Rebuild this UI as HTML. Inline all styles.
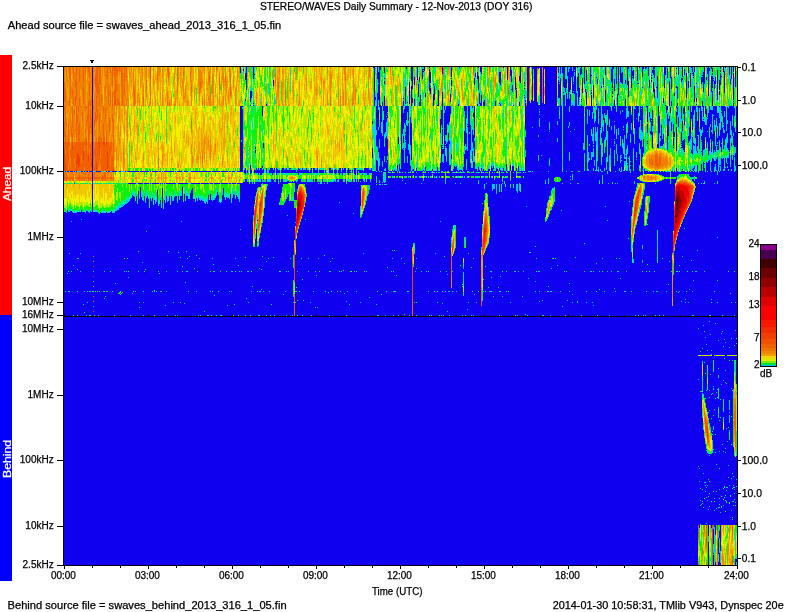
<!DOCTYPE html>
<html><head><meta charset="utf-8"><style>
html,body{margin:0;padding:0;background:#fff;width:792px;height:612px;overflow:hidden}
svg{display:block}
text{font-family:"Liberation Sans",sans-serif;fill:#000;stroke:#000;stroke-width:0.25px}
</style></head><body>
<svg width="792" height="612" viewBox="0 0 792 612" shape-rendering="crispEdges">
<rect x="0" y="55" width="12" height="260" fill="#ff0000"/>
<rect x="0" y="315" width="12" height="266" fill="#0000ff"/>
<rect x="64" y="67" width="673" height="249" fill="#1000f0"/>
<rect x="64" y="317" width="673" height="248" fill="#1000f0"/>
<path fill="none" stroke="#00c8f0" d="M66.5 171v1m1 36v2m1 1v1m0 79v1m1-121v1m0 38v2m0 41v1m1-45v2m1-28v1m0 37v1m2-51v1m0 93v1m1-55v2m1-42v1m0 11v1m0 28v1m1-1v1m1-42v1m0 39v1m0 46v1m0 10v1m1-99v1m0 86v1m2-88v1m0 81v1m0 17v1m1-63v1m0 9v1m3 71v1m1-109v1m0 28v1m1-3v1m0 104v1m1-133v1m0 26v1m0 80v1m0 10v1m1-92v1m1-29v1m0 28v1m0 78v1m1-82v1m1 0v1m2-41v1m0 39v1m2-41v1m0 11v1m0 27v1m1-1v1m1-29v1m1 131v1m1-25v1m1-109v1m2-13v1m0 40v1m1-42v1m0 39v2m1 58v1m0 19v1m0 6v1m1-87v1m2-1v1m0 78v1m1-109v1m0 28v1m1-30v1m0 28v1m1-42v1m1-1v1m0 38v1m1 1v1m1-30v1m0 28v1m1-1v1m0 102v1m1-108v3m1-3v3m1-40v1m0 37v1m1-39v1m0 11v1m0 23v3m1-5v3m1-1v1m1-37v1m0 32v3m1-36v1m0 32v3m1-3v2m2-23v1m0 19v1m1-33v1m0 28v4m0 67v1m1-72v3m1 74v1m1-79v2m1-4v2m0 116v1m2-123v2m0 98v1m1-101v3m0 95v1m1-98v3m2-14v1m0 9v3m2 75v1m1-75v2m2-6v4m1-2v5m0 62v1m1-80v1m0 107v1m0 10v1m0 12v1m1-123v3m1 5v2m1-7v2m0 33v1m1-39v3m1 2v1m1-28v1m0 11v1m0 22v2m1-14v4m1-15v1m0 15v2m1-6v3m2 1v1m1 0v4m1-5v3m0 89v1m2-121v1m0 33v1m0 65v1m1-89v1m0 19v1m1-7v3m0 91v1m1-109v1m0 20v4m3-11v3m1-17v1m0 17v2m0 102v1m1-114v4m0 75v1m0 19v1m1-94v4m0 113v1m1-117v2m4-2v2m1-1v1m2-8v3m0 119v1m2-133v1m0 17v2m0 68v1m0 43v1m1-123v3m1 3v1m1-8v4m1-3v3m0 25v1m1-51v1m0 99v1m1-101v1m1 18v4m0 109v1m2-111v3m0 75v1m1-79v3m1-25v1m0 11v1m0 12v3m1-1v1m1-16v1m0 7v2m4 5v1m1 2v1m1-6v2m0 93v1m1-93v2m1-5v2m1 0v2m1-17v1m0 14v3m0 114v1m1-117v1m1-1v2m1-2v2m1 0v2m1-3v4m1-4v2m1-4v6m1-11v2m0 120v1m1-133v1m3 14v3m0 57v1m1-76v1m0 14v2m0 64v1m0 6v1m1-74v2m0 71v1m1-76v2m1-4v2m0 119v1m1-128v4m1 0v3m0 96v1m2-121v1m1 28v2m0 113v1m1-124v3m3 4v1m1-4v1m1-1v2m1-15v1m0 13v1m1-3v4m0 92v1m1-101v3m1-11v1m0 18v1m0 68v1m0 19v1m1-96v2m0 73v1m1-81v3m1-3v4m1-24v1m0 26v1m0 59v1m1-67v3m1 1v1m1-4v6m0 66v1m1-67v3m0 69v1m1-199v1m0 155v1m1-90v2m1-35v2m1-42v2m0 2v2m0 62v7m1 26v2m1-101v4m0 7v2m0 14v3m0 2v5m0 68v1m0 140v1m1-226v2m0 1v1m0 59v2m0 16v2m1-106v3m0 91v1m0 1v3m0 7v2m0 4v3m0 89v1m1-166v7m0 52v3m0 2v3m0 98v1m0 30v1m2-213v1m0 11v3m0 52v1m0 4v3m0 9v1m0 5v2m1-96v1m0 1v3m0 7v2m0 68v2m0 10v1m0 110v1m1-225v1m0 39v5m0 10v6m0 54v2m1-105v2m0 11v1m0 2v8m0 1v1m0 110v2m1-150v7m0 1v4m0 26v2m0 59v2m0 14v1m0 21v1m1-62v4m0 2v1m0 3v4m0 11v2m0 26v1m0 40v2m1-66v1m0 5v3m0 10v1m0 34v2m1-61v2m0 9v3m0 6v1m0 30v1m0 1v3m1-44v2m0 63v1m0 69v1m1-80v2m0 30v1m0 22v1m1-113v2m0 110v1m1-191v1m0 82v2m0 40v1m0 62v1m1-174v2m0 11v4m0 31v2m0 17v1m1-42v1m0 5v4m0 16v1m0 11v2m0 32v2m0 75v1m1-215v3m0 1v1m0 1v1m0 86v2m0 9v1m0 23v3m1-118v2m0 1v1m0 101v2m1-95v2m0 69v2m0 13v2m0 71v1m1-158v2m0 64v3m0 8v1m0 2v2m1-16v3m0 85v1m1-175v9m0 86v3m0 109v1m1-224v1m0 110v3m1-9v2m2-96v1m0 6v1m0 92v1m1-82v6m0 69v2m0 5v2m1-12v3m2-5v1m0 4v2m1 7v2m1-16v2m0 32v1m2-29v1m1-2v2m1 4v3m1-14v2m0 32v1m1-35v1m0 10v1m0 111v1m1-119v2m0 5v2m0 89v1m1-103v1m0 3v2m0 5v1m0 15v1m0 18v1m1 55v1m2-202v5m0 8v1m0 85v1m2 145v1m1-20v1m1-129v2m1 4v1m0 47v1m1-53v2m1 8v1m0 8v1m0 81v1m0 28v1m1-116v1m1-18v1m0 4v2m1-7v2m1 9v3m2-14v2m0 130v1m2-133v2m0 9v2m0 21v1m0 16v1m1-47v2m0 18v1m2 64v1m0 12v1m1-101v1m0 7v2m1 121v1m1-130v2m0 4v3m0 133v1m1-144v1m1 0v1m1-1v1m1-6v2m0 101v1m1-104v2m1 137v1m1-138v3m0 10v1m0 74v1m1-91v2m0 3v1m0 5v3m1-14v1m0 13v2m1-2v2m2-5v1m0 1v1m1 1v1m2-14v3m1 9v2m2-11v1m0 97v1m1-99v1m2-6v2m0 88v1m1-79v2m1-14v2m0 9v2m1-13v1m0 5v1m0 4v2m2-11v3m0 7v2m0 109v1m1-113v3m1 89v1m1-99v2m1-5v2m0 99v1m2-104v2m1 9v3m0 111v1m1-121v2m1 7v2m0 117v1m1-134v2m0 10v1m0 110v1m1-113v3m2-11v1m0 7v3m2-13v1m1 0v1m0 42v1m1-40v1m0 4v3m2-12v1m0 100v1m0 19v1m1-124v2m1 1v2m2 0v2m0 6v1m0 24v4m0 92v1m1-135v2m0 3v2m0 41v1m1-44v1m0 39v1m1-44v1m0 8v2m0 72v1m1-81v1m0 5v3m0 25v1m1-35v2m0 29v1m1-32v2m0 25v1m0 70v1m1-77v1m2-28v2m0 3v2m0 10v5m1-22v2m0 11v1m2-76v3m0 4v8m0 3v7m0 1v8m0 5v3m0 10v13m1-103v1m0 26v1m0 9v1m0 21v4m1-1v12m0 1v2m1-78v3m0 24v3m0 3v3m0 18v10m0 1v1m0 3v1m0 1v1m0 15v17m1-70v5m0 24v5m0 11v14m0 16v1m0 127v1m1-226v10m0 1v3m0 54v1m0 12v1m1-91v2m0 11v1m0 16v1m0 5v4m0 17v3m0 22v3m0 1v1m0 2v1m0 2v1m0 7v1m0 144v1m1-209v1m0 17v2m0 12v4m0 1v1m0 1v2m0 10v4m0 1v3m0 5v1m0 8v3m1-113v1m0 31v3m0 79v1m1-63v5m0 2v1m0 1v2m1-58v10m0 14v3m0 4v2m0 12v10m0 1v1m0 1v3m0 25v6m0 15v1m0 1v1m1-74v3m0 4v2m0 52v2m0 6v2m1-109v5m0 1v2m0 3v12m0 38v2m0 10v1m0 9v6m0 7v2m0 2v1m0 1v5m0 1v1m0 2v1m1-53v6m0 30v2m0 9v3m0 2v1m0 130v1m1-200v1m0 5v4m0 5v1m0 1v3m0 25v1m0 22v1m0 106v1m1-180v1m0 1v1m0 3v5m0 1v1m0 1v13m0 17v4m1 8v2m0 1v1m3 99v1m1-103v1m0 1v1m0 86v1m1-83v2m0 113v1m0 23v1m1-148v2m1-2v3m1 5v2m1-14v1m0 6v1m1-38v3m0 7v3m0 22v2m0 144v1m1-153v1m0 7v1m1-4v1m0 3v1m2-39v2m0 12v1m0 29v1m0 1v1m1-87v4m0 1v2m0 9v3m0 16v7m0 7v5m0 1v1m1-70v2m0 1v1m0 20v5m0 14v2m0 13v19m0 1v5m0 13v1m0 86v1m1-193v1m0 1v7m0 1v6m0 17v2m0 19v7m0 2v1m0 5v1m0 1v6m0 35v1m1-115v2m0 15v7m0 1v1m0 25v5m0 51v1m1-97v1m0 19v2m0 1v3m0 6v2m0 9v3m0 30v7m1-42v2m0 21v6m0 22v1m1-94v3m0 22v1m0 22v8m0 13v6m0 22v1m1-71v3m0 5v3m0 28v3m0 16v2m0 5v1m1-91v5m0 34v3m0 37v2m1-73v1m0 4v4m0 5v3m0 62v2m0 1v1m1-5v2m0 2v1m0 3v1m1-101v2m0 8v2m0 11v1m0 144v3m0 6v2m1-78v2m0 93v1m1-201v2m0 93v2m0 4v1m0 3v2m0 80v1m0 9v1m1-189v1m0 15v6m0 1v3m0 51v4m0 1v3m1-82v1m1-16v1m0 4v4m0 5v5m0 13v2m0 74v2m1-85v2m0 81v2m1-111v2m0 114v1m1-117v2m0 10v1m0 89v2m1-104v2m0 1v1m0 1v2m0 95v1m0 1v1m0 2v2m0 2v3m1-110v5m0 94v1m0 6v1m1-88v3m0 4v1m0 67v2m0 4v1m0 4v1m1-1v1m0 94v1m1-187v1m0 1v1m1 82v1m0 1v1m1-105v1m0 22v1m0 78v1m0 144v1m1-245v1m0 11v3m0 1v1m0 6v2m0 69v3m0 8v2m1-44v6m0 32v1m0 142v1m1-148v1m0 2v1m0 2v2m1-97v5m0 1v9m0 63v2m0 13v1m1-106v1m0 17v1m0 14v1m0 69v1m0 1v1m0 3v1m1-106v1m0 105v1m0 75v1m1-84v1m1-67v1m0 15v2m0 44v1m0 124v1m1-203v1m0 82v1m1-1v1m0 3v2m1-63v4m0 14v9m0 20v1m0 58v1m1-113v1m0 15v3m0 4v3m0 1v1m0 6v2m0 26v1m0 143v1m1-242v3m0 12v3m0 36v1m0 15v1m0 1v1m0 1v1m0 5v8m0 9v1m0 119v1m0 11v1m1-157v2m0 5v9m0 152v1m1-246v1m0 1v5m0 33v3m1-29v7m0 15v4m0 25v6m0 3v1m0 1v2m0 5v3m0 24v4m1-49v1m0 5v3m0 4v3m0 8v3m0 109v1m1-148v1m0 14v3m0 29v1m0 102v1m0 36v1m1-187v1m0 5v2m0 158v1m1-209v4m0 18v1m0 16v2m0 1v1m0 14v1m0 3v4m0 15v2m0 126v1m1-224v2m0 23v1m0 20v1m0 15v1m0 10v7m0 15v2m1-88v1m0 1v1m0 6v2m0 1v4m0 48v6m0 1v6m0 5v2m0 76v4m1-69v1m0 3v1m0 52v2m1-123v3m0 57v1m0 56v1m1-136v6m0 69v1m0 6v1m1-8v2m0 5v1m0 10v1m0 61v3m1-104v7m0 14v1m0 5v1m0 119v1m1-124v2m0 6v2m1-76v2m0 68v1m0 3v1m1-109v2m0 29v5m0 1v1m0 61v3m1-1v1m0 1v1m0 11v1m1-100v2m0 83v1m1 2v1m0 3v2m1-12v1m0 4v1m0 95v2m0 3v3m0 2v2m0 1v1m0 14v1m1-185v3m0 16v1m0 15v3m0 1v4m0 18v1m0 3v2m1-34v6m0 87v3m1-158v1m0 1v3m0 31v2m0 8v5m0 14v2m0 10v2m0 5v1m0 1v2m1-66v2m0 1v7m0 4v1m0 1v4m0 1v1m0 1v4m0 4v4m0 1v1m0 1v1m0 2v1m0 2v3m0 20v1m0 4v2m0 131v1m1-139v1m1-40v2m0 42v1m1-71v1m0 15v3m0 25v4m0 1v2m0 1v1m0 1v3m1-57v1m0 25v20m0 14v2m1-60v2m0 19v1m0 12v2m0 3v4m0 10v3m0 2v2m0 4v1m1-63v3m0 4v18m0 13v4m0 7v3m0 9v1m0 143v1m1-241v3m0 7v3m0 50v3m0 15v6m0 132v1m1-224v2m0 4v2m0 88v2m0 7v1m1-10v2m0 133v1m1-233v2m0 7v4m0 19v2m0 68v1m0 3v1m1-109v3m0 3v2m0 14v1m0 14v1m0 59v2m0 13v2m1-92v3m0 11v2m0 62v2m0 6v2m1-106v2m0 13v6m0 8v2m1-29v1m0 19v1m0 64v2m0 1v6m0 79v1m1-83v6m0 1v1m0 3v2m0 46v2m0 74v1m1-201v2m0 66v1m0 8v1m0 113v1m1-225v3m0 28v2m0 100v1m1-116v1m0 86v1m0 3v1m0 73v1m1-68v1m1-108v1m0 1v5m0 16v3m0 68v1m0 74v1m1-80v3m0 38v2m1-41v1m0 4v3m0 115v1m1-225v2m0 13v6m0 183v1m0 19v1m1-129v3m0 10v2m1-15v5m0 16v7m1-27v2m0 3v2m0 13v5m0 107v1m1-119v2m0 4v5m1-91v3m0 75v2m1-90v6m0 71v3m0 8v1m0 7v10m1-26v1m1-98v5m0 96v1m1-105v4m0 11v4m0 15v1m0 1v2m0 68v2m0 8v8m0 99v1m1-222v2m0 13v1m0 16v2m0 63v3m0 106v1m1-193v2m0 17v3m0 66v1m1-3v1m0 7v4m0 1v1m0 112v1m1-229v1m0 41v7m0 49v2m1 9v1m0 3v1m1-13v2m1-65v4m0 31v9m0 9v5m0 7v1m1-92v1m0 21v2m0 1v1m2 61v4m1-95v4m0 84v1m0 14v2m0 121v1m1-221v7m0 1v5m0 1v10m1-22v1m0 7v1m0 21v5m0 45v2m1-99v6m0 30v2m0 59v2m0 6v1m0 4v1m1 93v1m1-199v4m0 13v2m0 11v3m0 165v1m1-183v1m0 8v1m0 68v1m0 5v3m0 8v7m1-7v9m1-28v1m0 6v1m0 3v2m0 93v1m1-199v3m0 5v2m0 18v1m0 66v3m0 12v8m1-108v2m0 12v6m0 67v1m0 1v1m1-83v1m0 23v5m1 177v1m1-128v2m0 100v1m1-195v5m0 2v1m0 1v2m0 1v6m0 1v1m0 1v5m0 2v1m1-10v4m0 2v1m0 27v2m0 3v2m0 13v7m0 157v1m1-109v1m2 71v1m1-108v1m1-1v1m0 80v1m1-186v2m1 58v1m0 43v1m3 109v1m3-179v1m0 31v2m0 18v6m0 110v1m1-163v1m0 1v2m0 1v1m0 3v5m0 1v3m0 144v1m0 19v1m0 9v1m2-147v1m2 159v1m2-136v3m1 25v1m1-6v2m1-34v1m0 6v5m0 17v1m0 15v1m0 74v1m1-170v2m0 1v5m0 1v1m0 26v3m0 4v1m0 30v1m1-2v2m0 13v1m0 104v1m1-126v2m0 17v1m0 58v1m0 22v1m1-104v1m1-1v1m0 15v1m4-84v4m0 13v4m1-69v4m0 1v2m0 18v1m1-26v9m0 1v1m0 14v8m0 1v4m0 4v4m1-45v4m0 213v1m1-225v6m0 1v1m0 30v1m1-33v2m0 27v4m0 53v7m0 5v1m0 11v1m1-97v5m0 1v2m1-7v7m1-18v2m0 13v14m1-38v1m0 4v1m0 2v3m0 9v5m0 78v1m1-96v1m0 19v3m0 201v1m1-234v5m0 54v2m1-61v2m0 23v7m0 7v1m0 1v4m0 10v4m0 26v3m0 4v2m0 130v1m1-202v4m0 37v1m0 44v1m0 2v1m0 3v1m1-107v1m0 24v4m0 65v1m1-104v3m0 22v1m0 9v2m0 69v6m0 114v1m0 7v1m1-227v6m0 1v1m0 7v1m0 1v1m0 9v3m1-36v1m0 1v4m0 18v2m0 5v1m0 1v3m0 23v1m2-39v2m1-25v9m0 14v6m0 5v4m0 77v1m0 117v2m1-234v4m0 32v1m0 77v1m1-98v2m0 9v5m1-35v1m0 7v2m1-3v2m0 19v4m0 1v1m0 1v3m1-12v1m1 49v4m0 1v2m1-66v1m0 68v2m1-69v3m0 3v3m0 11v1m1-38v1m0 11v3m0 2v2m0 1v3m0 13v1m0 196v1m1-194v10m0 1v4m0 11v4m0 12v5m0 1v1m0 12v1m1-19v10m0 7v2m1-61v6m0 28v2m0 12v2m1-76v1m0 186v1m1-204v7m0 1v8m0 2v4m0 1v1m0 2v1m0 34v2m0 3v2m0 16v8m0 111v1m1-160v4m0 1v2m0 15v7m0 11v5m0 145v1m1-234v5m0 7v4m0 13v2m0 6v2m0 1v4m0 14v2m0 6v9m0 1v2m0 1v9m0 11v3m0 134v1m1-199v2m0 10v4m0 37v6m1-48v3m0 6v8m0 1v5m0 29v1m1-98v4m0 1v4m0 18v4m0 1v5m0 22v2m0 4v1m0 2v4m0 118v1m1-187v2m0 5v4m0 11v7m0 21v4m0 1v15m0 10v4m0 9v1m0 144v1m1-208v4m0 10v2m0 43v5m1 8v2m0 89v1m1-205v2m0 13v3m0 19v2m0 22v1m0 1v3m0 11v1m0 24v2m1-104v6m0 1v3m0 1v2m0 1v5m0 2v16m0 2v1m0 1v1m0 1v11m0 10v2m0 5v2m0 22v3m0 6v1m1-105v3m0 1v1m0 42v2m0 8v3m0 16v1m0 11v2m0 14v1m0 3v2m0 1v1m0 1v2m0 76v1m1-184v3m0 7v1m0 1v1m0 32v4m0 1v6m1-18v5m0 22v1m0 10v2m0 15v2m1-95v2m0 6v1m0 2v4m0 12v3m0 10v2m0 4v2m0 14v2m0 5v3m0 59v1m1-137v14m0 31v2m0 20v3m0 17v2m0 10v1m1-72v1m0 2v2m0 7v3m0 9v3m0 6v4m0 2v5m0 16v2m0 1v1m0 10v2m0 46v1m0 50v1m1-186v2m0 1v4m0 1v1m0 88v1m1-117v1m0 19v1m0 31v2m0 4v2m0 28v16m0 144v1m1-249v4m0 2v11m0 22v1m0 41v2m0 1v9m1-93v2m0 13v2m0 19v3m0 4v1m0 15v4m0 141v1m1-184v1m0 1v1m0 3v2m0 1v7m0 78v1m1-114v3m1 6v1m0 12v1m0 6v2m0 7v1m0 13v1m0 3v9m0 5v1m0 1v3m0 1v1m0 4v3m0 10v3m0 122v1m1-216v10m0 100v1m1-100v3m0 23v2m0 17v3m0 4v3m0 5v4m0 3v3m1-75v1m0 13v1m0 60v7m0 22v1m0 87v1m1-177v1m0 32v7m1 33v2m0 88v1m1-177v2m0 27v3m0 22v2m0 7v1m0 9v8m0 8v1m1-105v6m0 10v1m0 12v2m0 1v1m0 55v1m0 1v1m0 2v1m0 6v5m1-105v5m0 12v3m0 23v2m0 27v1m0 7v1m1-22v2m0 1v1m0 13v4m0 4v3m0 16v1m1-89v1m0 2v9m0 41v15m0 1v1m0 2v5m0 2v3m0 127v1m1-214v2m0 4v2m0 12v1m0 55v1m0 2v2m0 2v4m0 3v2m1-64v1m0 1v11m0 5v3m0 10v2m0 10v5m0 1v1m0 115v1m1-187v3m0 26v3m0 5v2m0 7v2m0 12v3m0 4v2m0 9v1m0 1v6m1-102v3m0 6v3m0 16v3m0 11v6m0 41v1m1-92v4m0 85v2m0 10v3m1-37v2m0 6v1m0 18v1m0 3v1m0 3v2m0 1v1m1-85v2m0 24v1m0 8v2m0 1v4m0 86v1m0 32v3m1-185v4m0 5v1m0 1v3m0 13v2m0 111v2m1-141v2m0 9v1m0 53v1m0 14v3m0 108v3m1-154v1m0 19v3m0 9v4m0 37v2m1-106v1m0 3v3m0 24v1m0 82v1m0 35v1m1-123v1m0 12v1m0 33v6m0 1v1m0 27v1m1-107v2m0 3v2m0 95v2m0 35v1m1-147v9m0 2v1m0 27v1m0 6v2m0 93v1m1-148v3m0 56v2m0 8v2m0 4v3m0 5v3m0 11v2m0 44v2m1-146v1m0 1v1m0 16v7m0 27v6m0 1v5m0 1v8m0 8v4m0 55v1m1-117v3m0 11v1m0 1v1m0 21v3m0 1v2m0 1v3m1-63v10m0 45v4m0 21v1m0 12v1m0 10v1m0 16v1m0 46v4m0 11v3m1-194v2m0 48v1m0 10v1m0 1v7m0 14v1m0 15v2m0 1v1m0 20v2m0 120v1m1-201v4m0 28v6m0 36v1m0 21v1m1-143v2m0 8v5m0 16v1m0 96v3m1-132v2m0 37v1m0 23v2m1-66v3m0 52v2m0 9v8m0 1v1m0 1v4m0 69v2m0 5v1m1-149v1m0 29v1m0 105v1m1-141v1m0 4v3m0 8v3m0 26v2m0 81v3m1-113v4m0 21v3m0 4v3m0 1v5m0 3v3m0 34v1m1-101v4m0 1v1m0 2v1m0 2v2m0 31v4m0 1v1m0 14v2m1-70v3m0 3v3m0 31v3m0 16v6m1-57v7m0 10v1m0 198v1m1-223v1m0 8v11m0 9v1m1 84v1m1-101v1m0 1v2m0 1v5m0 9v4m0 185v1m1-223v1m0 1v5m0 22v3m0 16v7m0 9v1m0 3v1m0 1v5m0 96v7m1-180v1m0 26v1m0 1v2m0 83v1m1-84v8m0 9v1m0 17v2m0 7v6m1-68v1m0 49v6m0 2v3m0 5v2m1-25v2m0 21v2m1-81v10m0 59v3m0 7v2m1-52v2m0 5v2m0 14v6m0 8v1m0 10v1m1-57v2m0 31v3m0 23v2m1-74v1m0 25v4m0 18v1m0 4v1m0 1v2m1-65v1m0 45v8m0 170v1m1-225v1m0 10v1m0 31v4m0 57v1m1-54v1m0 17v4m1-61v2m0 27v1m0 4v3m0 5v4m0 17v6m0 23v1m0 89v1m1-184v2m0 26v1m0 6v4m0 12v1m0 42v1m1-98v2m0 12v4m0 5v3m0 20v1m0 9v1m1-20v1m0 4v10m0 41v3m1-50v3m0 13v1m0 8v1m0 1v3m1-84v10m0 1v4m0 9v2m0 3v2m0 33v1m0 5v4m0 29v1m2-104v1m0 1v4m0 1v3m0 5v4m0 2v5m0 15v4m0 12v3m0 24v3m0 12v2m0 12v1m1-98v4m0 12v4m0 3v1m0 8v3m0 58v1m0 94v1m1-197v2m0 38v2m0 10v1m0 41v3m0 3v2m0 115v1m1-217v7m0 25v9m0 9v2m0 21v4m0 18v1m0 93v1m0 25v1m1-176v6m1-46v2m0 4v2m0 35v3m0 8v2m0 10v1m0 1v1m0 1v1m0 1v6m1-77v1m0 2v4m0 35v2m0 10v1m0 7v2m0 7v5m0 14v2m0 1v1m0 85v1m1-177v5m0 22v1m0 6v1m0 16v2m0 1v1m0 2v3m0 10v2m1-85v2m0 6v1m0 49v2m0 9v3m0 13v3m0 13v3m0 57v1m1 70v1m0 2v1m1-231v1m0 25v4m1-20v6m0 32v8m1-55v8m0 7v3m0 11v2m0 6v4m0 19v3m0 7v3m0 156v1m1-178v2m0 14v1m0 12v1m0 11v5m0 118v1m1-223v6m0 14v1m0 51v11m0 16v4m1-102v2m0 40v2m0 7v1m0 16v5m0 1v1m0 2v5m0 3v1m0 23v3m1-108v1m0 1v3m0 2v9m0 1v1m0 40v2m0 1v4m0 17v5m0 7v3m0 1v1m0 120v1m0 23v1m1-247v3m0 4v1m0 1v1m0 13v1m0 1v1m0 20v3m0 22v3m0 2v10m0 11v2m0 3v1m0 5v2m0 101v1m1-209v1m0 10v1m0 1v1m0 16v4m0 4v3m0 29v2m0 2v6m0 17v2m0 5v1m0 2v2m0 2v1m0 7v1m1-54v1m0 5v6m0 15v1m0 105v1m1-198v9m0 1v4m0 5v5m0 4v2m0 1v2m0 2v3m0 39v2m0 18v1m0 99v1m1-205v3m0 1v1m0 14v2m0 19v4m0 9v1m0 14v1m0 10v5m0 2v1m1-84v8m0 57v3m0 1v1m0 32v1m0 10v1m0 144v1m0 50v1m1-297v1m0 24v2m0 20v2m0 17v5m0 16v1m0 297v1m0 59v3m0 33v1m1-436v2m1-56v2m0 7v3m0 21v3m0 19v6m0 4v1m0 1v5m0 1v3m0 1v3m0 8v1m0 19v1m0 320v1m1-435v5m0 1v1m0 5v1m0 15v1m0 1v1m0 6v5m0 5v4m0 6v6m0 23v2m0 203v1m0 18v6m0 1v5m0 1v1m0 21v3m0 71v1m1-420v2m0 20v2m0 11v1m0 11v2m0 1v1m0 29v3m0 1v1m0 5v2m0 21v1m0 141v1m0 68v1m0 34v1m0 43v1m1-390v5m0 3v1m0 1v8m0 19v1m0 27v4m0 11v4m0 13v2m0 88v1m0 164v2m0 44v1m1-369v1m0 4v6m0 12v1m0 13v1m0 185v1m0 144v1m0 2v1m0 5v1m1-418v3m0 3v4m0 22v3m0 8v8m0 23v1m0 12v1m0 182v1m0 103v1m0 1v1m0 46v1m1-431v1m0 45v4m0 1v1m0 12v1m0 10v2m0 17v2m0 8v1m0 178v1m0 61v1m0 39v1m0 32v1m0 14v1m1-405v3m0 11v3m0 42v2m0 1v3m0 251v1m0 5v1m0 33v2m0 55v1m0 26v6m1-475v1m0 3v5m0 51v1m0 8v2m0 13v5m0 2v2m0 155v1m0 5v1m0 68v1m0 6v1m0 12v1m0 12v2m0 30v1m0 50v1m1-416v1m0 1v1m0 1v2m0 11v2m0 14v3m0 12v1m0 12v1m0 9v6m0 166v1m0 92v3m1-361v2m0 3v2m0 16v1m0 13v4m0 20v2m0 20v2m0 6v2m0 137v1m0 50v1m0 3v1m0 39v1m0 56v1m0 76v1m1-462v1m0 4v1m0 2v1m0 12v3m0 15v4m0 4v8m0 2v1m0 2v7m0 7v2m0 14v1m0 235v1m0 40v1m0 5v4m0 7v2m1-377v2m0 1v1m0 1v3m0 10v1m0 20v1m0 37v2m0 3v1m0 212v1m0 14v1m0 1v2m0 36v4m0 19v1m0 78v1m0 15v2m0 4v3m0 1v1m1-475v1m0 8v4m0 7v1m0 19v5m0 1v5m0 19v2m0 8v1m0 6v4m0 12v1m0 314v1m0 28v2m0 7v1m0 1v1m0 1v2m0 4v6m1-476v1m0 48v2m0 17v2m0 6v2m0 3v4m0 3v5m0 283v1m0 82v1m0 13v3m0 7v3m1-463v1m0 18v3m0 2v4m0 18v3m0 9v2m0 11v1m1-104v3m0 30v1m0 10v2m0 13v1m0 8v3m0 4v2m0 1v1m0 4v7m0 15v3m0 6v2m0 54v1m0 64v1m0 86v1m1-278v1m0 37v2m0 8v7m0 173v1m0 27v1m0 6v3m0 10v1m0 8v2m0 8v2m0 4v5m0 89v1m0 28v2m0 16v1m0 5v2m1-486v1m0 1v2m0 10v1m0 4v6m0 6v11m0 5v3m0 8v2m0 4v2m0 18v5m0 1v1m0 4v1m0 279v1m0 37v1m0 39v2m0 7v2m0 11v2m1-484v1m0 2v1m0 12v3m0 18v3m0 12v2m0 4v3m0 17v2m0 11v5m0 1v4m0 342v1m0 38v12m1-489v2m0 1v3m0 19v4m0 8v1m0 1v9m0 21v1m0 8v6m0 175v1m0 50v1m0 122v1m1-392v1m0 9v2m0 10v3m0 17v1m0 172v1m0 112v1m1-373v1m0 1v1m0 48v1m0 1v2m0 1v5m0 16v1m0 6v2m0 11v2m0 209v1m0 18v1m0 10v2m0 5v2m0 32v1m0 53v1m1-413v3m0 9v1m0 5v6m0 13v3m0 12v5m0 18v3m0 168v1m1-272v3m0 35v1m0 32v1m0 17v1m0 9v1m0 174v1m0 27v1m0 11v1m0 65v1m1-329v11m0 6v4m0 3v6m0 8v5m0 265v1m0 58v1m0 13v1m1-435v4m0 35v1m0 13v4m0 9v2m0 5v3m0 5v2m0 7v1m0 5v1m0 2v2m0 273v1m0 45v1m0 39v1m1-424v1m0 1v2m0 42v2m0 4v2m0 11v2m0 294v1m1-391v5m0 19v1m0 52v1m0 194v1m0 54v8m0 2v1m0 2v8m0 7v2m0 53v1m1-410v3m0 5v3m0 34v3m0 7v4m0 3v2m0 24v3m1-88v2m0 24v1m0 24v2m0 8v3m0 3v2m0 5v2m0 14v1m0 132v1m0 85v1m0 27v1m0 93v1m1-396v3m0 6v2m0 10v2m0 20v2m0 341v1m1-430v1m0 27v1m0 1v1m0 30v3m0 9v2m0 6v2m0 234v6m0 51v1m0 29v1m1-394v1m0 22v2m0 8v3m0 8v1m0 19v3m0 2v4m0 1v2m0 8v3m0 284v2m0 31v1m0 1v1m1-403v1m0 18v9m0 15v2m0 15v6m0 13v5m0 159v1m0 33v8m0 166v8m0 12v1m1-481v1m0 305v1m0 67v4m0 23v1m0 77v2m0 3v2"/>
<path fill="none" stroke="#00f0a0" d="M64.5 171v1m0 39v1m1-1v1m0 79v1m2-109v1m0 22v2m0 65v1m1-64v1m0 60v1m1-89v1m0 25v1m0 81v1m1-109v1m0 23v2m1 0v2m1 0v1m1-1v2m0 102v1m1-106v1m1 0v1m1-29v1m0 26v2m1-2v1m0 80v1m1-81v1m1-1v1m1-2v2m1-4v1m1 2v1m1-41v1m1 38v2m0 100v1m1-102v1m1-3v1m1-1v1m1-39v1m0 38v1m1 0v1m1-3v1m0 105v1m1-106v1m1 80v1m1-109v1m0 26v1m1-1v2m0 103v1m1-106v1m0 80v1m1-82v1m1-1v2m1-29v1m0 28v1m1 0v1m1-3v1m1-41v1m1 38v2m1-2v1m1-28v1m0 27v2m1-42v1m0 39v1m1-1v1m1-41v1m0 11v1m0 27v1m1-1v1m1-1v1m1-1v1m1-29v1m0 25v1m1 0v2m0 79v1m1-82v2m1-3v3m1-29v1m0 22v2m0 75v1m1-78v2m1-2v3m1-6v4m1-4v2m1-22v1m0 21v2m0 84v1m1-91v3m1-3v3m1-33v1m0 28v4m1-2v3m0 53v1m1-59v3m1-6v3m1-17v1m0 13v3m0 58v1m1-62v5m0 69v1m1-123v2m0 1v2m0 1v1m0 1v2m0 38v2m1-6v4m1-2v3m1-7v2m1-21v3m0 15v3m1-1v2m1 4v3m1-10v2m1-10v1m0 17v3m2-10v3m2-6v2m1-1v3m1 3v3m1-10v2m0 78v1m1-74v3m1-8v3m1-6v3m1 2v3m1 6v2m1-14v2m1 2v3m1-7v3m1 5v5m1-9v3m0 91v2m1-97v5m1-3v2m2 2v4m1-5v3m0 70v1m1-79v2m1 5v2m0 87v1m2-109v1m0 21v4m1-14v2m1 1v3m1-93v4m0 78v2m1 4v2m1-1v2m0 52v1m1-59v3m1 1v8m1-13v4m1-1v4m1-3v4m1-29v1m0 22v3m1-7v3m1-22v1m0 11v1m0 10v2m1 2v3m1-10v2m0 59v1m1-56v2m1-9v2m0 110v1m1-112v2m1 73v1m1-67v2m1-15v3m1 9v2m0 81v1m1-93v3m1-2v2m0 78v1m1-78v2m1-25v1m0 11v1m0 11v3m0 58v1m1-86v1m0 17v2m3 6v2m1-4v3m1 0v3m1-8v3m0 59v1m1-86v1m0 25v3m1-5v2m1 0v2m0 60v1m1-63v2m1-2v3m1-4v4m1-3v3m1 0v2m1-3v2m1-27v4m0 20v3m1-5v3m0 117v1m1-126v3m1 4v3m2-1v1m0 115v1m1-120v2m0 93v1m1-97v3m1-4v4m0 97v1m1-103v3m1-6v4m1-8v2m1 2v2m1 7v3m1-19v1m0 15v4m1-5v2m1-11v3m2 0v5m1-1v3m1-6v3m0 75v1m1-80v4m1-2v3m1-4v2m1-8v4m1 8v3m1-9v3m0 119v1m1-129v4m1-2v2m0 113v1m1-109v2m1-27v1m0 11v1m0 6v2m1 1v3m1-5v2m0 122v1m1-120v3m1-125v2m3-3v2m0 57v3m0 7v2m0 27v1m1 8v2m1-115v2m0 25v2m1-4v1m0 1v1m0 53v5m0 2v4m0 11v1m0 127v1m1-229v3m0 86v2m0 1v1m0 3v2m1-75v7m0 13v3m0 47v2m1-46v6m0 28v4m1-85v1m0 15v2m0 29v16m0 1v1m0 1v2m0 10v7m0 1v4m1-82v1m0 1v4m0 1v1m0 12v1m0 72v2m0 4v1m0 1v1m0 89v1m1-204v4m0 34v1m0 5v3m0 2v5m0 6v2m1-49v5m0 1v2m0 1v2m0 1v2m0 44v1m0 77v1m1-139v2m0 22v2m0 2v1m0 56v2m0 17v1m1-44v3m0 14v3m0 13v2m0 4v1m0 17v1m0 38v1m1-63v1m0 51v1m1-121v6m0 61v1m0 15v1m0 28v1m0 5v2m0 65v1m1-117v1m0 68v1m1-139v1m0 62v1m0 3v2m0 4v2m0 54v1m0 79v1m1-235v3m0 48v1m0 48v1m0 6v4m1-95v4m0 1v2m0 18v4m0 60v1m0 38v1m0 43v1m1-152v1m0 8v2m0 4v2m0 27v2m0 58v1m1-83v2m0 10v8m0 13v2m0 38v1m1-139v2m0 3v1m0 1v1m0 1v2m0 86v1m0 7v1m0 21v3m1-137v1m0 20v1m0 2v1m0 1v1m0 75v3m0 21v1m1-94v1m0 82v4m1-121v4m0 108v2m1-91v1m0 88v3m1-101v3m0 9v1m1-27v1m0 1v3m0 6v1m0 94v2m2 0v4m1-105v1m0 1v3m0 8v1m0 80v2m0 87v1m1-190v6m0 22v2m0 6v2m0 209v1m4-147v1m1 3v2m0 28v2m0 66v1m2-99v1m0 19v2m2-89v3m0 64v2m0 29v1m0 89v1m1-122v1m0 27v1m1-29v2m0 5v2m1-3v1m0 18v1m1-31v1m1-1v1m0 14v1m0 9v1m1-21v2m0 17v9m1-134v3m0 5v8m0 1v6m0 83v1m0 84v1m1-78v1m1-13v1m0 3v2m0 22v4m1-33v1m0 12v1m0 15v4m1-14v5m1-19v1m0 117v1m0 10v1m1-123v2m0 105v1m1-120v2m0 3v1m0 5v1m0 52v1m1-58v3m1 113v1m1-119v2m1-6v1m0 3v2m0 83v1m1-86v1m0 105v1m0 35v1m2-132v1m1-4v1m2-14v2m0 9v3m1-14v2m0 9v3m1-12v1m0 10v1m1-1v1m2-12v2m1 2v1m0 116v1m1-118v1m1-2v2m1-2v2m1-2v1m2 0v1m1-6v1m1-2v2m1-2v2m1 4v1m0 5v1m1-11v3m0 82v1m1-88v2m0 3v2m1 4v3m2-12v3m0 119v1m1-119v1m0 4v3m0 133v1m1-142v1m0 86v1m1-83v3m0 109v1m1-119v2m0 4v3m1-3v1m2 1v1m3-14v2m1 32v1m1 88v1m3-119v2m1-2v2m3 4v1m2-1v1m1 91v1m2-104v1m0 4v2m1-4v2m1-57v8m0 147v1m1-97v4m1-8v2m0 8v1m1-7v4m2-11v2m1-2v2m0 40v5m1-30v2m1-19v2m1 40v1m1-37v1m1 28v1m1-25v3m0 17v1m1-25v4m0 14v2m1-10v1m0 7v1m1 103v1m1-119v2m1-8v2m1-66v4m0 18v1m0 8v5m1-76v2m0 20v4m0 1v6m0 2v1m0 19v3m0 4v3m1-8v4m0 12v1m0 2v5m1-80v2m0 21v1m0 9v3m0 2v13m0 10v1m0 1v3m0 1v1m0 1v6m0 7v2m1-59v6m0 70v1m0 5v2m1-90v1m0 58v1m0 9v2m0 155v1m1-249v3m0 31v2m0 52v1m0 1v2m0 1v2m0 1v7m1-62v1m0 15v1m0 18v1m0 1v1m0 16v1m0 21v1m1-114v2m0 26v3m1 25v2m0 1v1m0 40v1m1-98v1m0 10v1m0 11v2m0 9v2m0 9v1m0 10v1m0 1v1m1-44v8m0 17v4m0 56v2m0 1v3m1-44v1m0 8v1m0 26v1m0 1v1m0 5v1m0 1v1m1-108v3m0 92v1m0 5v3m1-112v2m0 33v3m0 21v5m0 1v1m1-10v1m0 1v1m1 41v1m1 2v1m0 1v1m1-62v1m0 1v7m0 50v1m0 1v1m1-78v4m1 69v1m0 81v1m1-79v1m1-6v1m0 82v1m0 40v1m1-125v1m1-77v2m0 1v1m0 1v2m0 177v1m1-114v2m1-58v3m0 2v1m0 1v1m0 2v1m0 14v3m0 13v1m0 9v3m0 7v2m1-7v1m1-76v1m0 78v2m1 90v1m1-123v2m0 8v2m0 24v1m1-96v1m0 1v2m0 7v6m0 14v2m1-32v2m0 2v1m0 1v3m0 15v2m0 32v2m0 19v1m0 19v1m1-110v3m0 1v1m0 7v1m1-10v1m0 12v2m0 7v1m0 1v4m0 78v1m1-104v1m0 1v4m0 1v2m0 15v2m0 14v1m0 6v2m0 168v1m2-214v1m0 26v2m0 1v11m0 1v1m0 3v3m0 8v13m1-76v1m0 1v1m0 34v5m0 34v8m0 7v1m1-45v1m0 42v1m1-73v4m0 70v4m0 79v1m1-142v1m0 59v1m0 99v1m1-194v2m0 12v2m0 8v1m0 71v2m0 75v6m1-151v1m1-33v2m0 2v1m0 90v2m0 136v1m1-222v1m0 13v1m0 6v1m0 15v1m0 2v1m0 32v3m0 4v1m0 3v6m1-74v2m1-32v1m0 1v4m0 14v4m1-4v1m0 1v1m0 1v2m1-24v2m0 54v5m0 17v6m0 23v1m0 94v1m1-192v1m0 13v8m0 64v3m1-95v1m0 93v1m1-93v2m0 91v1m0 2v1m0 3v1m1-88v1m0 8v2m0 8v4m0 2v1m1 62v1m1-96v1m0 1v1m0 1v1m0 1v2m0 31v4m1-44v6m0 81v2m0 6v1m1-85v1m0 65v7m0 2v3m1-101v2m0 93v1m0 3v2m1-37v1m0 6v3m1-20v1m0 1v3m0 39v1m1-92v3m0 76v2m0 2v2m0 2v1m0 5v2m1-103v3m0 13v1m0 16v1m0 66v2m0 7v1m1-111v4m0 1v1m0 14v2m1 19v4m0 56v2m0 2v1m0 3v2m1-96v2m0 18v2m0 12v4m0 2v3m0 40v1m0 136v1m1-215v1m1 81v1m1-57v1m0 27v2m0 17v1m0 109v1m1-166v3m0 19v4m0 3v1m0 1v6m1-56v2m1 17v7m0 33v1m1-76v1m0 5v1m0 1v1m0 1v1m0 90v1m0 83v1m1-177v4m0 7v3m0 54v5m0 25v2m0 111v1m1-156v2m0 1v2m0 10v3m0 1v4m1-92v4m0 17v2m0 35v1m0 12v1m0 38v1m1-52v5m1-49v1m0 4v2m0 15v1m0 19v1m0 1v5m0 7v2m0 8v15m0 152v1m1-249v1m0 34v1m0 24v3m0 1v10m0 7v3m0 11v1m1-70v2m0 43v3m0 6v1m0 13v1m0 79v2m1-74v2m0 60v1m0 59v1m1-186v2m0 3v3m0 29v9m0 14v2m0 58v2m0 25v1m1-165v1m0 6v1m0 65v3m0 60v1m1-112v1m0 11v8m0 30v1m0 60v7m0 9v4m1-103v2m0 7v2m0 11v1m1-64v1m0 1v2m0 38v8m0 16v1m0 4v1m1-106v6m0 28v1m0 36v9m0 23v1m0 6v1m1-108v1m0 26v2m0 5v1m0 60v2m0 9v2m1-111v1m0 60v6m0 34v1m0 96v1m1-184v2m0 2v2m0 79v2m0 3v1m0 3v2m1-50v3m0 38v2m0 113v1m0 1v1m1-122v1m0 100v1m0 8v2m0 2v1m0 1v2m0 11v1m1-181v2m0 13v1m0 19v1m1 90v4m0 71v1m1-237v3m0 1v1m0 3v1m0 32v8m0 33v5m0 1v1m1-66v2m0 2v1m0 7v4m0 1v1m0 11v4m0 4v1m0 1v1m0 1v2m0 1v2m1-78v1m0 1v2m2-2v3m0 8v1m0 23v3m0 44v1m0 2v1m0 1v1m1-53v4m0 8v2m0 9v2m0 20v3m0 17v1m0 142v1m1-206v1m0 16v2m0 15v3m0 17v2m1-59v3m0 42v7m0 18v1m1-105v2m0 13v4m1-24v3m0 8v1m0 86v1m0 10v1m1-94v4m0 78v1m1-99v2m0 13v1m0 17v1m0 4v4m0 1v1m0 65v1m1-107v3m0 17v2m0 8v4m0 59v1m0 7v1m0 9v2m1-95v1m0 77v1m0 4v1m1-99v2m0 9v2m0 6v2m1-20v2m0 16v1m0 63v2m0 2v1m0 9v1m1-9v2m0 61v1m0 71v2m1-202v2m0 30v5m0 31v2m0 4v1m0 3v1m0 102v1m1-210v2m0 112v5m0 12v2m1-136v1m0 14v3m0 1v1m0 57v2m0 1v11m0 19v1m0 88v1m0 24v1m1-116v2m1-103v1m0 1v1m0 5v1m0 12v3m0 3v4m0 63v1m0 24v3m1-93v2m0 14v5m0 40v1m0 43v2m0 32v1m1-78v2m0 3v1m0 44v1m1-148v1m0 11v1m0 6v2m1 1v1m0 70v1m0 108v1m0 19v1m1-225v1m0 94v1m1-96v2m0 5v1m0 1v1m0 14v4m0 5v6m0 57v1m1 6v1m1-75v2m0 65v7m1-83v1m0 17v1m0 66v1m1-7v2m1-100v3m0 5v2m1-11v1m0 19v5m0 4v1m0 1v4m0 65v1m0 5v1m0 141v1m1-248v2m0 16v1m0 36v2m0 41v1m1-85v2m0 2v2m0 13v2m0 65v3m0 13v8m1-115v4m0 88v1m0 101v1m1-165v3m0 7v1m0 11v6m0 14v1m0 15v1m0 10v2m1-10v1m0 13v1m1-116v6m0 17v2m0 2v1m0 20v6m0 22v3m0 21v2m0 7v2m0 6v3m1-77v3m0 11v6m0 7v4m0 9v9m0 18v1m0 113v1m1-211v3m0 8v1m0 6v3m0 2v1m0 65v1m2-82v1m0 74v3m1-87v2m0 1v1m0 1v6m0 14v1m0 72v1m0 5v4m1-119v1m0 25v1m1-14v2m0 9v2m0 16v3m0 5v3m0 41v1m1-91v4m0 25v1m0 60v1m0 20v4m2-117v2m0 28v2m0 212v1m1-229v1m0 11v2m0 1v4m0 39v4m0 17v1m0 4v1m1-66v3m0 1v1m1 29v2m0 22v1m1-82v1m0 14v3m0 65v2m1-83v1m0 9v2m0 6v1m0 64v2m0 14v8m1-106v4m0 1v3m0 10v2m0 6v2m0 5v2m0 9v8m1-66v7m0 29v7m0 50v6m1-3v1m0 3v1m0 3v2m1-102v1m0 26v2m0 27v1m0 3v8m0 7v1m1-85v10m0 17v2m0 36v3m0 37v1m2 142v1m4-247v2m2 0v1m0 1v4m2 169v1m0 44v1m1-21v1m2-172v3m0 1v1m1-8v2m0 24v1m3 176v1m0 14v1m3-133v1m0 33v1m1-9v1m0 10v1m1-16v1m0 12v1m1-18v1m0 13v1m0 70v1m1-163v1m0 36v4m0 32v1m0 15v1m1-17v1m0 11v1m0 81v1m1-100v1m1-4v1m0 16v1m1-18v1m0 10v4m0 54v1m1-72v1m0 11v3m1 56v1m1-78v1m1 83v1m1-167v2m1-34v6m0 38v4m2-42v1m0 1v1m0 26v3m0 105v1m1-110v1m0 4v9m0 1v1m0 29v2m0 6v5m0 7v5m0 135v1m2-36v1m1-196v1m1-10v1m0 1v4m0 1v2m1 1v1m0 17v1m2 11v1m0 47v4m0 124v1m2-206v1m0 21v2m1-35v1m0 26v3m0 3v3m0 68v1m1-70v1m1-7v5m0 1v1m2-18v1m0 1v4m1 6v5m1-35v2m0 102v1m1-104v1m0 16v1m0 16v4m0 65v1m1-95v1m1 13v4m1-19v2m0 16v1m1-21v1m0 1v1m0 70v1m1-63v1m0 43v1m0 1v8m0 16v1m0 13v2m0 72v1m1-174v1m0 1v4m0 7v1m0 1v1m0 9v1m1-29v2m0 15v2m0 2v1m0 202v1m1-212v1m0 1v2m0 35v1m0 19v2m0 2v1m0 4v3m0 5v1m0 1v5m0 5v2m1-102v1m0 22v4m2-10v3m1-21v1m0 16v2m0 45v3m1-18v1m1-50v2m0 5v3m0 1v1m0 1v1m0 19v2m0 6v1m0 20v6m1-26v2m0 5v3m1-52v1m0 2v8m0 34v6m0 17v1m1-65v2m0 9v2m0 50v4m0 1v2m0 4v5m0 10v1m0 1v9m0 120v1m1-218v3m0 11v3m0 6v2m0 32v1m0 15v3m0 1v2m0 2v2m1-45v4m0 3v3m1-39v1m0 98v1m1-114v3m0 6v4m0 3v3m0 15v1m0 29v1m0 8v2m1-71v1m0 3v1m0 2v1m0 23v2m0 1v1m0 1v1m0 11v2m0 1v2m0 2v3m0 9v1m0 8v5m0 7v1m1-92v1m0 1v3m0 41v2m0 5v1m0 20v2m0 7v2m0 22v1m0 1v1m0 2v1m1-109v1m0 13v2m0 1v7m0 26v1m1-57v1m0 72v3m0 2v5m0 19v1m1-94v6m0 1v2m0 19v1m0 11v4m0 18v2m0 2v1m1-77v3m0 14v1m0 1v2m0 2v3m0 10v3m0 11v2m0 16v2m0 22v2m0 6v2m1-72v1m0 1v2m0 2v3m0 7v2m0 2v5m0 13v2m0 5v3m0 15v1m1-78v1m0 1v1m0 2v1m0 4v1m0 1v1m1-28v2m0 13v1m0 2v1m0 1v6m0 1v2m0 24v4m1-54v2m0 12v1m0 64v1m0 9v2m0 9v1m1-88v1m0 17v1m0 5v2m1-6v2m1-34v3m0 30v1m1-39v5m0 4v2m0 14v2m0 1v3m0 55v2m0 7v1m1-94v1m0 1v2m0 10v2m0 86v1m0 119v1m1-205v1m0 14v1m0 1v2m0 2v2m0 22v4m0 12v3m0 107v1m1-184v4m0 1v2m0 10v1m1 3v2m0 173v1m1-185v1m0 1v4m0 77v1m1-27v1m0 133v1m1-195v1m0 9v2m0 2v1m0 1v2m1-15v1m0 52v3m0 1v3m1-80v6m0 74v4m1-78v1m0 1v1m0 1v5m0 1v1m0 10v3m0 53v1m0 1v2m0 10v1m1-89v2m0 8v2m0 9v1m0 67v3m0 123v1m1-165v2m0 6v2m0 17v1m0 1v15m1-81v5m0 16v3m0 10v3m0 3v1m0 17v4m1-80v6m0 22v3m1-32v3m0 84v10m1-99v1m0 1v1m0 1v1m0 62v2m0 1v3m1-52v2m0 33v1m0 91v3m0 23v6m1-168v2m0 9v2m0 2v3m0 110v1m0 50v3m1-196v1m0 12v3m0 49v1m0 18v9m0 39v1m0 41v1m0 20v1m1-157v2m0 23v9m0 92v2m1-162v5m0 1v3m0 3v4m0 138v1m0 88v1m1-233v1m0 18v3m0 83v1m1-105v2m0 2v1m0 2v1m0 93v1m0 33v1m1-148v2m0 10v1m0 1v1m0 27v2m0 1v3m0 94v1m1-144v2m0 22v5m0 6v3m0 4v3m0 13v1m0 4v3m0 9v5m0 16v1m0 8v1m0 2v1m0 29v2m1-143v1m0 1v4m0 8v4m0 7v2m0 10v1m0 20v1m0 5v1m0 20v2m0 52v1m1-141v1m0 23v1m0 3v1m0 37v1m0 2v1m0 67v1m1-117v3m0 45v1m0 8v2m0 11v1m0 37v2m1-127v1m0 34v2m0 6v5m0 1v5m0 1v4m0 1v1m0 22v1m0 13v1m0 4v1m0 18v1m1-81v3m0 4v2m0 21v5m0 6v1m0 31v4m0 23v5m1-146v3m0 2v3m0 5v3m0 8v5m0 1v4m0 64v2m0 29v5m0 110v1m1-246v3m0 10v1m0 2v2m0 2v1m0 17v1m0 20v2m0 2v7m0 83v2m0 46v1m0 19v1m1-211v2m0 21v2m0 42v2m0 66v1m1-140v1m0 17v11m0 1v14m0 50v1m0 36v1m0 1v2m1-145v5m0 1v4m0 33v2m0 85v3m1-113v3m0 4v2m0 16v3m0 10v1m0 11v1m1-71v1m0 2v1m0 13v3m0 19v1m0 7v1m0 22v1m1-62v1m0 29v1m1-14v2m0 31v5m1-32v2m1-31v1m0 5v6m0 233v1m1-235v2m0 1v1m0 8v9m1-35v2m0 1v1m0 30v1m0 12v3m0 7v9m0 1v3m0 1v1m0 91v6m0 1v3m0 7v1m0 1v1m0 7v6m0 28v1m1-224v3m0 12v1m0 2v1m0 3v4m0 1v1m0 2v5m0 71v1m1-80v3m0 16v1m0 20v7m0 173v1m1-239v3m0 1v3m0 22v1m0 1v1m0 19v2m0 41v1m1-50v1m0 57v1m1-104v6m0 29v3m0 13v5m0 1v2m0 12v1m0 109v1m1-180v1m0 1v2m0 12v1m0 9v1m0 11v2m0 6v1m0 6v1m0 12v1m0 30v1m0 138v1m1-226v2m0 14v1m0 12v2m0 3v1m0 20v2m1-71v1m0 21v3m0 8v5m0 5v4m0 1v4m0 1v1m0 2v4m1-68v3m0 2v1m0 1v8m0 38v3m0 19v7m0 21v1m1-93v2m0 69v1m1-35v2m0 22v3m0 28v1m0 5v1m0 106v1m1-218v1m0 10v1m0 27v2m0 1v4m0 12v1m0 13v3m0 6v2m1-70v4m0 3v1m0 1v1m0 10v6m0 11v2m0 7v3m0 1v1m0 42v4m1-105v3m0 18v5m0 22v1m0 11v1m0 9v3m1-37v4m0 1v4m0 10v1m0 125v1m1-158v7m0 3v1m0 12v2m0 30v3m0 13v4m0 102v2m1-193v2m0 6v1m0 7v2m0 28v3m0 10v3m0 23v3m0 7v2m1-8v1m1-95v5m0 11v5m0 56v3m0 6v3m0 105v1m0 19v1m1-211v2m0 35v1m1-42v2m0 12v2m0 19v3m0 13v1m0 39v1m0 8v1m1-111v3m0 1v1m0 1v3m0 7v1m0 22v2m0 9v4m0 2v3m0 2v2m0 17v2m0 4v1m0 117v1m1-205v4m0 42v3m0 6v2m0 102v1m1-152v1m0 46v1m0 5v2m0 24v2m0 10v3m1-85v4m0 30v1m0 13v1m0 5v1m0 14v2m0 11v1m1-88v1m0 5v3m0 18v1m0 8v1m0 12v3m0 2v1m0 1v2m0 15v1m1-77v1m0 50v3m0 4v2m0 19v2m0 9v2m1-101v10m0 37v4m1-48v2m0 30v2m0 1v1m0 65v1m0 119v1m1-211v1m0 28v10m0 8v2m0 1v2m0 2v2m1-46v2m0 6v3m0 2v2m0 21v1m0 1v4m0 13v2m0 26v1m1-63v5m0 6v2m0 17v2m0 11v6m0 3v2m0 10v1m1-89v1m0 61v2m0 13v1m0 12v1m1-109v1m0 35v4m0 10v1m0 13v2m0 5v1m0 1v2m0 9v2m0 24v1m0 79v1m1-184v2m0 9v1m0 1v3m0 39v1m0 26v1m0 5v1m0 11v2m0 19v1m0 72v1m1-205v2m0 10v4m0 6v3m0 1v1m0 1v5m0 2v1m0 2v1m0 12v5m0 15v2m0 15v5m0 3v3m1-93v2m0 7v1m0 1v1m0 28v4m0 2v2m0 1v6m0 12v2m0 10v3m0 9v2m1-27v5m0 6v3m0 13v5m0 6v1m1-108v4m0 14v5m0 14v2m0 44v1m0 11v6m0 7v1m1-109v1m0 1v1m0 10v3m0 25v1m0 5v3m0 34v1m1-88v3m0 8v2m0 58v1m0 1v1m0 11v1m0 8v1m0 304v1m1-387v3m0 2v3m0 3v1m0 1v1m0 1v2m0 13v2m0 42v1m0 13v2m0 361v1m0 30v2m1-433v4m0 216v1m0 39v1m0 96v1m0 16v1m1-419v1m0 19v1m0 39v1m0 7v2m0 4v2m0 362v8m0 4v2m0 1v1m1-473v2m0 13v1m0 13v1m0 1v1m0 12v5m0 261v2m0 6v1m0 7v3m0 16v2m0 86v1m1-435v3m0 24v2m0 8v1m0 48v1m0 1v2m0 1v2m0 235v1m0 31v2m0 78v1m0 29v5m1-453v3m0 1v1m0 8v1m0 17v1m0 32v2m0 7v1m0 20v1m0 147v1m0 66v1m0 36v1m0 62v1m1-417v2m0 1v3m0 17v1m0 9v4m0 19v1m0 13v3m0 1v1m0 6v2m0 6v1m0 201v1m0 24v1m0 4v1m0 39v1m1-372v2m0 10v1m0 64v1m0 10v1m0 229v1m0 56v1m1-374v2m0 25v1m0 10v1m0 31v2m0 1v1m0 1v4m0 7v1m0 204v6m0 17v2m0 23v1m0 37v1m0 87v1m1-441v5m0 4v2m0 47v1m0 261v1m1-344v4m0 1v1m0 46v1m0 5v2m0 20v2m0 267v2m0 26v1m1-362v1m0 1v1m0 2v1m0 8v2m0 32v1m0 9v2m0 1v2m0 6v1m0 6v3m0 203v1m0 55v2m1-361v3m0 19v1m0 9v3m0 48v1m0 3v2m0 11v1m0 329v1m0 27v1m0 17v2m0 1v1m1-429v2m0 1v2m0 16v2m0 4v8m0 274v1m0 12v3m0 1v3m1-377v2m0 9v1m0 5v3m0 1v2m0 58v3m0 202v3m0 6v2m0 156v1m0 18v4m1-472v2m0 13v7m0 1v2m0 22v1m0 26v1m0 6v1m0 11v1m0 119v1m0 218v1m0 18v2m0 1v4m0 1v1m0 1v1m0 2v4m0 6v3m0 6v4m1-490v1m0 8v1m0 42v1m0 13v3m0 10v3m0 12v2m0 152v1m0 110v1m0 101v3m0 7v3m0 3v7m1-492v1m0 22v1m0 1v1m0 2v4m0 1v6m0 15v2m0 25v3m0 5v1m1-56v1m0 4v5m0 16v2m0 3v3m0 48v1m0 213v1m1-292v6m0 40v1m0 5v2m0 7v4m0 218v2m0 5v1m0 12v4m0 120v3m0 19v5m1-493v3m0 5v1m0 1v1m0 23v2m0 23v3m0 3v2m0 8v1m0 16v1m0 344v1m0 2v1m0 19v2m0 11v2m0 6v3m1-463v1m0 20v2m0 8v2m0 2v4m0 22v1m0 20v1m0 228v1m1-328v2m0 6v2m0 14v3m0 4v3m0 390v1m0 9v1m1-390v2m0 6v1m0 15v7m0 9v1m1-85v1m0 1v1m0 6v1m0 67v1m0 4v1m0 190v1m0 53v1m0 8v1m0 9v1m0 79v1m1-433v4m0 25v2m0 5v2m0 45v2m0 13v3m0 318v2m0 9v1m1-427v2m0 67v2m0 13v2m0 343v1m1-391v10m0 21v3m0 6v2m0 3v3m1-87v2m0 62v2m0 1v2m0 10v1m0 4v2m0 368v2m0 1v4m0 1v1m1-464v1m0 2v6m0 24v1m0 1v1m0 48v2m0 271v1m1-348v2m0 1v1m0 12v3m0 1v3m0 297v2m0 30v2m0 69v1m1-437v2m0 2v1m0 2v2m0 11v1m0 36v7m0 9v2m0 19v3m0 129v1m0 202v1m1-416v2m0 17v5m0 27v1m0 1v1m0 3v2m0 8v2m0 2v1m0 17v1m0 167v1m0 139v1m1-361v2m0 2v2m0 14v2m0 16v2m0 232v1m0 82v1m1-327v1m0 4v1m0 242v3m0 45v3m0 41v1m1-407v2m0 1v4m0 31v8m0 23v2m0 7v2m0 2v4m0 3v2m0 188v1m0 91v2m0 39v1m0 5v1m1-412v13m0 14v3m0 11v1m0 172v1m0 57v4m0 8v4m0 129v1m0 25v7m0 8v2m0 8v2m1-482v2m0 1v2m0 257v1m0 4v1m0 41v1m0 64v2m0 34v1m0 69v1m0 7v1"/>
<path fill="none" stroke="#10f010" d="M64.5 183v1m0 24v3m1-28v1m0 24v3m1-1v3m1-11v4m1-23v1m0 23v3m1-5v4m1-6v4m1-1v3m0 62v1m1-89v1m0 23v4m1-2v2m1-30v2m0 22v5m1-2v3m1-5v4m1-27v1m0 22v4m0 105v1m1-133v1m0 23v4m1-40v1m0 37v2m1-28v1m0 22v4m1-27v1m0 21v3m1-25v1m0 23v4m1-28v1m0 25v3m0 92v1m1-122v1m0 22v4m1-39v1m0 35v4m1-28v1m0 21v4m1-3v3m1-2v3m1-3v4m0 104v1m1-133v1m0 19v6m0 82v1m1-85v3m2-3v3m0 61v1m0 9v1m0 9v1m0 14v1m1-136v1m0 11v1m0 23v3m1-4v4m1-27v1m0 21v5m1-5v5m0 81v1m1-84v4m1-29v1m0 26v3m1-5v3m1-28v1m0 24v5m1-7v4m1-27v1m0 23v3m0 81v1m1-84v3m1-28v1m0 24v3m0 85v1m1-114v1m0 23v4m0 80v1m1-85v4m1-3v3m1-4v4m1-28v1m0 23v4m0 60v1m1-67v4m1-26v1m0 20v6m1-3v3m1-27v1m0 1v2m0 1v7m0 9v5m1-37v3m0 9v22m1-23v1m0 1v7m0 8v6m1-23v5m0 13v5m1-26v3m0 1v19m0 90v1m1-111v9m0 6v5m0 89v2m1-122v5m0 2v1m0 4v8m0 9v4m0 87v1m0 1v1m1-112v18m0 92v1m1-111v1m0 3v4m0 1v9m0 91v1m1-110v17m1-29v1m0 11v19m0 69v1m1-88v16m1-17v1m0 4v9m1-13v13m1-91v2m0 60v3m0 13v13m1-81v11m0 15v7m0 2v1m0 2v1m0 1v1m0 2v8m0 1v3m0 21v5m1-29v1m0 15v9m1-3v5m1-49v2m0 1v1m0 23v4m0 2v4m0 1v7m1-23v3m0 4v2m0 2v3m0 2v6m1-18v1m0 11v8m1-24v3m0 17v10m0 93v1m1-124v3m0 14v6m1-83v8m0 52v3m0 23v7m1-76v11m0 32v1m0 18v4m0 60v1m1-81v1m0 12v10m0 108v1m0 4v1m1-198v10m0 48v2m0 14v3m1-81v1m0 1v1m0 59v3m0 13v7m1-12v4m0 1v8m1-2v8m1-71v1m0 44v5m0 2v1m0 4v7m1-80v3m0 1v1m0 16v11m0 25v3m0 13v14m0 71v1m1-102v3m0 1v3m0 1v1m0 2v2m0 3v9m1-64v1m0 38v3m0 14v5m1-84v2m0 76v11m1-71v2m0 2v1m0 39v3m0 20v13m1-35v2m0 3v3m0 2v4m0 1v8m1-1v5m1-28v3m0 13v8m0 99v1m1-108v16m1-10v6m0 119v1m1-146v1m0 1v5m0 2v4m0 1v11m1-61v7m0 45v2m0 4v5m1-82v1m0 72v2m1-5v5m0 5v6m1-95v7m0 76v11m1-64v4m0 28v3m0 13v2m0 2v7m1-84v9m0 77v5m1-18v4m1-20v2m0 1v1m0 26v7m1-21v11m1-25v1m0 20v7m1-92v2m0 4v12m0 1v1m0 1v16m0 25v3m0 14v5m1-6v12m1-12v13m1-13v9m1-84v1m0 15v6m0 37v3m0 1v5m0 2v2m0 3v13m1-13v8m1-24v2m0 11v1m0 2v11m1-101v3m0 71v3m0 18v7m0 106v1m1-197v3m0 73v1m0 1v10m1-26v2m0 14v6m1-116v1m0 113v6m1-2v6m1-14v7m1-22v2m0 16v1m0 3v6m1-13v6m0 67v1m1-88v1m0 3v1m0 9v7m1-7v3m1-3v4m0 6v6m1-30v1m0 13v3m1-19v3m0 13v15m1-31v3m0 5v1m0 2v4m0 1v6m0 61v1m1-68v7m0 67v1m1-91v3m0 18v5m0 97v1m1-104v7m1-27v3m0 13v5m1-5v6m1-6v4m1-20v3m0 13v13m1-13v1m0 1v9m0 73v1m1-101v3m0 21v6m1-110v15m0 65v3m0 13v9m1-25v2m0 14v3m0 2v7m0 75v1m1-88v10m0 121v1m1-148v3m0 13v12m1-7v7m1-24v5m0 13v6m1-9v8m1-27v3m0 21v4m1-90v2m0 62v1m0 13v6m0 3v6m0 112v1m1-142v1m0 3v3m0 2v2m0 3v14m1-26v1m0 4v1m0 1v2m0 3v13m1-13v11m1-23v5m0 2v1m0 4v6m1 0v7m1-7v4m0 77v1m0 19v1m1-207v9m0 74v1m0 2v1m0 18v9m1-15v5m0 1v6m1-90v5m0 57v3m0 20v4m1-88v1m0 61v2m0 13v10m1-88v3m0 64v3m0 8v1m0 3v5m1-25v3m0 13v6m1-22v3m0 13v2m1-29v2m0 25v6m1 2v7m1-115v1m0 1v4m0 103v6m0 72v1m0 43v1m1-136v3m0 1v14m1-26v5m0 2v1m0 4v5m1-19v1m0 2v4m0 7v4m1-119v1m0 106v1m0 7v8m1-8v12m1-90v2m0 1v1m0 41v1m0 16v3m0 13v9m1-9v8m0 113v1m1-159v1m0 20v4m0 16v6m1-9v8m1-9v3m1-16v1m0 21v6m1-132v3m0 102v4m0 12v5m1-25v3m0 13v3m0 128v1m1-174v5m0 38v4m1-81v4m0 56v3m0 20v5m0 75v1m1-86v4m1-62v8m0 32v3m0 13v9m1-8v6m1-23v3m0 5v1m0 2v3m0 2v12m1-120v3m1-10v16m0 1v1m0 5v1m0 1v1m0 1v6m0 169v1m1-171v3m1-29v6m0 2v9m0 14v26m0 12v5m0 2v2m0 12v3m0 2v1m0 1v1m0 6v3m1-102v7m0 14v5m0 15v9m0 17v3m0 23v2m0 4v1m1-98v2m0 8v2m0 32v10m0 25v4m0 1v1m0 8v4m0 78v1m1-163v2m0 29v11m0 5v6m0 11v8m0 6v2m0 2v2m1-106v4m0 1v10m0 12v7m0 5v16m0 11v20m0 9v2m0 5v4m1-112v5m0 17v4m0 7v6m0 10v31m0 3v1m0 2v2m0 3v5m0 5v2m0 3v2m0 4v3m1-77v3m0 7v4m0 6v15m0 6v7m0 4v7m0 18v2m1-117v5m0 1v6m0 7v2m0 23v8m0 16v1m0 1v1m0 2v10m0 25v4m0 136v1m1-249v3m0 1v9m0 1v1m0 19v3m0 2v15m0 9v3m0 1v1m0 40v1m1-104v6m0 10v2m0 1v5m0 19v2m0 13v38m0 118v1m1-201v1m0 2v1m0 16v11m0 12v10m0 1v10m0 1v17m0 3v2m0 6v3m0 36v3m0 24v2m1-166v4m0 16v2m0 5v7m0 1v28m0 2v1m0 1v16m0 4v2m0 3v2m0 30v2m0 37v3m1-180v1m0 10v1m0 5v1m0 1v2m0 17v35m0 20v4m0 1v3m0 12v2m0 16v2m0 34v2m1-169v3m0 42v32m0 14v10m0 25v1m0 30v2m1-145v7m0 24v16m0 22v1m0 23v1m0 15v1m0 23v4m0 8v5m0 10v6m1-138v7m0 26v2m0 16v8m0 8v3m0 8v2m0 15v1m0 36v3m1-176v9m0 30v33m0 12v8m0 8v1m0 6v1m0 5v1m0 14v2m0 36v1m1-159v5m0 3v3m0 19v15m0 1v1m0 1v8m0 1v15m0 27v4m0 8v1m0 4v2m0 37v2m1-158v9m0 9v4m0 7v18m0 4v5m0 10v27m0 7v4m0 8v3m0 33v2m1-143v5m0 32v8m0 8v6m0 2v10m0 5v4m0 6v2m0 3v2m0 4v3m0 2v1m0 33v4m0 34v1m1-172v1m0 2v1m0 17v2m0 13v9m0 4v1m0 1v4m0 20v7m0 8v4m0 5v1m0 25v3m1-145v1m0 1v5m0 11v4m0 30v15m0 8v19m0 2v1m0 2v3m0 9v1m0 17v5m1-135v1m0 1v13m0 2v1m0 1v3m0 6v1m0 72v1m0 10v3m0 9v3m1-110v9m0 1v1m0 1v1m0 1v3m0 29v4m0 41v4m0 136v1m1-245v7m0 24v2m0 2v7m0 3v10m0 42v2m0 3v2m1-92v7m0 1v3m0 12v33m0 5v6m0 18v2m0 3v2m1-108v14m0 13v3m0 9v11m0 33v9m0 8v3m0 3v2m1-103v6m0 1v6m0 3v2m0 1v13m0 1v1m0 69v1m0 139v1m1-231v1m0 40v8m0 31v3m0 7v4m0 125v1m1-211v6m0 6v6m1-43v5m0 1v1m0 12v2m0 13v1m0 1v1m0 1v16m0 50v2m1-108v1m0 6v3m0 16v3m0 79v4m1-79v4m0 9v8m0 48v1m0 9v3m1-76v25m0 1v9m0 20v7m0 7v4m1-18v7m0 7v4m1-73v4m0 58v1m0 4v2m0 4v3m1-7v4m1-9v3m0 6v3m0 16v7m0 66v1m1-190v19m0 67v2m0 5v4m0 16v10m1-90v8m0 52v4m0 8v4m0 10v4m1-96v28m0 12v9m0 7v3m0 16v9m0 8v3m1-86v3m0 8v1m0 44v1m0 4v3m0 2v17m1-17v4m0 11v2m1-93v2m0 65v4m0 5v14m0 117v1m1-237v1m0 1v18m0 7v10m0 8v1m0 1v3m0 28v11m0 7v2m0 2v1m0 4v12m1-68v1m0 37v2m0 1v1m0 3v2m0 5v1m0 3v9m1-81v11m0 57v2m0 4v6m1-102v3m0 81v1m0 6v1m0 11v1m0 6v1m1-62v6m0 23v2m0 3v2m0 13v13m1-33v1m0 14v14m1-91v8m0 52v1m0 2v1m0 3v2m0 8v14m0 58v13m0 12v16m0 6v1m1-236v5m0 23v1m0 10v1m0 66v2m0 5v1m0 2v4m0 13v8m0 32v1m1-73v2m0 5v1m0 4v1m0 19v8m0 45v2m1-188v13m0 69v1m0 19v1m0 3v2m0 4v1m0 20v6m0 32v1m0 52v1m1-198v2m0 78v1m0 15v2m0 123v1m1-188v4m0 46v1m0 7v1m0 41v1m1-120v1m0 65v4m0 5v1m1-10v4m0 42v1m1-113v9m0 16v1m0 33v1m0 6v4m0 39v1m1-113v6m0 36v1m0 25v1m0 4v3m1-115v7m0 27v5m0 67v2m0 4v3m0 2v1m1-35v9m0 9v2m0 3v2m0 4v3m0 3v2m1-25v4m0 7v2m0 12v3m0 11v1m1-27v4m0 15v3m1-91v1m0 20v10m0 16v8m0 12v2m1-57v11m0 13v5m0 26v2m1-64v5m0 57v2m0 1v3m1-64v5m0 38v2m0 1v6m0 1v2m0 3v2m0 4v2m1-54v15m0 33v4m1-66v1m0 54v1m0 4v2m0 4v3m1-76v1m0 2v2m0 1v11m0 52v4m1 0v3m1-7v4m0 128v1m1-133v4m0 96v1m1-102v1m0 4v3m1-49v4m0 36v2m0 4v3m1-7v2m0 94v1m1-181v3m0 12v4m0 13v3m0 47v2m0 4v3m1-9v2m0 4v1m1-7v2m0 2v2m1-11v2m0 3v1m0 3v1m1-5v2m0 4v3m1-3v3m0 109v1m1-119v2m2-72v2m0 63v1m0 5v1m0 4v3m1-15v1m1 11v3m0 89v1m1-104v2m0 3v2m2-5v3m1-66v5m0 53v3m0 5v2m1 0v3m1-84v3m0 71v2m0 3v2m0 1v3m1-6v2m0 3v1m1-65v3m0 56v2m1 0v4m1-73v7m0 3v1m0 58v4m1-6v6m1-4v4m1 0v3m0 88v1m1-149v8m0 4v8m0 33v1m1-1v4m1-45v21m0 15v3m0 142v1m1-143v2m1 0v4m1-11v2m0 3v2m0 5v2m0 122v1m1-136v1m0 3v2m1-76v1m0 19v2m0 49v3m0 7v2m0 89v1m1-136v1m0 38v4m1-19v1m0 1v3m0 3v2m0 9v3m1-76v10m0 8v4m0 47v4m1-50v4m1-44v3m0 23v1m0 52v2m0 9v2m1-51v2m1-37v9m0 30v12m0 7v1m0 2v14m0 3v2m0 4v3m1-9v2m1 0v4m0 36v3m1-95v7m0 9v1m0 18v8m0 9v4m0 8v3m0 25v1m1-106v13m0 28v7m0 1v1m0 15v4m0 6v1m0 26v1m1-40v2m0 34v1m1-35v3m0 28v1m0 64v1m1-166v4m0 32v1m0 12v13m0 7v4m0 6v1m0 14v3m1-119v4m0 87v1m0 20v3m1-94v1m0 79v8m1-66v1m0 13v9m0 16v2m0 7v4m0 7v7m1-18v4m1-6v2m1 0v4m2-108v20m0 11v2m0 2v10m0 2v6m0 10v5m0 15v16m1-64v1m0 12v7m0 24v3m0 12v6m1-99v3m0 16v2m0 13v2m0 37v7m1-81v1m0 1v22m0 84v4m0 1v1m1-36v9m0 133v1m1-189v2m1 4v4m0 7v4m1-51v8m0 16v2m1-32v10m0 3v6m0 208v1m1-224v3m0 12v4m0 3v4m0 13v9m1-52v4m0 1v1m0 3v1m0 8v4m0 8v9m0 70v1m1-40v8m1-76v6m0 3v7m0 87v4m1-107v3m0 26v4m0 3v1m1-37v3m0 195v1m1-146v5m0 27v13m0 5v1m1-67v6m0 55v3m0 6v2m1-89v4m0 13v5m0 1v1m0 7v9m0 8v18m0 10v5m0 6v2m1-87v4m0 4v4m0 3v11m0 33v8m0 5v4m1-100v2m0 1v6m0 34v6m0 50v2m0 8v2m1-73v2m0 58v6m0 100v1m1-198v1m0 45v8m0 9v1m0 1v1m0 24v3m0 5v1m1-106v2m0 16v21m0 8v3m0 1v1m0 27v5m0 12v4m0 124v1m1-206v5m0 2v1m0 1v1m0 2v11m0 40v5m0 15v2m1-65v43m0 9v4m0 10v1m0 3v2m1-104v3m0 32v2m0 1v1m0 1v2m0 1v14m0 17v9m0 3v7m1-23v7m0 8v3m0 15v1m1-111v5m0 11v4m0 1v5m0 32v1m0 1v14m0 2v1m0 9v13m0 10v2m0 137v1m1-140v2m1-76v4m0 32v8m1-74v5m0 1v1m0 2v7m0 18v2m1-34v4m0 9v5m0 1v9m0 23v11m0 178v1m1-248v1m0 104v1m0 3v2m1-106v2m0 8v2m0 15v5m0 1v1m1-39v7m0 1v1m0 7v2m0 11v2m0 17v6m1 55v2m0 113v1m1-219v5m0 29v1m0 11v1m0 1v3m0 48v1m0 142v1m1-248v4m0 1v1m0 1v4m0 13v1m0 1v5m0 57v5m0 1v1m0 9v1m1-67v13m0 44v8m1-10v3m0 12v2m0 70v1m1-182v6m0 1v1m0 1v4m0 27v4m0 19v6m0 1v2m0 18v9m0 6v1m0 70v2m0 19v2m1-199v1m0 1v4m0 16v8m0 21v14m0 8v11m0 13v5m0 133v1m1-209v7m0 1v4m0 13v9m0 13v15m1-89v2m0 5v3m0 22v1m0 45v2m0 15v2m0 151v1m1-234v3m0 7v3m0 11v12m0 1v2m0 1v3m0 19v10m1-83v1m0 8v3m0 16v7m0 3v11m0 9v2m0 36v4m1-80v9m0 11v11m0 11v5m0 1v1m0 8v10m0 10v3m1-89v5m0 1v1m0 1v1m0 17v6m0 30v8m0 15v4m1-100v10m0 18v2m0 1v4m0 5v6m0 2v6m0 5v17m0 6v5m0 11v2m0 6v1m1-97v3m0 6v4m0 8v8m0 53v3m0 6v1m1-98v2m0 15v7m0 7v29m0 7v4m0 19v3m1-90v15m0 2v1m0 12v7m0 12v11m0 30v1m1-90v1m0 2v1m0 1v5m0 11v8m0 4v2m0 1v12m0 1v2m0 12v7m0 13v3m0 7v1m1-11v9m1-104v2m0 9v4m0 1v1m0 6v16m0 3v12m0 4v11m0 26v9m1-95v5m0 6v2m0 74v5m0 9v1m0 93v1m0 19v1m1-199v2m0 14v9m0 18v4m0 12v6m0 7v2m1-100v2m0 27v3m0 28v11m0 23v3m0 6v1m1-42v4m0 10v7m0 20v1m0 5v2m1-111v1m0 2v12m0 21v3m0 10v7m0 1v1m0 3v13m0 10v6m0 7v3m1-100v9m0 30v11m0 12v3m0 19v4m0 6v2m0 1v5m1-98v3m0 9v1m0 18v3m0 11v13m0 36v3m0 123v1m1-219v5m0 5v4m0 2v5m0 35v6m0 30v1m0 1v2m0 1v1m1-91v10m0 11v7m0 4v9m0 2v1m0 14v8m0 8v3m0 2v9m1-101v1m0 11v3m0 2v18m0 7v7m0 9v4m0 34v2m1-85v1m0 1v2m0 1v3m0 59v10m0 11v3m1-103v2m0 21v5m0 71v3m0 145v1m1-210v8m0 30v3m0 11v3m1 11v1m0 3v2m1-101v10m0 85v1m1-78v1m0 1v2m0 2v1m0 1v3m0 7v23m0 8v2m0 26v1m0 3v2m1-111v3m0 8v1m0 1v1m0 1v7m0 14v3m1-39v2m0 6v5m0 14v4m0 7v1m0 65v1m0 1v3m1-109v3m0 1v1m0 66v1m0 15v1m0 17v1m1-102v4m0 5v1m0 1v6m0 2v5m0 31v4m0 2v6m0 38v1m1-6v1m0 4v2m1-98v2m0 7v2m0 10v3m0 27v7m0 34v1m0 3v2m1-108v7m0 1v1m0 11v3m0 10v2m0 10v2m0 8v2m0 24v11m1-67v2m0 8v8m0 9v7m0 1v8m0 24v5m0 76v4m1-180v3m0 11v3m0 1v1m0 16v1m0 1v2m0 61v2m0 63v3m0 36v1m1-191v1m0 32v11m0 13v5m0 9v8m0 1v5m0 6v1m0 3v2m0 50v3m1-158v6m0 6v4m0 8v3m0 27v35m0 64v3m0 20v2m1-184v4m0 18v10m0 7v8m0 1v11m0 8v5m0 23v2m0 12v2m0 54v9m1-135v6m0 1v15m0 8v6m0 11v3m0 6v2m1-97v8m0 22v4m0 1v1m0 2v14m0 18v6m0 8v4m0 9v3m1-94v5m0 22v1m0 5v4m0 22v6m0 9v11m0 10v2m1-99v4m0 17v5m0 12v25m0 25v6m0 7v1m1-105v4m0 34v3m0 14v5m0 6v4m0 11v3m0 1v1m0 12v2m0 4v1m1-106v2m0 10v3m0 6v2m0 24v48m0 1v4m1-59v20m0 3v12m0 1v1m0 19v5m0 146v1m1-210v11m0 35v5m0 1v1m0 1v1m0 1v3m0 7v1m0 90v3m0 17v3m0 6v2m1-227v1m0 13v2m0 1v1m0 3v1m0 3v8m0 16v13m0 108v11m1-181v4m0 18v7m0 148v4m1-174v5m0 9v3m1-24v7m0 8v8m0 9v3m0 70v1m1-106v3m0 1v1m0 2v3m0 13v16m0 66v1m0 4v1m0 75v1m0 48v1m1-229v8m0 90v1m1-106v5m0 3v8m0 1v5m0 21v7m0 1v4m1-11v8m0 2v9m0 25v4m0 4v3m0 10v2m0 89v1m1-157v2m0 2v1m0 3v8m0 49v2m0 113v1m1-211v2m0 23v1m0 65v1m0 3v1m0 81v1m1-192v6m0 19v8m1-33v1m0 12v4m0 7v1m0 47v11m0 13v3m1-86v4m0 4v3m0 17v19m0 9v13m0 15v2m0 6v1m0 3v2m1-111v1m0 16v4m0 10v3m0 9v1m0 1v6m0 35v3m0 1v1m0 5v8m1-78v8m0 5v14m0 3v11m0 28v2m0 12v2m0 113v1m1-209v6m0 17v11m0 2v1m0 1v12m0 2v9m0 19v4m1-91v9m0 10v6m0 17v9m0 2v12m0 24v2m0 1v1m1-92v3m0 11v2m0 13v2m0 46v3m0 91v2m1-114v7m0 9v11m0 40v1m0 23v3m0 60v8m1-227v1m0 1v2m0 1v10m0 9v3m0 8v3m0 9v2m0 1v1m0 1v7m0 5v22m0 6v3m0 45v4m1-143v4m0 1v2m0 1v5m0 1v1m0 3v1m0 1v6m0 8v3m0 34v11m0 15v2m0 32v5m1-140v5m0 1v8m0 5v6m0 1v1m0 1v10m0 4v15m0 14v5m0 2v1m0 11v9m0 3v1m0 22v6m0 50v1m1-78v1m0 74v1m1-181v8m0 9v2m0 8v2m0 10v1m0 34v3m0 21v4m0 3v1m0 3v2m0 19v6m0 41v1m1-167v10m0 1v2m0 9v4m0 2v4m0 5v5m0 5v14m0 23v3m0 46v5m0 26v1m0 44v1m1-196v11m0 3v8m0 5v10m0 25v3m0 1v2m0 2v4m0 51v7m0 11v3m1-168v2m0 8v1m0 9v2m0 45v12m1-72v1m0 1v12m0 1v25m0 7v5m0 8v12m0 8v5m0 115v1m1-210v4m0 30v4m0 42v14m0 10v1m1-104v5m0 1v1m0 1v5m0 2v1m0 1v5m0 4v5m0 6v2m0 24v14m0 15v2m1-65v1m0 1v6m0 62v2m0 2v1m1-106v4m0 22v3m0 34v14m0 13v6m0 7v1m1-104v8m0 8v4m0 7v4m0 2v5m0 9v4m0 16v2m0 1v1m0 25v2m1-81v13m0 67v2m0 5v1m0 4v2m1-111v1m0 10v4m0 7v7m0 9v1m0 10v5m0 46v1m0 1v2m0 5v2m0 109v1m1-196v4m0 1v1m0 16v16m0 35v2m1-100v1m0 19v3m0 9v3m0 17v4m0 2v4m0 34v3m0 125v1m1-213v3m0 6v3m0 9v1m0 57v1m0 5v4m1-94v3m0 4v2m0 17v5m0 8v16m0 21v5m0 11v3m0 3v1m1-104v2m0 28v8m0 11v11m0 6v4m0 3v7m0 1v7m0 6v2m0 7v1m1-76v1m0 1v3m0 1v1m0 33v19m0 8v4m0 1v2m0 12v1m1-111v5m0 3v1m0 1v7m0 2v2m0 1v6m0 5v9m0 6v2m0 14v6m0 3v21m1-71v1m0 1v8m0 7v11m0 6v7m0 35v1m0 3v1m0 94v1m1-188v8m0 1v6m0 68v3m0 2v1m0 3v2m1-32v3m0 142v1m1-207v4m0 1v10m0 1v5m0 4v11m0 11v10m0 17v5m1-82v1m0 1v1m0 6v4m0 8v2m0 23v10m0 24v2m0 9v3m1-109v2m0 40v2m0 16v5m0 38v1m1-93v4m0 13v4m0 7v5m0 11v20m0 8v13m1-86v17m0 1v1m0 1v5m0 9v12m0 37v3m1-96v2m1 0v2m0 21v9m0 5v4m0 9v6m0 12v9m0 15v10m1-104v1m0 15v4m0 14v1m0 4v1m0 4v4m0 25v5m0 4v7m0 7v3m1-57v1m0 1v7m0 18v15m0 4v4m0 10v2m0 1v1m0 4v1m0 137v1m1-181v5m0 2v6m0 14v2m1-97v6m0 11v4m0 8v2m0 54v4m0 7v3m0 6v1m1-87v9m0 9v10m0 16v7m0 10v21m0 8v2m1-111v5m0 11v3m0 8v10m0 5v3m0 9v9m0 8v3m0 24v6m1-102v3m0 7v20m0 7v2m0 7v50m1-75v6m0 68v1m0 1v2m1-96v4m0 50v6m0 1v3m0 8v7m0 1v5m1-80v10m0 1v6m1-3v7m2 73v1m1 80v1m1-174v3m1-11v3m0 12v12m0 1v1m2-31v2m0 1v1m0 4v2m3 179v1m2-163v4m1-5v2m0 2v5m6 114v4m1-12v4m0 4v2m1-18v1m0 3v2m0 9v1m0 73v1m1-109v1m0 18v1m0 11v1m1-17v2m0 11v2m1-15v2m0 7v2m1-16v3m0 11v2m1-19v4m0 10v2m0 52v1m1-69v10m1-22v3m0 7v11m1-22v5m1-5v4m1-85v1m0 1v4m0 79v1m1-81v5m0 71v5m1-5v5m1-4v3m1-105v5m0 17v4m1-27v26m0 14v1m0 1v29m0 2v6m3-87v9m0 239v1m1-45v1m1-194v5m0 6v6m4-16v2m0 13v6m1-3v3m1-6v8m2 155v1m1-191v1m0 11v6m0 1v1m3-20v1m0 1v16m1-7v8m0 18v2m1-30v2m0 11v2m0 224v1m1-249v1m0 1v7m0 19v4m0 1v1m0 2v2m1-37v6m0 1v1m0 1v6m0 15v8m1-20v2m0 12v14m0 2v13m0 1v1m0 8v11m0 6v13m0 102v1m1-205v3m0 1v1m0 4v7m0 1v1m0 11v2m2-23v5m0 1v1m0 2v8m0 49v2m0 1v4m0 15v5m1-101v1m0 1v7m0 1v3m0 2v2m0 2v5m0 4v3m1-30v1m0 1v1m0 2v11m1 4v7m2-15v4m1-7v1m0 1v1m0 22v4m0 165v1m1-205v5m0 39v5m1-48v2m0 8v6m0 22v6m1-45v4m0 13v1m0 12v3m0 50v10m0 1v1m1-95v7m0 17v6m0 53v1m0 2v2m1-86v11m0 23v3m0 10v3m1-39v3m0 1v10m0 89v1m0 105v1m1-218v6m0 10v4m0 8v3m0 31v8m1-19v1m0 2v2m0 13v8m0 5v7m1-86v9m0 12v1m0 1v8m0 12v5m0 23v7m0 30v1m0 87v1m1-202v4m0 16v1m0 7v6m1-37v1m0 1v4m0 71v2m0 145v1m1-151v2m1-58v1m0 2v2m0 3v10m0 16v16m0 26v6m1-89v8m0 8v3m0 18v2m0 28v13m0 13v1m1-92v3m0 1v1m0 11v3m1-29v4m0 6v3m0 1v2m0 8v1m0 2v9m1-22v1m0 1v5m0 12v3m0 56v5m1-82v17m0 4v2m1 75v1m1-109v9m0 2v8m0 9v2m1-33v4m0 18v1m0 60v7m1-95v2m0 1v1m0 14v3m0 1v2m1-3v2m0 7v5m0 1v1m0 2v2m1-41v8m0 7v10m1 6v8m1-39v8m0 4v1m0 1v6m0 1v1m0 4v6m0 1v2m0 1v3m1-22v4m0 4v3m0 1v3m0 1v1m0 3v2m0 32v6m1-59v3m0 3v3m0 8v4m1-18v7m0 4v2m0 1v4m0 37v1m1-71v15m0 4v9m1-32v4m0 1v1m0 1v1m0 7v1m0 12v9m0 59v1m1-99v3m0 4v2m0 12v2m0 5v2m1-30v8m0 1v1m0 1v10m0 1v1m0 39v6m1-47v2m0 5v16m0 16v3m1-27v3m0 132v1m1-165v3m0 14v5m0 105v1m1-135v2m0 1v1m0 1v1m0 1v5m0 8v1m0 2v6m0 42v1m0 32v1m1-80v4m0 16v2m0 106v8m0 7v8m0 48v1m1-209v9m0 7v4m0 107v3m0 32v3m0 9v3m1-177v2m0 11v5m0 5v15m0 9v2m0 28v11m0 29v4m0 34v3m1-160v10m0 92v1m0 11v2m0 33v2m1-165v5m0 16v3m0 101v2m0 31v1m1-159v5m0 2v1m0 1v7m0 1v3m0 12v3m0 87v2m0 32v2m1-136v2m0 1v7m0 87v2m0 29v2m1-149v2m0 15v3m0 26v1m0 66v1m0 28v2m0 101v1m1-243v7m0 11v4m0 5v6m0 3v4m0 17v4m0 34v3m0 6v2m0 4v2m0 22v2m1-135v8m0 13v10m0 50v6m0 7v4m0 3v1m0 4v1m0 24v2m1-139v4m0 17v2m0 5v3m0 6v1m0 95v3m1-113v2m0 12v1m0 31v8m0 14v7m0 9v1m0 17v3m0 75v1m1-200v17m0 15v1m0 3v6m0 11v1m0 29v1m0 11v1m0 13v1m0 1v1m0 4v4m1-125v2m0 1v2m0 1v8m0 25v6m0 9v2m0 14v5m0 12v1m0 13v1m0 14v2m0 32v9m1-152v2m0 11v8m0 10v10m0 11v28m0 14v1m0 5v1m0 30v7m0 13v1m1-153v10m0 1v2m0 2v2m0 1v11m0 1v3m0 3v2m0 14v4m0 11v6m0 3v3m0 17v2m0 48v4m1-153v11m0 2v5m0 12v4m0 46v1m0 19v1m0 42v3m0 48v1m1-187v4m0 4v9m0 26v29m0 20v1m0 26v11m0 1v1m1-119v15m0 3v1m0 9v2m0 7v5m0 63v1m0 74v1m1-189v1m0 1v2m0 9v10m0 2v4m0 26v3m1-73v2m0 17v1m0 19v7m0 24v10m1-71v2m0 15v5m0 49v1m1-54v2m0 14v7m0 1v7m0 5v2m0 14v2m1-48v5m0 2v1m0 1v1m0 160v1m1-205v3m0 1v5m0 6v4m0 10v10m0 12v15m0 38v1m1-105v14m0 25v10m0 15v2m0 41v1m0 6v1m1-80v12m0 60v1m0 6v1m0 54v1m0 11v1m0 1v7m1-186v5m0 1v6m0 1v2m0 1v3m0 13v3m0 42v1m0 22v1m1-105v2m0 23v3m0 17v2m0 34v1m1-77v5m0 7v4m0 19v1m0 1v4m0 10v5m0 20v1m0 26v1m0 4v1m1-114v5m0 20v19m0 8v3m0 26v1m0 26v1m1-93v4m0 17v8m0 3v13m0 5v1m0 15v1m0 26v1m0 2v1m1-106v5m0 1v1m0 2v3m0 6v3m0 11v11m0 9v6m0 14v3m0 22v1m0 7v1m1-88v4m0 5v5m0 1v12m0 6v3m0 14v3m0 4v1m0 27v2m1-102v3m0 15v3m0 8v3m0 5v5m0 17v7m0 6v1m0 21v1m0 5v2m1-108v2m0 1v1m0 8v10m0 1v1m0 10v1m0 18v2m0 11v6m1-62v3m0 67v1m0 18v1m0 6v2m1-107v12m0 28v4m0 27v10m0 25v1m1-111v10m0 48v13m0 11v3m0 24v2m1-95v3m0 1v1m0 1v10m0 19v7m0 5v21m0 17v2m0 8v5m1-117v5m0 34v2m0 9v3m0 13v4m0 2v3m0 3v7m0 1v1m0 23v2m0 92v1m1-194v9m0 7v14m0 20v2m0 1v2m0 12v11m0 11v1m0 9v2m0 75v1m1-162v3m0 7v3m0 1v12m0 35v3m0 9v1m0 4v1m0 5v2m0 84v10m1-189v6m0 10v6m0 11v11m0 16v5m0 3v10m0 2v3m0 34v1m0 48v1m1-173v7m0 1v2m0 4v1m0 18v21m0 45v2m0 4v1m0 59v1m1-146v8m0 51v6m0 18v1m0 57v1m1-163v4m0 38v9m0 6v3m0 1v1m0 17v4m0 17v2m1-100v12m0 2v5m0 8v6m0 17v3m0 18v7m0 8v3m0 10v1m1-109v1m0 1v1m0 11v22m0 15v2m0 7v4m0 10v3m0 7v3m0 17v4m1-107v7m0 1v1m0 22v11m0 11v5m0 2v14m0 2v2m0 1v1m0 1v5m0 4v2m0 3v6m0 2v3m1-110v3m0 1v4m0 9v4m0 8v10m0 17v5m0 28v4m0 2v4m0 3v2m0 3v3m0 124v1m1-214v7m0 5v18m0 15v5m0 17v5m0 2v4m0 8v2m0 45v1m1-146v3m0 9v2m0 26v4m0 4v4m0 25v10m0 1v5m0 5v3m1-100v3m0 9v10m0 31v4m0 23v9m0 8v2m0 40v1m1-140v5m0 18v6m0 6v2m0 4v3m0 10v14m0 21v5m1-104v3m0 34v1m0 1v5m0 1v1m0 4v11m0 8v7m0 16v2m0 2v8m0 3v2m1-99v4m0 7v6m0 12v4m0 20v1m0 2v2m0 2v8m0 24v2m0 3v4m0 93v1m1-179v6m0 15v4m0 5v4m0 1v1m0 19v20m0 7v4m1-111v10m0 23v11m0 5v6m0 21v2m0 3v5m0 7v3m0 13v2m1-90v4m0 1v12m0 46v5m0 6v2m0 6v1m0 5v1m0 1v1m0 23v1m1-133v4m0 4v19m0 2v2m0 3v1m0 15v1m0 10v2m0 22v2m0 8v5m0 10v1m0 19v1m1-109v5m0 1v1m0 60v5m0 16v1m1-99v6m0 11v2m0 1v2m0 18v4m0 6v1m0 1v3m0 22v3m0 19v1m0 11v1m0 120v1m1-241v7m0 35v2m0 2v1m0 6v12m0 15v4m0 2v3m0 13v2m0 11v1m1-98v5m0 55v7m0 1v4m0 6v1m0 6v1m0 8v1m1-121v3m0 84v4m0 4v3m0 12v1m1-105v10m0 5v7m0 1v1m0 15v5m0 38v2m0 5v3m0 85v1m1-171v2m0 23v1m0 35v11m0 1v8m0 1v9m1-95v4m0 4v1m0 3v3m0 1v1m0 1v1m0 2v9m0 6v7m0 8v3m0 25v4m0 4v5m0 313v1m0 50v14m0 10v6m1-495v13m0 17v9m0 29v22m0 4v10m0 329v1m0 23v1m0 16v10m1-483v1m0 1v5m0 13v1m0 9v6m0 2v1m0 50v4m0 230v1m0 141v4m0 2v1m0 1v17m0 1v3m0 1v2m1-498v1m0 16v2m0 1v1m0 6v3m0 61v13m0 177v1m0 13v2m0 12v2m0 19v3m0 9v4m0 90v1m1-408v8m0 53v1m0 238v2m0 25v4m0 98v5m0 2v5m0 5v3m0 6v3m1-451v5m0 9v3m0 35v7m0 200v1m0 36v3m0 30v3m0 122v6m1-485v4m0 2v1m0 3v6m0 1v1m0 2v7m0 34v1m0 9v2m0 4v1m0 1v6m0 2v6m0 233v3m0 34v2m1-376v5m0 13v2m0 63v10m0 248v2m0 34v3m0 40v1m0 35v1m1-448v6m0 1v1m0 12v5m0 1v4m0 2v4m0 34v1m0 1v1m0 4v7m0 211v7m0 6v4m0 26v2m0 33v2m0 74v14m0 1v25m1-461v4m0 312v4m0 26v2m0 27v1m0 16v1m1-417v1m0 1v3m0 12v8m0 24v5m0 293v3m0 21v2m0 28v1m0 11v1m0 62v9m1-498v8m0 8v1m0 1v6m0 7v4m0 39v2m0 4v3m0 5v6m0 154v1m0 116v3m0 17v2m0 104v3m1-467v9m0 52v3m0 144v1m0 115v1m0 14v3m0 16v2m0 76v2m0 6v9m0 2v1m0 1v14m1-420v4m0 298v1m1-381v7m0 10v1m0 1v5m0 6v5m0 261v6m0 46v1m0 75v1m0 33v2m1-459v10m0 25v2m0 48v2m0 2v2m0 250v1m0 91v1m0 29v1m0 23v6m1-490v4m0 10v3m0 16v2m0 22v4m0 4v5m0 214v1m0 42v1m0 140v7m1-478v7m0 6v1m0 3v5m0 1v1m0 1v2m0 56v5m0 236v1m0 71v1m0 26v1m0 16v1m0 16v5m1-428v3m0 24v3m0 39v1m0 108v1m1-214v17m0 19v1m0 1v1m0 47v5m0 233v5m0 129v8m1-463v5m0 28v2m0 24v3m0 11v11m0 2v3m0 261v1m0 47v1m0 29v1m0 26v2m0 15v6m1-459v6m0 16v8m0 31v2m0 5v3m0 257v1m1-351v5m0 10v2m0 10v2m0 450v5m1-432v6m0 23v4m0 3v2m0 158v1m1-240v6m0 1v23m0 45v4m0 246v8m0 11v2m0 66v1m1-391v5m0 49v13m0 190v1m0 2v1m0 190v1m1-477v2m0 67v13m0 297v1m0 42v1m0 15v1m0 25v4m1-435v4m0 42v3m0 228v1m0 106v1m0 11v1m0 31v5m1-466v4m0 2v21m0 1v1m0 1v1m0 1v1m0 31v1m0 13v4m0 377v1m0 1v4m0 5v20m0 1v1m1-498v3m0 1v2m0 6v5m0 15v4m0 49v2m0 117v1m0 205v1m0 50v4m1-450v1m0 1v12m0 7v3m0 254v1m0 73v6m0 62v1m1-434v2m0 1v2m0 14v3m0 10v5m0 36v8m0 5v6m0 334v1m1-413v2m0 9v6m0 33v1m0 1v3m0 12v2m0 292v1m1-378v7m0 46v2m0 18v8m0 6v2m0 204v1m0 127v1m0 28v1m0 1v1m1-372v4m0 246v21m0 2v22m0 42v1m0 15v1m0 3v1m0 50v7m1-485v3m0 7v16m0 57v2m0 108v1m0 43v1m0 29v1m0 15v11m0 78v2m0 77v10m0 20v6m1-464v5m0 12v4m0 4v3m0 247v6m0 120v1m0 22v6m0 17v8m1-485v5m0 5v6m0 299v4m0 2v3m0 36v19m0 75v8m0 21v2"/>
<path fill="none" stroke="#a0f000" d="M64.5 205v3m1-3v3m1-25v1m0 22v4m1-28v1m0 14v5m1 2v3m1-26v2m0 18v4m1-24v2m0 16v4m1-22v2m0 20v3m1-2v3m1-24v1m0 22v3m1-8v4m1-24v2m0 22v3m1-27v2m0 19v4m1-3v3m1-3v4m1-24v1m0 23v2m1-7v4m1-4v3m1-3v5m1 0v2m1-7v4m1-25v2m0 21v3m1-26v1m0 20v3m1-24v2m0 19v4m1-23v1m0 20v3m1-26v2m0 21v3m1-8v4m1-20v1m0 20v3m2-4v4m1-4v4m1-26v2m0 18v5m1-5v4m1-24v2m0 17v5m1 0v3m1-1v3m1-29v2m0 20v5m1-4v4m1-25v1m0 19v3m1-2v3m1-36v1m0 10v1m0 23v2m1-3v3m1-27v1m0 21v4m1-26v2m0 21v3m1-26v2m0 22v3m1-27v2m0 21v3m1-26v2m0 20v4m1-26v2m0 19v3m1-24v1m0 17v5m1-23v2m0 21v3m1-35v3m0 9v1m0 2v1m0 7v9m1-29v2m0 2v3m1 2v1m0 7v8m1-12v13m1-22v1m1-8v2m0 18v6m1-21v2m0 1v3m0 9v9m2-17v3m0 4v1m1-13v3m2-34v6m0 18v5m0 2v4m1-10v4m0 2v1m0 4v4m1-15v4m0 2v4m1-75v9m0 28v2m0 17v4m1-60v8m0 11v3m0 10v2m0 25v1m0 5v4m0 7v8m1-31v6m0 2v2m0 1v2m0 1v2m0 2v1m0 1v2m1-52v5m0 32v2m0 14v6m1-49v5m0 2v1m0 1v6m0 12v3m0 1v1m0 4v2m1-2v2m0 3v1m1-27v4m0 13v4m1 7v4m1-4v1m1-79v2m0 8v3m0 53v5m0 7v10m1-86v3m0 1v1m0 4v8m0 11v7m0 26v2m0 13v3m1-19v3m0 10v2m1-75v2m0 10v4m0 13v1m0 32v1m0 1v5m0 2v4m1-76v1m0 1v11m0 19v8m0 25v5m2 7v6m1-91v8m0 15v5m0 1v4m0 5v1m0 13v9m0 8v2m0 7v1m0 2v3m1-77v5m0 3v1m0 1v4m0 7v5m0 11v7m0 1v2m0 10v1m0 12v1m0 2v4m1-77v1m0 1v2m0 1v3m0 17v9m0 35v1m0 5v2m1-68v3m0 5v6m0 1v6m0 36v5m0 7v1m1-77v2m0 58v3m0 9v3m1-77v8m0 1v9m0 2v2m0 1v12m0 2v1m0 19v5m0 16v7m1-77v8m0 46v1m0 3v2m0 3v2m1-103v1m0 91v3m0 13v7m1-123v3m0 35v1m0 10v3m0 52v4m1-67v5m0 1v13m0 34v3m0 3v3m0 10v2m1-73v2m0 21v9m0 26v3m0 13v6m1-84v6m0 11v8m0 37v2m0 7v2m1-80v6m0 27v2m0 7v2m0 25v3m0 13v2m0 2v4m1-81v4m0 1v4m0 10v7m0 19v8m0 4v3m0 13v4m1-4v1m0 5v5m1-82v4m0 8v12m0 11v2m0 18v3m0 13v5m1-75v1m0 1v1m0 1v2m0 13v3m0 4v3m0 43v2m1-82v5m0 9v3m0 10v6m0 29v4m0 12v13m1-25v5m0 2v4m1-77v3m0 17v2m0 4v1m0 1v5m0 31v1m0 13v14m1-119v6m0 83v1m0 12v2m1-96v1m0 1v2m0 77v2m0 14v7m1-67v1m0 1v1m0 16v3m0 38v1m1-67v9m0 41v3m0 1v1m1-5v3m0 1v5m1-5v5m0 2v4m1-77v3m0 1v4m0 9v2m0 6v6m0 40v2m0 2v2m1-107v8m0 34v1m0 1v2m0 46v3m0 1v3m0 1v1m1-104v22m0 1v1m0 73v1m0 3v3m0 2v2m0 1v1m1-92v3m0 3v2m0 9v5m0 71v5m1-80v3m0 56v3m0 8v3m1-18v1m0 5v1m0 1v2m0 2v1m1-109v6m0 1v6m0 87v3m0 13v4m1-82v5m0 73v8m1-43v7m1-65v3m0 12v6m0 5v7m0 44v1m0 15v3m0 1v3m1-39v6m0 14v1m1-67v3m0 1v2m0 2v6m0 48v2m0 2v2m0 1v2m0 2v4m1-15v3m1-3v3m0 17v6m1-79v7m0 46v2m1-99v9m0 26v6m0 67v4m1-77v4m0 62v4m1-8v3m0 1v5m0 2v3m1-19v5m0 16v5m1-83v6m0 9v7m0 40v3m0 13v4m1-77v22m1 49v1m2-98v8m0 25v9m1 41v3m0 14v1m1-37v3m0 2v2m0 2v10m0 16v8m1-107v3m0 15v3m0 66v5m1-110v3m0 30v1m0 66v1m0 19v2m1-68v3m0 57v2m1-72v1m0 60v1m0 8v2m1-15v3m0 1v5m0 7v5m1-10v1m0 4v6m1-20v1m0 13v3m1-81v3m0 56v3m0 4v4m0 8v8m1-84v4m0 56v2m0 9v4m0 7v3m1-86v10m0 51v2m0 2v2m0 3v2m0 2v2m1-15v3m0 7v1m0 2v2m1-77v2m0 66v1m0 1v1m0 4v2m1-6v2m0 1v2m1-76v1m0 9v4m0 48v3m0 1v4m0 8v6m1-82v4m0 56v3m0 1v3m0 9v6m1-113v8m0 9v3m0 72v2m0 13v6m1-22v3m0 18v1m1-79v3m0 22v3m0 33v4m0 8v7m1-112v7m0 20v1m0 1v8m0 52v1m0 10v4m1-108v2m0 32v3m0 56v1m0 1v1m0 1v1m0 3v1m0 2v3m0 3v3m1-94v4m0 1v1m0 24v1m0 57v1m1-58v1m0 1v6m0 47v3m1-91v1m0 18v1m0 1v6m0 35v3m0 2v3m0 6v3m0 1v5m0 2v1m1-74v6m0 72v8m1-112v4m0 1v1m0 4v4m0 12v8m0 54v3m0 13v9m1-25v3m0 5v1m0 2v1m1-11v2m0 6v1m0 2v3m1-15v2m0 2v1m0 6v1m1-113v2m0 1v4m0 32v1m0 65v4m0 3v2m1-55v1m0 41v3m1-63v1m0 1v41m0 1v5m1 11v3m0 5v1m0 2v1m1-100v4m0 22v3m0 15v1m0 1v21m0 1v8m0 28v4m1-81v5m0 72v1m1-24v1m0 6v3m0 8v4m1-78v1m0 40v14m0 8v3m0 13v9m1-123v3m0 21v12m0 70v1m0 7v4m1-8v3m1-116v1m0 70v4m0 5v6m0 17v1m0 1v2m0 10v1m1-108v3m0 1v1m0 24v2m0 4v5m0 67v7m1-21v1m0 13v2m1-96v10m0 25v3m0 8v3m0 36v2m0 2v1m1-57v9m0 36v3m0 13v1m1-12v3m0 1v2m0 3v1m1-104v3m1-14v1m0 16v1m0 1v5m0 1v1m0 1v1m0 6v4m1-39v2m0 14v6m0 1v1m0 7v3m0 3v2m0 66v3m1-94v2m0 9v3m0 10v1m0 43v2m0 2v12m0 3v2m0 3v2m1-99v4m0 7v3m0 9v2m0 5v15m0 9v9m0 1v7m0 3v11m0 1v6m0 7v4m1-95v1m0 5v2m0 28v6m0 10v2m0 20v3m0 4v1m0 1v1m1-71v2m0 8v7m0 9v3m0 11v5m0 25v3m0 5v2m1-100v1m0 10v3m0 2v1m0 3v3m0 7v5m0 16v5m0 1v5m1-67v1m0 14v2m0 58v3m0 1v2m0 2v3m0 17v4m1-99v1m0 22v2m0 3v7m0 25v6m0 18v4m0 2v2m1-93v7m0 20v5m1-41v1m0 33v2m0 15v9m0 3v1m0 1v10m0 17v6m0 8v3m1-101v4m0 1v5m0 2v1m0 5v9m0 66v2m0 6v3m1-65v12m0 21v1m0 19v1m0 2v2m0 46v2m0 19v3m1-160v2m0 12v2m0 14v1m0 28v2m0 1v1m0 31v3m0 61v1m1-176v10m0 1v5m0 1v1m0 2v4m0 11v2m0 59v1m0 10v4m0 21v1m0 31v2m1-164v2m0 7v7m0 22v4m0 32v7m0 2v5m0 17v4m0 15v1m0 28v1m1-144v1m0 7v2m0 38v5m0 2v2m0 9v4m0 1v6m0 8v3m0 7v4m0 33v2m0 17v10m1-165v1m0 3v1m0 2v2m0 1v1m0 19v3m0 7v7m0 12v7m0 2v7m0 3v6m0 29v1m0 11v3m0 1v1m0 33v2m1-174v1m0 9v3m0 60v3m0 6v3m0 8v3m0 13v3m0 16v1m0 2v1m0 33v2m1-161v3m0 11v1m0 33v1m0 1v1m0 24v2m0 44v1m0 34v2m1-161v5m0 9v9m0 38v2m0 5v3m0 49v1m0 30v2m1-143v2m0 5v4m0 50v2m0 10v5m0 17v3m0 7v2m0 29v2m1-151v2m0 13v3m0 1v2m0 1v4m0 15v3m0 6v4m0 9v4m0 1v1m0 31v1m0 17v1m0 22v2m1-143v1m0 1v1m0 20v2m0 14v1m0 10v3m0 15v8m0 19v2m0 1v2m0 6v2m0 9v2m0 6v5m1-115v2m0 1v1m0 10v3m0 25v12m0 29v3m0 1v1m0 3v2m0 9v7m1-113v6m0 9v1m0 1v1m0 1v1m0 29v3m0 4v3m0 20v4m1-83v2m0 20v2m0 11v3m0 10v4m0 45v4m1-103v7m0 11v2m0 43v5m0 6v4m0 21v4m1-82v2m0 18v14m0 14v5m0 9v8m0 8v4m1-94v3m0 2v1m0 13v1m0 1v3m0 8v7m0 5v1m0 9v8m0 1v3m0 2v3m0 1v11m0 8v3m1-112v1m0 13v4m0 1v5m0 19v16m0 8v3m0 25v3m1-77v1m0 1v4m0 6v6m0 6v6m0 11v1m0 10v4m0 7v8m1-92v2m0 21v2m0 10v1m0 1v1m0 1v1m0 16v7m0 37v1m0 7v4m1-102v1m0 13v2m1 4v3m0 4v2m0 4v3m0 8v3m0 44v1m0 4v2m1-90v2m0 44v1m0 9v6m0 11v3m1-49v19m0 11v8m0 8v3m1-51v5m0 26v17m1-52v3m0 12v7m1-22v8m0 50v1m0 1v1m0 1v2m0 3v2m1-95v2m0 19v3m0 2v6m0 1v9m0 13v8m0 16v9m1-62v9m0 8v5m0 15v9m0 13v3m0 23v10m1-64v3m0 5v4m0 9v7m0 10v4m0 14v8m1-121v23m0 1v7m0 1v1m0 1v4m0 3v8m0 1v4m0 41v4m1-73v2m0 67v4m0 9v3m0 4v4m1-93v2m0 2v9m0 17v10m0 20v2m1-101v4m0 1v2m0 1v4m0 1v1m0 18v5m0 12v8m0 1v1m0 3v3m0 23v2m1-51v10m0 7v5m0 1v1m0 17v19m0 9v1m1-70v6m0 11v18m0 34v1m0 7v3m1-93v3m0 18v18m0 18v4m0 21v1m0 4v1m0 4v8m0 1v6m1-110v1m0 45v3m0 6v3m0 27v1m0 4v1m0 2v5m1-119v6m0 38v2m0 17v1m0 21v7m0 14v1m0 4v1m1-67v6m0 6v12m0 20v1m0 1v6m0 1v1m0 7v1m0 4v1m1-109v2m0 16v5m0 1v6m0 5v4m0 20v8m0 5v6m0 14v4m0 7v1m0 65v1m0 40v12m1-177v9m0 41v1m0 58v1m0 25v1m1-173v3m0 24v17m0 5v7m0 8v5m0 1v4m0 14v1m0 6v2m0 29v1m1-118v5m0 2v9m0 70v4m1-73v2m0 16v4m0 4v5m0 3v1m0 1v4m0 41v1m1-82v3m0 1v5m0 12v10m0 48v1m0 38v1m1-149v2m0 54v1m0 11v5m0 35v1m1-78v2m0 9v16m0 1v5m0 13v15m1-56v3m0 9v1m0 1v1m0 13v8m0 1v19m0 7v1m0 8v1m0 29v1m1-141v3m0 22v2m0 11v5m0 1v11m0 3v8m0 7v8m0 20v4m0 6v1m1-71v35m0 9v5m0 23v1m1-74v14m0 12v5m0 15v2m0 4v2m0 7v4m0 11v1m0 9v1m2-134v6m0 8v2m0 1v2m0 5v7m0 9v11m0 6v3m0 10v3m0 9v4m0 8v7m0 7v4m1-108v15m0 1v1m0 28v2m0 11v4m0 5v4m0 5v4m0 9v4m0 14v1m1-75v2m0 3v2m0 5v5m0 11v1m0 1v4m0 31v1m0 5v1m1-108v8m0 21v1m0 12v5m0 5v6m0 1v7m0 16v8m0 2v1m0 6v1m1-101v1m0 54v5m0 15v3m0 8v9m1-71v1m0 14v7m0 1v10m0 45v1m0 6v3m1-105v8m0 25v2m0 2v1m0 11v12m0 27v1m1-50v1m0 1v2m0 12v3m0 43v4m1-73v2m0 28v11m1-33v11m1-23v4m0 7v6m0 19v2m0 35v3m1-93v1m0 1v7m0 34v5m0 4v7m0 24v2m1-31v2m0 36v2m1-91v3m0 3v5m0 11v5m0 1v7m0 3v10m0 39v1m1-70v17m0 20v7m0 25v1m0 4v2m1-92v1m0 1v1m0 16v8m0 58v2m1-108v7m0 66v26m0 7v2m0 1v1m1-11v2m0 6v3m1-73v2m0 67v4m1-112v14m0 1v1m0 85v2m0 5v4m1-71v6m0 66v2m1-83v4m0 2v1m0 46v16m0 1v1m0 3v1m1-68v8m0 26v9m0 15v3m0 8v4m1-49v2m0 1v12m0 30v3m1-52v1m0 1v3m0 36v1m0 7v4m1-97v10m0 83v4m1-82v9m0 67v2m0 3v1m1-73v1m0 5v6m0 2v10m0 10v4m0 19v2m0 10v4m1-99v9m0 17v11m0 61v1m1-112v5m0 1v6m0 11v4m0 3v3m0 27v12m0 26v3m0 7v1m1-71v1m0 62v2m0 5v3m1-68v4m0 3v4m0 39v8m0 7v4m1-91v9m0 14v8m1-6v3m0 1v7m1-20v2m0 17v3m0 42v2m2 5v4m1-62v5m0 8v4m0 8v3m0 31v3m1-16v1m0 1v3m1-101v1m0 45v21m0 21v5m0 2v7m0 4v2m0 4v3m1-94v12m0 6v5m0 53v4m0 9v2m1-63v1m0 1v1m0 2v7m0 1v3m0 30v1m0 1v2m1-85v10m0 25v5m0 25v4m0 25v4m1-22v7m0 4v1m0 6v4m1-92v1m0 6v5m0 1v19m0 2v3m0 20v6m0 9v2m0 1v3m0 3v2m0 3v2m0 4v1m1-100v8m0 18v20m0 4v6m0 1v7m0 4v8m1-38v26m0 1v1m0 5v9m0 1v1m0 3v3m0 5v2m1-47v3m0 10v11m0 5v11m1-44v5m0 4v5m1-53v4m0 3v4m0 16v3m0 1v5m0 34v6m0 12v2m1-64v10m0 5v4m0 2v5m0 26v5m1-76v3m0 9v2m0 1v1m0 1v25m0 12v7m0 1v2m1-70v1m0 63v10m0 15v4m1-101v6m1 27v3m0 4v5m0 7v9m0 1v4m0 11v3m0 8v2m0 22v1m0 23v1m1-128v2m0 17v4m0 13v2m0 23v3m0 7v1m0 1v8m0 18v1m0 24v1m1-57v9m0 4v2m0 5v4m0 6v1m0 22v1m1-103v9m0 19v13m0 11v8m0 12v1m0 25v2m1-139v9m0 3v1m0 30v3m0 22v7m0 1v12m0 31v1m0 11v2m1-119v3m0 4v6m0 12v5m0 20v2m0 43v3m0 6v3m0 5v3m1-129v5m0 1v1m0 2v10m0 8v11m0 7v8m1-6v13m0 1v13m0 9v16m1-84v2m0 22v4m0 22v7m0 20v7m1-4v1m0 15v1m1-101v1m0 3v1m0 23v14m2-4v2m0 21v15m0 16v1m1-64v5m0 3v4m0 34v2m0 5v5m1-90v12m0 1v3m1-24v4m0 1v1m2 32v1m1 7v7m1-39v5m0 9v2m1-20v3m0 6v2m1-21v4m0 19v3m1-22v1m0 1v3m0 1v4m0 1v3m2-18v2m0 16v9m0 1v1m1-24v2m0 16v1m0 2v1m0 1v3m1-31v2m0 3v3m1 14v9m0 10v14m0 5v6m0 19v2m0 22v2m1-111v1m0 25v10m0 9v4m0 6v13m0 1v1m0 16v1m0 10v3m1-81v3m0 4v3m0 33v8m0 18v10m1-77v3m0 12v2m0 12v3m0 6v9m0 12v3m0 8v5m0 4v2m1-100v1m0 6v4m0 26v4m0 6v5m0 4v13m0 4v5m0 12v7m0 6v1m1-86v1m0 1v1m0 13v2m0 2v15m0 42v1m1-98v7m0 1v6m0 31v8m0 8v9m0 1v1m0 1v4m0 2v1m0 15v2m0 12v2m1-109v16m0 26v3m0 3v1m0 1v4m0 19v4m0 5v12m1-96v3m0 15v1m0 23v4m0 26v10m0 5v11m0 1v3m1-102v4m0 78v9m1-87v3m0 3v2m0 18v6m0 1v1m1-38v8m0 22v8m0 5v25m0 2v1m0 1v5m0 7v3m0 1v4m0 13v1m0 3v1m1-105v2m0 6v3m0 10v2m0 11v4m0 12v3m0 1v1m0 14v2m0 1v9m1-67v4m1-23v2m0 10v2m0 17v4m0 74v2m1-111v5m1-5v7m0 18v1m2-19v1m0 5v2m0 22v1m1-20v2m0 8v1m1-29v10m1-10v1m0 1v4m1-6v1m0 11v3m0 9v1m0 1v1m0 5v7m0 55v1m0 14v2m2-35v1m0 1v16m0 11v1m1-100v1m0 1v1m0 4v4m0 27v19m0 6v1m0 2v5m0 9v4m0 19v2m0 67v1m0 16v2m1-196v1m0 37v1m0 9v2m0 14v8m0 11v13m1-74v1m0 1v2m0 19v6m0 9v4m0 4v5m0 15v3m0 11v1m1-94v1m0 16v5m0 1v3m0 1v1m0 1v1m0 20v2m0 12v4m0 2v6m0 5v4m1-77v7m0 33v3m0 12v4m1-77v4m0 1v3m0 4v1m0 26v3m0 11v9m0 2v5m0 19v12m1-61v5m0 11v11m0 5v1m0 1v8m0 10v2m0 6v2m1-88v2m0 24v2m0 6v4m0 23v3m0 8v5m0 1v9m1-86v2m0 7v1m0 2v6m0 2v1m0 4v5m0 6v2m0 39v2m0 3v6m1-85v6m0 20v2m0 15v9m0 16v9m0 1v1m0 13v2m1-101v1m0 11v3m0 7v7m0 29v7m0 4v5m0 10v4m0 7v1m1-80v2m0 1v3m0 4v1m0 1v3m0 7v12m0 11v18m0 10v2m1-96v7m0 1v2m0 1v1m0 43v1m0 2v12m0 7v13m1-55v1m0 17v5m0 19v6m0 3v4m1-93v2m0 5v2m0 28v3m0 27v10m0 12v4m1-89v3m0 13v2m0 31v11m0 8v6m0 10v6m1-68v2m0 8v4m0 9v4m0 12v2m0 4v5m0 1v6m1-53v1m0 25v2m0 11v8m0 11v4m1-80v2m0 23v23m0 21v10m0 5v5m1-102v2m0 12v8m0 6v7m0 10v3m0 25v10m0 6v7m0 8v1m0 4v1m1-61v4m0 2v6m0 3v5m0 11v3m1-77v2m0 5v2m0 25v8m0 13v19m0 16v1m1-87v5m0 11v1m0 10v1m0 3v10m0 7v3m0 6v3m0 19v8m0 1v1m0 2v1m1-92v2m0 10v4m0 3v4m0 20v2m0 1v14m0 8v8m0 3v2m1-91v1m0 8v2m0 27v3m0 20v9m0 1v8m0 15v1m1-92v9m0 1v1m0 2v1m0 23v1m0 2v1m0 33v2m0 10v3m0 6v2m1-101v1m0 2v3m0 15v3m0 5v2m0 29v4m0 13v7m0 13v3m1-90v1m0 1v1m0 21v5m0 41v2m0 7v2m2 18v2m1-88v5m0 1v1m0 2v2m0 1v1m0 33v3m0 2v3m1-55v1m0 12v1m1-34v6m0 23v7m1-35v1m0 1v6m0 10v1m0 87v2m1-103v5m0 1v1m0 13v1m0 34v2m0 40v1m1-93v4m1-5v1m0 11v2m0 6v2m1-24v1m0 1v6m0 4v1m0 15v1m0 11v1m0 5v2m1-28v1m0 5v2m0 8v9m0 7v1m0 37v4m0 76v1m1-178v2m0 5v4m0 3v1m0 1v1m0 12v3m0 1v1m0 2v12m0 22v4m0 13v1m0 5v4m0 68v2m0 18v1m1-177v2m0 1v5m0 38v13m0 22v1m0 70v2m0 19v1m1-182v2m0 6v6m0 15v2m0 23v2m0 102v1m1-159v2m0 13v3m0 10v3m0 37v13m0 6v4m1-50v1m0 15v8m0 20v2m0 1v3m0 10v1m0 3v2m1-103v3m0 17v2m0 22v6m0 9v3m0 18v3m0 1v5m1-86v4m0 17v1m0 10v4m0 1v6m0 7v4m0 26v3m0 5v2m1-93v3m0 12v2m0 14v3m0 25v16m0 1v1m0 2v5m1-87v2m0 8v1m0 13v1m0 12v3m0 7v4m0 15v3m0 3v5m0 3v1m0 1v4m0 6v2m0 10v2m1-109v4m0 3v1m0 1v1m0 11v2m0 1v1m0 1v1m0 4v1m0 6v7m0 48v1m1-96v4m0 35v2m0 35v1m0 1v19m1-47v4m0 7v24m0 5v1m0 1v1m0 1v1m0 96v5m0 23v6m1-224v2m0 1v1m0 5v4m0 2v1m0 1v3m0 1v3m0 8v3m0 1v2m1-35v3m0 10v5m0 7v3m1-28v3m0 17v1m1-18v8m0 8v3m0 2v4m1-22v1m0 11v1m0 86v1m1-105v2m0 8v4m0 1v1m0 5v2m0 1v10m1-17v4m0 24v1m1 41v4m1-74v1m0 11v5m0 7v2m0 1v3m1-41v3m0 2v1m1 16v4m1-20v7m0 1v4m0 7v1m0 1v1m0 10v23m0 11v4m0 1v2m0 1v1m0 1v3m1-96v1m0 8v4m0 11v1m0 12v4m0 19v9m0 13v3m0 10v2m1-76v3m0 5v2m0 20v6m0 13v16m0 3v1m0 1v5m1-43v3m0 11v7m0 2v7m0 11v1m1-85v6m0 34v2m0 1v1m0 12v2m0 9v6m0 9v4m1-47v2m0 9v2m0 12v1m0 12v11m0 2v1m0 1v2m1-91v4m0 2v2m0 1v2m0 17v5m0 20v2m0 1v1m0 15v2m0 18v1m0 3v2m0 72v1m1-183v1m0 44v9m0 11v3m0 7v9m0 78v2m0 55v3m1-222v3m0 1v1m0 2v1m0 10v3m0 1v1m0 1v3m0 14v9m0 2v1m0 1v1m0 34v6m0 52v3m0 36v1m1-179v1m0 2v1m0 5v1m0 1v3m0 1v1m0 17v2m0 13v8m0 1v1m0 1v8m0 11v2m0 10v3m0 39v2m0 42v1m1-180v1m0 19v1m0 1v1m0 10v4m0 15v14m0 28v3m0 29v4m0 45v1m1-143v8m0 54v3m0 22v10m0 43v1m1-161v2m0 5v1m0 13v4m0 21v9m0 3v6m0 5v10m0 38v4m0 36v1m1-171v5m0 10v1m0 2v2m0 5v2m0 10v5m0 24v4m0 16v3m0 54v4m0 17v5m1-151v1m0 11v2m0 9v5m0 10v3m0 11v11m0 3v1m0 2v2m0 15v1m0 46v3m0 6v2m1-163v1m0 1v1m0 2v3m0 12v2m0 4v2m0 1v2m0 3v5m0 22v4m0 12v3m0 13v3m0 1v1m1-96v3m0 1v1m0 38v7m0 5v8m0 12v8m1-85v1m0 27v2m0 17v1m0 1v9m0 15v3m0 28v2m1-96v2m0 1v1m0 22v18m0 1v1m0 1v3m0 14v15m1-94v1m0 27v3m0 1v1m0 51v9m0 2v6m0 8v2m1-107v1m0 19v2m0 24v6m0 3v4m0 14v13m1-82v4m0 3v1m0 15v2m0 6v8m0 4v5m0 7v4m0 2v1m0 1v4m0 20v1m1-81v2m0 13v3m0 38v6m0 18v2m1-82v7m0 7v4m0 3v2m0 2v9m0 5v4m0 27v15m0 1v1m1-61v6m0 16v2m0 28v1m0 1v3m0 6v1m1-82v2m0 4v3m0 15v5m0 10v4m0 3v9m0 10v8m1-86v2m0 12v1m0 7v1m0 6v1m0 3v9m0 11v9m0 2v17m0 1v5m1-93v3m0 9v1m0 13v3m0 5v8m0 16v5m0 12v4m0 5v5m0 3v3m0 10v2m1-107v1m0 11v2m0 1v1m0 11v1m0 40v3m0 15v6m1-96v1m0 28v1m0 1v1m0 3v1m0 1v8m0 11v14m0 19v2m0 4v2m1-86v3m0 1v1m0 18v3m0 19v2m0 9v3m1-57v16m0 1v1m1 8v2m0 14v5m0 7v11m0 1v10m0 8v3m1-42v1m0 7v1m0 8v4m0 3v7m0 14v1m1-88v2m0 15v1m0 5v4m0 11v11m0 10v3m0 1v1m0 7v5m1-64v1m0 6v1m0 23v2m0 10v9m0 12v3m0 9v1m1-66v3m0 2v4m0 9v3m0 5v5m0 4v7m0 19v3m1-94v2m0 21v3m0 1v1m0 38v8m1-56v1m0 1v1m0 9v5m0 12v27m0 1v1m0 4v4m1-91v1m0 17v5m0 14v12m0 11v9m0 18v15m1-103v1m0 41v9m0 6v2m0 7v3m0 9v15m1-93v3m0 10v2m0 24v4m0 4v17m0 4v4m0 16v5m0 1v1m0 9v1m1-55v4m0 7v7m0 15v4m0 4v5m0 4v1m0 7v1m1-96v2m0 1v2m0 33v5m0 8v3m0 13v2m0 8v4m1-74v8m0 53v3m0 4v7m0 13v2m1-64v6m0 8v2m0 7v2m0 6v2m1-75v6m0 1v4m0 23v3m0 32v2m0 19v3m1-98v2m0 30v5m0 1v1m1-22v6m0 6v3m0 7v4m0 11v12m0 7v6m0 16v2m0 1v1m1-96v2m0 34v9m0 7v4m0 31v3m0 4v7m1-84v1m1 0v3m0 7v1m4-25v5m0 3v3m0 12v6m1-29v2m0 7v3m0 12v1m2-20v2m5-12v6m0 18v3m1-26v1m0 1v1m0 3v6m0 12v1m0 9v1m5-28v1m0 1v5m0 16v1m2 113v2m0 1v1m1-10v1m0 7v1m1-14v1m0 9v1m1-14v1m1-1v1m0 5v1m1-11v1m0 9v1m1-13v4m0 2v4m5-122v14m0 1v1m0 4v2m0 73v4m4-100v4m0 6v1m0 1v5m6-15v6m4-8v2m0 6v5m5-26v3m0 5v3m4 7v3m0 12v3m1-26v2m0 7v2m1-21v1m0 30v1m0 1v2m0 2v1m1-39v1m0 15v1m0 12v2m1-10v2m0 9v1m0 14v2m1-18v3m2-28v2m0 17v7m1-23v1m0 3v2m0 2v2m0 12v2m1-33v1m0 1v1m0 1v2m0 11v5m0 1v1m1 4v3m2-31v13m0 4v2m0 7v7m2-28v3m0 10v15m1-16v4m0 17v1m1-21v3m0 7v2m2-30v2m0 11v3m0 18v2m1-26v3m0 14v4m1-6v8m2-16v4m0 3v5m0 1v1m1-31v3m0 34v2m1-33v2m0 28v1m3-27v1m0 8v2m0 4v2m1-15v1m0 19v2m1-27v6m1 11v6m0 1v5m0 64v3m3-86v2m0 8v3m0 2v4m2-15v1m0 2v5m0 1v2m0 5v2m1-16v7m3-22v4m0 1v1m0 18v1m0 2v1m1-15v4m0 3v1m0 3v1m0 1v3m1-16v3m1 4v4m0 2v1m1-14v4m0 9v5m1-39v2m0 97v5m1-101v4m0 16v5m1-20v1m0 1v1m0 10v1m0 1v4m3-17v2m0 11v1m0 5v3m1-20v8m0 1v2m0 6v6m1-6v3m0 2v2m0 2v4m0 1v2m0 116v7m1-132v3m0 107v2m0 28v2m0 3v9m1-172v3m0 1v2m0 1v4m0 5v5m0 15v3m0 3v3m0 74v4m0 29v1m1-158v1m0 10v3m0 103v1m0 31v1m1-139v3m0 100v1m0 29v1m1-153v2m0 1v1m0 11v1m0 9v2m0 92v1m0 30v1m1-124v3m0 75v2m0 9v1m0 27v1m1-148v1m0 20v2m0 7v7m0 78v2m0 25v1m1-132v4m0 2v5m0 114v2m1-46v7m0 8v1m0 2v1m0 23v2m1-133v1m0 14v2m0 10v6m0 70v1m0 4v1m0 18v2m1-108v1m0 10v1m0 71v1m0 3v1m0 2v1m0 7v2m1-104v1m0 11v3m0 1v1m0 50v1m0 9v1m0 17v4m1-119v1m0 2v1m0 8v1m0 14v1m0 26v1m0 9v4m0 18v2m0 10v1m0 6v1m0 6v1m1-67v11m0 28v2m0 25v1m0 30v4m0 7v2m1-123v1m0 8v1m0 11v2m0 21v3m0 3v1m0 15v1m0 5v1m0 6v1m0 14v7m0 14v2m1-131v2m0 3v1m0 3v3m0 51v1m0 17v1m0 41v2m1-131v4m0 64v1m0 45v1m1-90v2m0 12v2m0 2v3m0 5v2m0 13v3m0 19v1m0 3v1m1-108v2m0 1v3m0 1v1m0 7v1m0 1v1m0 21v2m0 33v10m0 19v1m1-83v2m0 58v3m1-72v3m0 9v3m0 5v2m0 48v1m0 24v1m0 6v1m1-85v1m0 8v5m0 7v1m0 14v2m0 9v3m0 2v2m0 19v1m0 3v1m0 6v1m1-76v2m0 1v1m0 1v4m0 1v6m0 52v1m0 6v1m1-96v2m0 2v6m0 10v4m0 4v4m0 15v2m0 8v5m0 26v1m1-59v2m0 8v5m0 2v10m1 5v1m1-73v1m0 72v1m0 25v1m0 4v1m1-112v3m0 8v12m0 19v1m0 63v1m0 4v1m1-114v5m0 16v11m0 6v1m0 7v4m0 2v4m0 53v1m1-105v4m0 14v2m0 19v8m0 57v1m0 2v1m1-93v6m0 8v3m0 73v2m1-107v2m0 12v2m0 1v3m0 57v1m0 27v2m1-83v5m0 27v5m0 1v8m0 8v1m0 19v1m1-91v4m0 3v1m0 2v1m0 1v3m0 48v6m0 1v1m0 19v1m1-78v1m0 1v1m0 1v1m0 4v3m0 21v2m0 7v2m0 13v1m0 19v1m0 6v2m1-95v11m0 1v3m0 1v6m0 46v1m1-86v1m0 1v3m0 12v4m0 18v2m0 1v3m0 41v2m1-2v1m0 15v2m1-19v1m1-45v3m0 3v3m0 20v2m0 13v1m0 1v1m1-80v3m0 9v1m0 1v1m0 1v3m0 36v1m0 2v5m0 3v4m0 11v1m0 9v1m0 88v1m1-166v3m0 64v9m0 94v3m1-157v1m0 3v7m0 32v3m0 10v2m0 85v1m1-174v2m0 7v1m0 2v4m0 1v13m0 2v3m0 21v7m0 1v4m0 20v3m0 1v1m1 13v1m1-116v10m0 51v6m0 3v1m0 1v17m0 4v11m0 8v1m1-82v1m0 33v5m0 1v1m0 1v1m0 1v1m0 1v6m0 7v8m0 14v1m1-46v10m0 13v3m0 5v6m0 7v1m1-101v1m0 1v4m0 16v2m0 27v2m0 14v2m0 2v1m0 1v1m0 5v4m0 2v3m0 11v2m1-109v1m0 17v8m0 64v2m0 15v2m0 44v1m1-129v5m0 60v2m0 14v1m1-107v6m0 14v3m0 27v4m0 39v1m0 5v2m0 6v2m1-99v2m0 5v2m0 10v2m0 1v4m0 70v2m1-96v2m0 15v1m0 6v1m0 2v3m0 9v1m0 8v1m0 14v3m0 16v2m0 5v1m0 2v2m1-65v1m0 1v4m0 11v2m0 1v5m0 7v4m0 10v2m0 2v2m0 13v2m1-102v1m0 17v2m0 9v1m0 39v3m0 5v7m0 7v2m0 9v1m1-61v5m0 45v4m0 7v1m1-113v1m0 10v6m0 1v4m0 1v1m0 8v2m0 45v3m0 30v1m0 25v1m1-113v1m0 63v6m0 17v1m1-106v4m0 19v2m0 2v3m0 17v1m0 7v2m0 26v2m0 3v3m0 16v1m1-85v1m0 1v6m0 76v1m0 14v1m1-71v6m0 1v1m0 48v1m1-25v2m0 23v1m0 4v1m1-123v9m0 15v2m0 5v2m0 60v1m0 25v1m1-29v4m1-67v1m0 1v3m0 57v2m0 1v2m1-80v2m0 20v1m1-32v3m0 43v8m0 32v4m0 383v5m0 1v4m1-476v4m0 9v4m0 60v4m0 379v1m0 10v2m0 7v5m1-498v1m0 1v1m0 19v2m0 4v3m0 6v2m0 452v1m0 3v1m1-477v1m0 2v5m0 261v1m0 8v2m0 8v2m0 24v5m0 1v3m1-54v1m0 42v2m0 21v2m0 107v2m0 13v6m0 3v11m1-457v9m0 285v2m0 26v2m0 123v2m0 6v2m1-489v2m0 16v1m0 1v2m0 42v2m0 5v2m0 258v2m0 30v2m0 116v4m1-474v1m0 322v2m0 30v2m1-362v1m0 1v1m0 9v2m0 10v2m0 270v6m0 32v1m0 31v1m1-94v1m0 68v1m0 24v1m1-365v3m0 6v3m0 8v1m0 324v1m0 19v1m0 75v7m0 15v8m1-481v2m0 3v3m0 1v1m0 17v3m0 38v4m0 208v1m0 79v4m0 11v2m0 103v3m0 3v4m1-129v4m0 9v2m0 81v6m2-436v4m1-39v1m0 37v1m0 49v2m1-90v4m0 30v3m0 28v4m1-61v6m0 1v3m0 445v3m0 6v7m1-441v1m1-22v4m0 14v1m0 1v1m1 0v1m0 48v2m0 199v1m1-261v2m0 55v2m0 1v2m1-73v2m0 6v2m0 451v1m0 5v1m0 12v1m1-479v2m0 1v1m0 10v6m0 46v3m0 370v7m0 6v1m1-184v1m0 66v2m0 5v1m0 110v4m1-4v9m0 1v5m1-480v3m0 5v2m0 1v2m0 448v1m0 4v3m1-19v3m0 1v5m0 5v3m1-465v2m0 21v1m0 1v1m0 1v1m0 250v1m0 182v5m0 20v1m1-480v3m0 10v2m0 427v2m0 4v2m2-443v2m0 5v3m0 49v2m0 1v2m0 200v1m1-271v9m0 261v1m1-282v2m0 23v7m0 42v3m0 1v2m1 201v1m0 63v2m0 117v4m0 13v1m0 7v1m1-497v2m0 7v2m0 26v2m0 249v1m0 16v8m0 68v2m0 77v2m0 10v2m0 15v3m1-437v4m0 256v3m0 70v2m1-389v3m0 16v10m0 1v5m0 1v1m0 250v1m0 34v2m0 3v10m0 1v25m0 102v3m0 17v1"/>
<path fill="none" stroke="#f0f000" d="M64.5 181v2m0 15v7m1-24v2m0 15v7m1-7v8m1-25v1m0 7v8m1-16v2m0 17v4m1-11v8m1-7v5m1-15v1m0 1v1m0 4v3m0 4v5m1-22v2m0 8v13m1-6v8m1-11v6m1-2v6m1-9v6m1-21v2m0 11v9m1-22v2m0 11v9m1 1v3m1-26v2m0 12v7m1-21v2m0 14v5m1-21v2m0 11v8m1-21v2m0 13v11m1-26v2m0 11v1m0 1v6m1-2v4m1-22v1m0 15v4m1-12v12m1-5v7m1-19v7m0 6v6m1-23v2m0 11v5m1-18v2m0 16v5m2-23v2m0 7v13m1-22v2m0 16v4m1-18v16m1-20v2m0 11v7m1-16v6m0 1v8m1-19v2m0 7v15m1-24v2m0 21v3m1-8v4m1-22v2m0 14v7m1-6v5m1-22v2m0 5v16m1-23v1m0 19v5m1-25v2m0 10v12m1-23v1m0 10v10m1-3v4m1-3v4m1-21v5m0 2v1m0 6v6m1-6v5m1-5v4m1-20v1m0 10v6m1-9v14m1-29v2m1-17v6m0 11v2m0 3v1m1-11v5m0 2v1m1-66v8m0 50v5m0 2v4m1-10v6m1-12v4m0 3v3m0 2v1m0 2v1m2-46v1m0 28v5m0 1v5m0 2v4m1-57v12m0 30v3m0 1v5m1-43v4m0 37v2m0 1v1m0 3v1m2-51v16m0 6v5m0 18v2m1-73v3m0 63v1m0 4v1m0 2v3m1-11v1m0 4v2m1-106v8m0 36v5m0 3v1m0 3v1m0 2v2m0 4v7m0 2v17m0 8v5m0 2v4m1-87v12m0 22v4m0 1v5m0 32v1m0 4v1m0 1v4m1-77v7m0 43v5m0 6v1m0 6v1m0 5v1m1-59v9m0 5v3m0 31v1m0 2v1m1-65v11m0 1v1m0 2v1m0 2v1m0 3v10m0 15v4m1-45v10m0 21v7m0 10v5m1-29v2m0 1v1m0 10v3m0 4v2m0 6v3m0 8v4m1-77v4m0 22v2m0 1v1m0 2v1m0 1v8m0 15v5m1-65v3m0 29v9m0 22v2m0 4v1m1-85v1m0 30v1m0 40v8m0 11v2m1-75v2m0 3v1m0 1v4m0 26v9m0 8v8m0 11v2m1-103v11m0 38v6m0 10v4m0 12v8m0 12v2m1-75v2m0 16v2m0 7v4m0 1v6m0 10v14m0 9v2m1-84v7m0 18v3m0 11v5m0 8v13m0 3v5m0 9v1m0 1v4m1-77v4m0 36v8m0 1v1m0 12v3m0 4v2m0 1v1m2-94v1m0 1v12m0 8v15m0 10v5m0 1v13m0 9v5m0 5v1m0 7v1m1-59v7m0 23v1m0 2v10m0 1v4m0 4v4m0 1v2m1-77v4m0 1v1m0 2v1m0 3v6m0 8v3m0 9v2m0 22v4m0 9v2m1-112v1m0 11v1m0 2v2m0 1v1m0 20v9m0 3v5m0 13v4m0 27v1m0 11v2m0 1v1m1-101v9m0 19v1m0 8v1m0 15v8m0 29v5m0 2v1m1-85v3m0 16v1m0 26v2m0 1v5m0 8v6m0 12v2m1-71v8m0 8v5m0 29v4m1-89v5m0 1v10m0 9v6m0 1v3m0 53v9m0 3v1m1-105v1m0 3v5m0 31v10m0 3v2m0 14v1m0 2v11m0 15v3m0 8v1m0 5v1m1-88v7m0 4v3m0 5v1m0 13v3m0 6v5m0 13v7m0 3v3m0 4v5m0 2v2m1-75v4m0 2v21m0 9v5m0 25v5m1-93v7m0 21v11m0 8v6m1-70v4m0 25v3m0 6v12m0 13v2m0 11v4m0 6v1m0 3v11m0 8v1m0 2v1m0 1v2m1-77v5m0 9v2m0 4v4m0 7v5m0 12v2m0 8v3m0 6v1m0 2v1m1-85v7m0 1v1m0 11v6m1-15v2m0 12v8m0 12v11m0 2v8m0 2v7m0 5v1m1-67v8m0 1v1m0 1v1m0 2v13m0 10v2m0 5v10m0 1v1m0 2v4m0 4v5m0 2v4m1-116v5m0 18v8m0 1v1m0 23v5m0 1v4m0 6v2m0 11v9m1-55v14m0 50v1m0 6v1m1-69v17m0 2v4m0 1v1m0 5v4m0 23v2m1-92v3m0 6v4m0 18v1m0 3v1m0 1v7m0 49v2m0 5v1m0 2v2m1-98v4m0 1v1m0 2v2m0 13v17m0 1v2m0 1v2m0 8v16m1-7v6m0 14v2m1-62v6m0 5v1m0 9v2m0 44v4m0 2v4m1-77v4m0 30v4m0 9v15m0 11v4m1-41v10m0 16v3m0 6v2m1-112v3m0 1v1m0 42v3m0 3v3m0 14v9m0 9v4m0 1v8m1-95v3m0 8v7m0 15v12m0 1v1m0 2v5m0 48v1m0 3v4m1-116v6m0 22v1m0 1v15m0 20v16m0 15v5m0 4v2m0 3v2m1-111v5m0 16v2m0 8v2m0 5v2m0 5v45m0 9v1m0 7v2m0 2v1m0 1v1m1-70v2m0 15v6m0 22v6m0 12v2m0 1v1m1-101v4m0 25v5m0 46v6m0 1v3m0 6v2m0 3v4m1-116v1m0 13v4m0 18v34m0 19v12m1-57v3m0 10v20m0 24v3m0 1v2m1-68v6m0 15v22m0 7v3m0 20v4m1-98v6m0 3v4m0 14v5m0 7v16m0 26v2m0 4v1m1-80v4m0 26v8m0 8v13m0 6v4m0 11v3m0 6v1m1-83v2m0 7v1m0 2v2m0 6v30m0 27v2m1-73v8m0 1v1m0 23v1m0 24v4m1-55v17m0 31v5m0 14v3m1-100v6m0 17v9m0 7v3m0 18v2m0 8v1m0 1v2m0 15v5m0 2v4m1-116v4m0 9v2m0 30v3m0 8v1m0 2v13m0 10v5m0 10v4m0 4v5m0 1v1m1-69v3m0 1v1m0 4v12m0 18v1m0 14v4m0 9v2m1-65v11m0 22v21m0 9v2m0 3v1m1-77v1m0 10v14m0 18v14m1-72v10m0 11v9m0 7v6m0 11v23m1-62v5m0 22v4m0 17v14m1-62v6m0 57v2m0 1v5m0 2v3m1-81v5m0 5v1m0 56v3m0 8v4m1-100v2m0 8v13m0 9v3m0 9v3m0 9v8m0 20v1m0 4v5m0 2v4m1-116v15m1 13v5m0 29v7m0 9v4m0 3v2m0 2v2m0 16v3m0 2v4m1-102v4m0 82v1m0 11v4m1-113v9m0 15v6m0 1v2m0 3v1m0 13v9m0 36v2m0 12v4m1-77v6m0 5v4m0 3v3m0 41v3m0 1v2m0 1v2m0 2v2m1-75v5m0 1v10m0 38v8m0 5v4m0 2v2m1-84v2m0 1v1m0 1v26m0 51v1m1-80v1m0 1v1m0 1v6m0 58v3m0 6v2m0 1v3m1-77v1m0 11v4m0 46v2m1-61v2m0 49v5m0 11v1m0 2v2m1-69v2m0 59v4m1-106v1m0 1v21m0 1v4m0 7v1m0 10v13m0 1v1m0 22v6m1-92v1m0 37v3m0 2v1m0 3v10m1-17v4m0 47v1m0 8v3m0 1v2m0 1v1m0 3v2m1-75v6m0 1v4m0 51v3m0 11v1m1-76v5m0 1v3m0 4v3m0 38v7m0 8v1m1-71v2m0 4v2m0 61v2m0 2v3m1-115v10m0 20v1m0 8v10m0 5v10m0 27v10m1-57v1m0 2v6m0 52v5m0 5v1m1-69v4m0 12v6m0 3v7m0 18v4m0 8v1m1-101v3m0 7v6m0 1v1m0 22v7m0 50v4m0 1v1m1-112v8m0 2v5m0 21v3m0 6v1m0 56v1m0 7v2m0 3v1m1-95v6m0 4v1m0 1v4m0 7v1m0 1v11m0 1v5m0 35v3m0 4v1m0 1v3m0 2v3m1-106v2m0 1v1m0 35v10m0 1v1m0 6v5m0 24v6m0 4v5m0 2v1m1-95v7m0 1v6m0 9v3m0 1v1m0 6v3m0 7v2m0 1v2m0 18v2m0 8v4m0 11v1m0 2v3m1-71v4m0 37v8m0 8v2m0 1v1m1-98v5m0 14v3m0 17v3m0 25v1m0 2v3m0 1v3m0 1v1m0 5v2m0 1v1m0 2v3m1-46v1m0 1v1m0 30v7m0 10v4m0 1v2m1-93v6m0 76v1m0 9v1m1-59v2m0 55v2m0 1v3m1-109v3m0 23v6m0 1v3m0 45v6m0 7v1m0 8v2m0 2v2m1-77v6m0 12v2m0 1v6m0 14v14m1-94v4m0 86v11m0 4v5m0 2v4m1-78v4m0 29v2m0 32v4m0 4v3m1-111v8m0 4v3m0 22v3m0 10v2m0 1v1m0 30v3m0 7v2m1-62v1m0 5v16m0 41v2m0 1v3m1-48v6m0 22v6m0 1v6m0 4v5m1-100v7m0 18v3m0 20v1m0 1v10m0 1v8m0 14v3m1-90v6m0 11v4m0 35v1m0 11v5m0 22v3m0 6v4m1-88v9m0 5v1m0 58v2m0 4v5m0 2v1m1-112v3m0 32v6m0 23v6m0 15v6m0 9v2m0 4v3m1-104v4m0 3v1m0 1v3m0 32v3m0 24v1m0 1v1m0 20v1m0 11v2m1-113v8m0 1v1m0 28v6m0 3v10m0 23v7m0 13v2m1-84v4m0 10v5m0 1v4m0 12v3m0 14v3m0 9v17m0 4v3m0 3v1m0 1v3m1-76v2m0 1v2m0 4v7m0 9v3m0 5v6m0 26v5m0 2v1m1-74v6m0 23v2m0 21v10m0 4v1m1-91v4m0 3v2m0 91v1m1-116v1m0 104v5m0 2v4m1-102v2m0 6v1m0 1v7m0 77v2m0 2v1m1-85v5m0 1v4m0 70v4m1-105v2m0 14v4m0 1v4m0 40v1m0 21v1m1-77v5m0 16v1m0 8v5m0 18v3m0 15v2m1-59v2m0 5v1m0 7v9m1-32v2m0 1v3m0 36v1m1-61v2m0 9v3m1-10v3m0 1v4m0 5v1m0 1v5m0 4v2m0 69v1m0 6v3m2-37v2m0 10v5m1-80v1m0 22v1m0 64v1m0 2v2m1 0v4m0 44v2m0 15v2m1-155v3m0 8v1m0 76v4m0 28v1m0 33v2m1-151v3m0 6v2m0 98v1m0 29v1m1-160v7m0 7v2m0 18v2m0 43v2m0 68v2m1-145v2m0 10v2m0 12v2m0 27v2m0 2v9m0 11v2m0 1v5m0 26v1m0 18v2m1-140v4m0 1v3m0 1v2m0 2v1m0 1v9m0 1v1m0 1v1m0 23v12m0 16v3m0 45v2m0 5v3m0 28v2m1-159v2m0 61v6m0 14v3m0 26v3m0 4v1m0 31v1m1-165v6m0 15v2m0 60v18m0 27v1m0 31v2m1-162v3m0 63v5m0 53v1m0 28v1m1-143v2m0 11v11m0 76v1m0 8v1m0 26v2m1-147v6m0 1v2m0 1v3m0 11v1m0 17v6m0 69v1m0 12v9m1-116v13m0 2v4m0 3v3m0 58v4m0 7v6m1-93v3m0 12v1m0 4v5m0 12v5m0 1v23m0 10v4m1-112v2m0 7v2m0 28v1m0 17v3m0 10v6m0 10v4m0 4v7m1-88v3m0 16v1m0 30v6m0 1v2m0 1v28m1-101v5m0 1v3m0 20v1m0 57v7m1-62v2m0 3v1m0 26v14m1-36v8m0 7v5m0 1v9m0 8v1m0 3v2m0 3v1m1-89v1m0 8v4m0 10v4m0 3v1m0 1v1m0 3v6m0 27v2m0 14v9m1-95v1m0 15v5m0 1v1m0 28v11m0 1v10m0 4v7m0 8v9m1-76v5m0 1v4m0 28v1m0 26v10m1-89v2m0 9v2m0 23v2m0 25v3m0 9v12m1-71v3m0 10v3m0 14v6m0 45v4m1-99v5m0 2v2m0 58v11m1-52v6m0 19v11m0 8v8m1-43v15m0 6v5m0 17v4m0 13v4m1-70v4m0 3v5m0 7v2m1-16v13m0 9v10m0 10v8m0 1v1m0 1v1m0 7v1m0 2v1m1-112v13m0 24v2m0 6v1m0 9v5m0 2v1m0 1v4m0 8v4m0 8v4m1-31v2m0 9v4m0 9v5m0 4v4m1-25v5m1-71v6m0 23v1m0 7v1m0 1v1m0 20v4m0 8v1m0 6v15m1-60v5m0 5v11m0 7v14m0 8v6m0 27v4m1-113v5m0 32v17m0 10v5m0 12v3m1-95v1m0 2v1m0 29v2m0 26v4m0 7v5m0 3v4m0 22v2m1-112v1m0 48v7m0 7v3m0 11v3m0 29v1m0 2v1m1-104v2m0 63v5m0 15v7m1-72v1m0 8v9m0 18v5m0 11v2m0 4v4m0 5v5m0 15v2m1-111v16m0 1v6m0 4v1m0 2v19m0 9v4m0 12v4m0 13v3m1-101v2m0 6v3m0 28v7m0 2v6m0 6v5m0 1v9m0 6v6m0 7v7m1-48v6m0 12v8m0 7v5m0 1v1m1-86v4m0 9v3m0 12v4m0 5v12m0 5v3m0 8v5m0 6v14m1-80v17m0 2v1m0 1v1m0 3v2m0 1v5m0 9v8m0 12v3m0 14v4m0 9v1m0 2v1m0 70v2m1-169v5m0 18v1m0 17v5m0 7v8m0 10v2m0 11v1m0 9v2m0 58v1m1-157v1m0 1v6m0 16v2m0 3v15m0 16v7m0 4v6m0 34v1m0 38v1m1-161v10m0 27v3m0 8v5m0 13v3m0 1v1m0 4v5m1-78v1m0 41v12m0 10v15m0 10v6m1-96v4m0 2v6m0 1v12m0 10v13m0 1v2m0 2v2m0 1v4m0 1v11m0 5v3m1-80v7m0 27v1m0 33v5m0 4v4m0 31v1m1-98v19m0 9v9m0 1v1m0 1v13m0 36v3m0 6v1m1-109v6m0 1v5m0 1v2m0 1v1m0 1v4m0 7v6m0 5v1m0 11v3m0 8v7m0 8v12m0 19v1m1-89v3m0 3v11m0 49v4m0 7v4m0 9v2m0 16v1m1-107v6m0 1v7m0 14v12m0 5v4m0 9v2m0 31v2m1-93v3m0 15v1m0 7v1m0 17v7m1-78v8m0 2v1m0 2v5m0 7v8m0 12v6m0 16v9m1-82v4m0 15v1m0 1v6m0 12v3m0 3v4m0 17v5m0 13v9m0 4v4m0 7v3m1-111v8m0 14v1m0 1v4m0 7v2m0 2v3m0 12v11m0 1v1m0 4v3m0 12v4m0 8v4m1-102v1m0 8v2m0 14v5m0 1v5m0 3v4m0 16v1m0 7v6m0 6v4m0 25v4m1-111v5m0 20v13m0 9v7m0 23v8m0 9v6m1-95v18m0 1v5m0 27v4m0 11v29m0 7v1m1-105v3m0 8v12m0 41v3m0 7v17m0 1v5m1-62v7m0 1v1m0 2v12m0 3v17m0 7v1m0 1v1m0 7v2m1-96v4m0 32v8m0 1v19m0 11v4m0 3v14m1-62v8m0 11v5m0 5v12m0 19v2m1-101v2m0 31v2m0 7v4m0 6v4m0 1v1m0 7v6m0 2v4m0 34v1m1-99v5m0 1v1m0 7v16m0 8v1m0 1v8m0 16v3m0 10v11m0 7v4m1-80v9m0 2v29m0 2v10m1-66v3m0 11v3m0 13v1m0 20v32m0 8v3m1-56v5m0 1v1m0 8v5m0 7v4m0 22v3m1-94v1m0 1v3m0 1v1m0 1v7m0 6v3m0 8v3m0 17v16m0 9v3m0 1v1m1-99v1m0 7v1m0 29v6m0 2v1m0 1v12m0 7v7m1-71v2m0 1v1m0 19v12m0 2v32m0 9v3m0 11v5m0 7v1m1-109v8m0 1v1m0 7v1m0 1v1m0 21v6m0 8v7m0 13v18m1-79v1m0 1v4m0 19v2m0 21v15m0 14v1m1-53v2m0 6v8m0 16v6m0 13v7m0 15v1m1-113v3m0 6v9m0 9v5m0 7v6m0 5v8m0 24v3m0 23v4m1-65v10m0 12v4m0 9v3m0 8v4m1-58v5m0 2v1m0 3v1m0 6v6m0 2v1m0 12v5m0 7v9m0 12v1m1-73v12m0 1v7m0 1v1m0 3v4m0 15v5m0 8v4m1-88v3m0 10v15m0 4v8m0 6v7m0 12v21m0 1v2m1-101v1m0 11v3m0 12v3m0 21v5m0 52v3m1-98v7m0 1v1m0 5v6m0 18v2m0 10v10m0 4v4m0 10v5m1-93v10m0 9v9m0 1v1m0 17v8m0 2v9m1-64v1m0 6v5m0 2v4m0 10v2m0 4v6m0 3v12m0 12v5m0 12v9m1-98v6m0 26v6m0 1v3m0 16v1m0 31v11m1-61v3m0 11v3m0 8v10m0 12v6m1-76v4m0 9v2m0 8v4m0 8v3m0 35v11m1-100v4m0 52v5m0 13v6m0 3v17m1-101v12m0 1v1m0 1v1m0 2v11m0 3v1m0 1v3m0 2v5m0 7v5m0 3v6m1-26v1m0 9v11m0 11v1m0 21v8m1-94v9m0 23v7m1-7v11m0 28v4m1-43v15m0 10v14m0 8v10m0 1v1m1-97v4m0 38v3m0 47v2m0 7v1m0 5v1m1-91v3m0 12v3m0 8v4m0 6v3m0 16v5m0 10v1m0 1v7m0 11v2m1-92v1m0 1v4m0 18v7m0 1v1m0 1v2m0 7v1m0 3v12m0 2v1m0 3v12m0 1v1m0 2v2m1-90v3m0 10v5m0 17v3m0 5v3m0 6v16m0 4v11m0 2v5m1-48v1m0 1v10m0 19v6m0 7v4m1-95v1m0 1v12m0 1v6m0 30v2m0 9v9m0 6v9m0 2v1m0 3v3m0 10v1m1-101v2m0 8v3m0 35v4m0 14v4m0 8v9m1-59v4m0 2v1m0 1v4m0 26v1m0 1v5m0 24v4m1-112v3m0 2v1m0 1v3m0 54v10m0 11v5m1-80v1m0 28v18m0 14v11m0 9v10m1-101v8m0 5v1m0 1v3m0 11v6m0 3v7m0 9v4m0 8v22m0 6v7m0 7v4m1-112v6m0 1v7m0 11v7m0 7v5m0 10v5m0 11v12m0 1v13m1-96v2m0 20v3m0 14v1m0 1v1m0 66v4m1-98v5m0 1v10m0 13v13m0 10v17m0 10v8m1-94v4m0 6v6m0 17v12m0 24v19m0 1v5m1-101v12m0 2v7m0 1v6m0 1v1m0 2v2m0 4v6m0 3v4m0 26v4m0 4v3m0 36v2m0 20v1m1-130v3m0 2v4m0 8v5m0 19v3m0 18v2m0 39v1m0 22v1m1-142v2m0 13v1m0 21v5m0 8v17m0 1v1m0 4v13m0 9v4m0 18v1m0 20v1m1-120v3m0 1v1m0 22v3m0 13v3m0 13v3m0 4v4m0 8v2m0 17v1m0 16v2m1-128v3m0 1v9m0 24v17m0 1v4m0 52v2m0 7v2m1-119v2m0 13v3m0 14v4m0 11v5m0 2v15m0 3v2m0 1v1m0 3v1m0 8v1m0 20v5m1-121v1m0 1v2m0 10v8m0 15v3m0 8v16m0 9v23m1-64v3m0 2v5m1-34v2m0 2v4m0 22v6m0 12v4m0 7v3m0 14v3m0 7v2m1-79v1m0 1v1m0 14v24m0 17v5m0 6v4m0 1v5m0 7v3m1-105v5m0 1v3m0 1v5m0 12v5m0 15v6m0 1v2m0 16v23m1-101v6m2 39v3m0 40v5m1-73v1m5-2v9m1-7v2m0 14v2m2-25v1m2 12v1m0 1v2m1-24v4m0 7v5m0 1v2m0 1v1m1-20v3m0 12v1m0 1v4m1-10v3m0 9v10m0 25v3m0 14v2m1-84v25m0 10v2m0 11v6m0 13v1m0 1v4m0 8v4m0 1v10m1-79v1m0 10v3m0 2v1m1-15v1m0 17v1m0 14v6m0 9v12m0 22v2m1-91v2m0 39v4m0 13v4m0 5v12m1-92v2m0 17v1m0 1v1m0 1v3m0 9v1m0 19v8m0 1v2m0 5v8m0 16v2m1-83v3m0 10v18m0 32v2m0 1v5m0 8v2m1-56v5m0 12v19m1-72v6m0 2v1m0 3v3m0 28v3m0 18v5m0 26v1m1-95v3m1-7v4m0 8v3m0 11v4m0 6v1m0 1v1m1-31v1m0 17v4m0 8v1m0 1v3m0 25v2m0 1v1m0 15v1m1-81v6m0 15v3m0 4v1m0 1v2m0 4v5m0 1v6m1-55v4m0 2v1m0 1v2m0 1v8m0 4v3m1-24v10m0 2v6m0 4v7m4-23v2m0 1v2m1 7v1m0 3v4m1-18v3m0 1v10m1-23v1m1 13v5m0 1v3m2 20v8m0 3v6m0 10v5m0 1v1m0 104v1m1-166v6m0 3v2m0 9v2m0 38v9m0 106v3m1-155v4m0 4v1m1-30v4m0 1v1m0 14v7m0 19v4m0 23v3m0 5v3m1-92v1m0 13v2m0 9v1m0 1v1m0 1v20m0 2v12m0 12v5m1-30v3m0 3v6m1-65v4m0 57v11m0 3v5m1 5v6m1-99v1m0 11v1m0 38v10m0 10v3m0 16v1m1-75v7m0 1v2m0 67v3m1-51v15m0 9v5m0 7v4m0 9v1m1-84v1m0 8v2m0 62v10m0 15v2m1-79v4m0 1v1m0 51v5m1-92v3m1-5v1m0 1v2m0 4v6m0 25v1m0 1v4m0 9v4m0 5v5m0 6v8m0 6v3m1-87v5m0 70v12m1-87v2m0 18v1m0 24v6m0 11v8m0 6v10m1-60v3m0 2v3m0 17v5m0 5v2m0 11v1m1-46v3m0 5v8m0 7v2m0 21v11m1-86v10m0 2v4m0 73v5m1-75v6m0 13v4m0 63v1m1-56v2m0 14v11m1-72v5m0 24v3m0 40v4m0 10v2m1-69v2m0 6v2m0 1v3m0 10v7m0 12v19m1-81v2m0 16v3m1-28v1m0 6v1m0 61v1m0 8v4m0 10v1m1-92v1m0 35v2m0 1v2m0 1v4m0 3v7m0 1v1m0 1v1m0 3v2m0 1v9m0 15v6m1-93v2m0 12v1m0 10v2m0 6v5m0 14v2m0 4v13m0 7v13m1-89v2m0 1v1m0 1v5m0 12v4m0 48v3m0 1v3m1-84v6m0 18v1m0 1v2m2-11v1m0 49v2m1-51v1m0 8v3m2-24v4m0 1v5m0 1v3m0 2v1m0 1v1m0 2v2m0 1v4m1-10v2m1-21v3m0 4v2m0 86v1m1-96v2m0 14v1m0 1v4m1-14v4m0 29v5m1-25v5m0 145v2m1-178v5m0 10v2m0 7v3m0 19v2m0 18v2m0 4v3m0 6v4m0 1v5m0 74v1m1-162v3m0 8v3m0 143v1m0 17v1m1-182v1m0 31v4m0 1v18m0 105v3m0 11v5m1-176v4m0 7v2m0 16v2m0 48v6m1-85v1m0 1v3m0 12v8m0 60v1m1-81v6m0 10v1m0 30v9m0 24v1m1-77v3m0 12v2m0 15v1m0 6v7m0 33v5m1-88v2m0 8v2m0 60v1m0 1v2m1-80v1m0 1v1m0 1v4m0 1v13m0 1v7m0 1v1m0 6v7m0 22v3m0 14v6m1-91v3m0 1v1m0 14v1m0 1v1m0 1v4m0 1v6m1-36v3m0 29v3m1-20v4m0 15v1m0 15v7m1-58v1m0 1v5m0 26v1m1-30v1m0 2v1m0 3v3m0 15v4m1-33v1m0 21v1m0 12v1m1-13v2m1-17v1m0 8v2m1-18v1m0 14v1m0 1v5m0 2v1m1-3v1m1-20v2m0 2v2m0 18v1m1-32v5m0 7v1m0 2v7m0 1v3m0 6v2m1-24v1m0 6v3m1 17v2m1-10v7m0 1v1m0 1v10m0 38v1m0 2v1m0 1v1m1-92v8m0 27v1m0 48v10m1-71v5m0 28v3m0 7v3m1 4v2m0 7v3m0 5v3m1-94v1m0 4v5m0 73v9m1-53v10m0 26v3m0 5v4m1-70v2m0 2v1m0 24v8m0 8v4m0 2v1m0 1v7m0 4v4m0 99v2m1-186v1m0 1v4m0 8v6m0 16v3m0 1v6m0 9v11m0 99v3m0 49v3m1-220v1m0 21v1m0 1v1m0 126v4m1-111v2m0 7v4m0 8v1m0 1v1m0 21v3m0 5v2m0 44v3m1-10v2m1-134v1m0 1v1m0 1v1m0 1v6m0 31v5m0 2v19m0 8v4m0 7v9m0 35v4m0 38v1m1-158v5m0 18v8m0 10v3m0 18v5m0 52v3m1-139v1m0 21v5m0 45v3m0 7v6m0 61v4m0 10v3m1-148v2m0 14v1m0 26v11m0 29v1m0 3v1m0 50v6m1-160v1m0 1v2m0 17v4m0 2v1m0 2v3m0 5v22m0 19v3m0 7v3m0 3v1m0 1v1m1-103v1m0 1v4m1-1v1m0 25v1m0 12v7m0 1v1m0 9v3m0 9v3m1-19v1m0 1v1m1-61v5m0 1v1m0 17v3m0 36v10m0 7v3m0 9v2m1-90v2m0 16v1m0 15v4m0 4v3m0 6v3m1-47v3m0 41v7m0 12v5m0 13v2m1-95v5m0 5v5m0 18v1m0 5v13m0 14v5m0 6v18m0 10v1m1-73v3m0 3v1m0 18v14m0 7v6m1-46v2m0 24v2m0 22v4m0 1v1m0 14v2m1-86v4m0 10v8m0 19v3m0 9v10m1-79v1m0 15v2m0 1v1m0 1v2m0 8v3m0 9v3m0 5v3m0 9v2m1-57v1m0 1v1m0 9v1m0 37v12m0 14v3m1-91v2m0 6v3m0 2v1m0 1v3m0 6v2m1-30v2m0 24v2m0 16v3m0 4v4m0 35v4m1-58v2m0 19v3m0 4v2m1-61v1m0 1v5m1 28v2m0 9v3m0 5v7m0 11v1m0 10v5m0 1v2m1-58v4m0 9v6m0 1v7m0 1v8m0 14v6m0 6v2m1-103v3m0 12v1m0 62v1m0 1v7m1-58v6m0 22v2m0 21v12m1-44v2m0 5v2m0 13v4m0 7v6m0 11v2m1-99v1m0 1v1m0 2v3m0 26v1m0 1v2m1 44v1m0 1v4m1-86v1m0 14v2m0 5v3m0 23v11m0 9v4m0 9v5m1-89v1m0 59v7m1-63v3m0 3v4m0 51v4m0 25v1m0 14v2m1-111v4m0 18v2m0 11v4m0 16v7m0 35v4m1-93v6m0 2v1m0 2v2m0 1v1m0 13v1m0 3v1m0 3v8m0 5v8m0 18v8m1-52v13m0 27v3m1-29v8m0 11v6m1-67v1m0 64v2m0 8v1m0 1v7m1-58v1m1-38v4m0 10v3m0 15v1m0 10v4m0 4v3m0 12v7m0 6v16m1-95v3m0 45v7m0 38v4m2-77v1m0 11v1m4-33v7m0 11v2m0 9v1m1-21v3m0 1v3m2-2v1m0 15v4m4-11v9m1-24v4m0 1v1m0 1v11m1-25v2m0 1v1m0 1v3m0 6v3m0 8v1m5-18v1m0 1v1m0 5v2m0 10v4m0 1v3m2 112v1m1-8v1m0 5v1m1-12v1m0 7v1m1-12v1m0 8v1m1-10v1m0 2v2m1-9v1m0 6v2m1-8v2m5-122v4m0 22v2m4-21v6m0 1v1m10-10v6m5-18v5m4 13v4m0 2v6m1-21v3m0 2v2m2-3v4m0 5v3m1-6v1m0 1v7m1 2v5m2-37v4m0 26v7m1-6v4m1-15v1m0 1v5m1 2v8m2-20v7m0 7v6m2-31v10m0 15v6m1-18v3m0 11v3m1-17v1m0 3v3m2-12v1m0 14v3m1-34v10m0 21v2m3-12v3m2-16v3m0 1v1m0 3v1m0 13v1m0 1v4m0 1v2m3-39v1m0 6v3m0 11v4m1-16v3m0 22v5m2-9v1m0 72v1m3-74v2m2-3v1m0 2v5m11-10v4m0 5v3m3-27v2m0 2v1m0 3v1m0 1v1m0 9v2m1 1v4m1-7v2m0 2v2m0 4v1m1 105v4m0 22v2m1-155v1m0 2v1m0 32v3m0 81v2m0 25v2m1-159v2m0 14v2m0 102v1m0 28v2m1-135v4m0 5v3m0 89v1m0 27v1m1-136v3m0 3v3m0 95v1m0 27v2m1-120v4m0 83v1m0 24v2m1-149v2m0 23v7m0 78v2m0 7v1m0 23v1m1-127v2m0 99v1m0 17v2m1-28v2m0 22v2m1-130v14m0 110v2m1-105v2m0 6v2m0 73v3m0 4v7m1-101v4m0 5v2m0 56v2m0 5v2m0 8v1m1-93v2m0 11v1m0 1v7m0 20v1m0 5v3m0 24v3m0 4v3m1-11v3m0 7v2m0 48v4m0 1v2m1-111v2m0 7v2m0 30v1m0 13v1m0 35v2m0 11v1m1-127v3m0 1v3m0 55v1m0 21v1m0 6v1m0 25v4m1-60v1m0 17v1m0 4v1m0 6v1m1-76v1m0 16v2m0 10v3m0 8v2m0 3v1m0 17v1m0 11v1m1-113v1m0 3v1m0 1v7m0 69v2m0 16v1m0 4v1m0 6v1m1-92v2m0 59v1m0 18v1m0 3v1m1-93v2m0 1v1m0 1v1m0 1v2m0 10v3m0 46v1m0 19v1m1-73v1m0 1v1m0 34v3m0 1v1m0 1v3m0 7v1m1-37v1m0 6v2m0 14v5m1-55v2m0 20v4m0 21v8m0 5v2m0 31v1m1-64v3m0 2v3m0 17v2m1 4v1m0 25v1m0 4v1m1-31v1m1-79v2m0 2v4m0 26v5m0 38v1m0 20v1m0 5v1m1-78v6m0 12v2m0 30v1m0 20v1m0 6v3m1-104v6m0 1v1m0 2v4m0 59v1m0 20v1m0 6v2m1-86v8m0 49v1m0 19v1m1-104v5m0 16v1m0 61v1m0 19v1m1-38v1m0 17v1m0 17v1m1-86v3m0 1v2m0 1v1m0 59v2m0 16v1m1-74v1m0 1v4m0 26v2m0 3v2m0 16v1m1-57v1m0 3v1m0 53v1m0 15v1m1-102v1m0 19v3m0 13v2m0 2v1m0 46v2m0 12v2m1-17v1m0 13v1m1-16v1m0 14v1m0 8v2m1-68v3m0 41v2m0 9v1m1-100v3m0 1v4m0 13v1m0 1v1m0 47v3m0 16v2m0 6v1m0 90v1m1-190v6m0 9v8m0 141v1m0 27v1m1-153v3m0 92v1m1-130v3m0 30v2m0 31v1m0 4v4m0 11v5m0 3v1m0 1v1m0 14v1m2-5v1m1-82v3m0 35v1m0 1v1m0 1v1m0 1v1m0 36v1m1-21v5m0 14v1m1-96v4m0 9v3m0 125v1m2-49v1m1-111v3m0 23v1m1-12v5m0 14v1m0 76v1m1-95v4m0 9v2m0 8v2m0 13v2m0 4v2m0 18v3m0 1v1m0 6v5m0 12v3m1-49v1m0 16v2m0 6v2m0 21v1m1-112v1m0 4v4m0 20v1m0 7v1m0 43v5m0 7v2m0 1v4m0 12v1m0 29v1m1-30v1m0 26v1m1-124v1m0 4v1m0 1v8m0 81v1m1 0v1m1-59v3m0 1v3m0 30v3m2 21v1m0 8v1m1-9v1m0 2v1m1-113v5m0 9v1m0 9v2m2-2v5m0 54v1m1-57v1m0 448v5m1-486v2m0 282v1m0 195v1m1-468v4m0 1v4m0 262v1m0 171v13m0 13v7m1-469v4m1-7v1m0 277v1m0 6v1m0 31v1m0 119v2m0 11v1m0 1v4m1-144v2m0 14v5m1-66v1m0 48v2m0 21v3m0 110v6m0 7v2m1-481v2m0 66v1m0 1v3m0 208v1m0 53v2m0 27v1m0 114v4m0 4v4m1-477v2m0 265v1m0 56v2m0 26v2m0 112v3m1-472v9m0 323v1m0 29v1m1-23v2m0 21v1m1-361v6m0 337v2m0 16v1m0 75v1m0 7v3m0 7v5m1-471v3m0 25v1m0 333v4m0 6v1m0 93v3m0 6v3m1-115v9m3-94v1m1-268v2m0 10v1m1 432v6m0 7v3m1-194v1m1-268v4m0 8v2m0 253v1m2-259v3m0 4v2m0 48v1m1-69v2m0 1v3m0 450v3m0 7v1m0 10v1m1-497v1m0 10v8m0 2v1m0 1v10m0 255v1m0 176v6m0 1v6m1-121v5m0 107v4m0 4v3m1-22v10m0 1v4m0 15v6m1-483v5m0 2v1m0 2v2m0 444v2m0 8v2m0 1v1m1-459v7m0 432v1m0 13v2m0 16v1m0 1v3m2-478v10m0 428v1m0 8v2m1-181v1m0 188v8m1-459v5m0 54v1m0 380v9m1-10v1m1-457v1m0 18v4m0 52v1m1 383v3m0 4v4m0 8v1m0 9v1m1-496v7m0 304v8m0 59v1m0 77v2m0 14v2m0 7v6m1-171v2m0 67v1m1-388v1m0 29v1m0 5v1m0 1v1m0 299v1m0 130v6m0 9v2"/>
<path fill="none" stroke="#f0c800" d="M64.5 184v14m1-14v14m1-17v2m0 5v10m1-14v5m1-5v16m1-16v9m1-56v5m0 42v10m1-119v4m0 24v3m0 79v1m0 1v4m0 3v4m1-14v7m1-10v2m0 5v10m1-22v1m0 2v2m0 3v11m1-57v1m0 45v15m1-15v12m1-12v10m1-10v10m1-13v2m0 6v15m1-20v11m1-11v13m1-13v10m1-10v12m1-12v10m0 1v1m1-12v16m1-127v6m0 105v14m1-14v6m1-9v2m0 1v13m1-13v1m0 7v6m1-14v10m1-7v1m0 1v10m2-15v6m1-6v15m1-15v1m1-1v10m1-10v1m0 6v1m1-8v6m1-6v20m1-20v15m1-15v13m1-16v2m0 1v14m1-110v15m0 1v1m0 79v4m1-4v17m1-17v9m1-9v9m1-9v16m1-16v17m1-12v2m0 1v6m1-14v14m1-14v14m1-14v9m1-9v6m1-57v2m0 26v6m0 10v1m0 1v4m1-77v6m0 26v1m0 13v8m0 6v5m1-49v4m0 4v15m0 32v2m0 1v3m1-74v5m0 8v3m0 36v10m0 6v2m1-7v1m1-51v10m0 23v12m0 10v2m0 1v2m1-83v1m0 62v3m1-59v3m0 12v16m0 1v11m0 1v2m0 10v4m0 11v2m1-73v2m0 15v3m0 12v30m0 9v6m1-76v15m0 7v5m0 4v4m0 30v3m0 2v1m1-9v2m0 1v1m0 6v4m1-77v4m0 4v18m0 27v11m1-61v3m0 24v9m0 10v15m0 8v1m1-35v9m1-83v3m0 8v3m0 38v3m0 1v3m0 1v2m0 2v4m0 39v2m1-87v4m0 38v1m0 43v1m1-92v4m0 9v5m0 8v10m0 15v18m0 21v2m1-89v14m0 2v2m0 7v7m0 17v3m0 20v6m0 4v1m0 1v4m0 1v4m1-116v5m0 10v11m0 5v11m0 11v1m0 1v2m0 1v2m0 1v3m0 29v8m1-62v9m0 10v12m0 5v4m0 7v10m1-92v5m0 1v4m0 25v9m0 19v5m0 2v1m0 1v10m0 9v2m0 13v2m1-69v22m0 2v1m0 1v2m0 1v1m0 8v4m0 8v3m0 9v3m0 1v1m0 2v4m1-114v15m0 1v18m0 6v13m0 1v1m0 5v6m0 9v13m0 5v4m0 7v3m0 6v1m1-115v1m0 1v11m0 1v6m0 1v3m0 28v3m0 28v9m0 17v2m0 2v2m1-80v3m0 46v8m0 12v5m0 4v2m1-109v4m0 11v4m0 13v2m0 9v3m0 1v6m0 6v10m0 4v12m0 8v1m0 7v2m1-110v1m0 21v17m0 20v3m0 2v2m0 11v10m1-66v7m0 7v3m0 18v5m0 1v5m0 26v3m0 15v1m1-69v36m0 8v1m0 1v10m0 1v1m0 4v3m0 2v1m1-111v5m0 2v1m0 1v7m0 24v13m0 11v21m0 16v3m0 1v5m0 2v4m1-102v4m0 1v1m0 78v3m2-69v3m0 18v3m0 1v4m0 14v22m1-96v11m0 1v2m0 2v1m0 1v8m0 46v27m0 10v2m0 2v1m1-115v2m0 9v4m0 9v15m0 5v8m0 1v5m0 1v9m0 8v7m0 3v2m0 11v2m0 9v2m1-87v3m0 3v3m0 48v8m0 15v3m0 3v5m1-56v4m0 4v11m0 2v8m0 4v8m1-100v3m0 16v9m0 6v1m0 21v15m0 9v11m0 20v4m1-107v23m0 23v4m0 6v4m0 1v2m0 11v15m0 12v1m0 1v3m1-92v5m0 7v4m0 25v6m0 5v13m0 22v2m1-112v13m0 6v1m0 1v1m0 10v1m0 1v5m0 41v6m0 9v6m0 9v6m1-116v4m0 9v4m0 7v5m0 41v31m1-97v4m0 8v13m0 21v7m0 2v4m0 17v6m0 1v3m0 15v4m0 1v2m0 1v1m1-59v4m0 16v6m0 1v5m0 13v1m0 4v1m0 1v2m0 3v4m1-93v2m0 7v1m0 1v2m0 3v6m0 6v4m0 3v6m0 41v2m0 7v2m1-101v21m0 2v1m0 52v2m0 7v1m0 5v4m0 2v4m1-38v5m0 10v1m0 1v2m0 13v2m1-107v4m0 1v3m0 2v8m0 8v1m0 1v6m0 22v1m0 12v3m0 5v3m0 9v7m0 13v1m1-97v1m0 34v22m0 26v2m0 8v1m1-87v3m0 1v1m0 46v3m0 15v5m1-95v5m0 13v18m0 1v3m0 1v1m0 7v22m0 2v10m0 3v11m0 4v4m0 2v1m1-112v3m0 1v12m0 10v4m0 6v3m0 17v1m0 2v1m0 2v8m0 16v6m0 2v7m0 4v1m1-106v2m0 1v4m0 27v5m0 46v14m0 6v5m0 2v4m1-105v9m0 25v5m0 12v4m0 2v1m0 1v13m0 14v1m0 1v2m0 9v2m1-93v5m0 19v30m0 4v9m0 24v2m1-93v12m0 8v6m0 1v11m0 3v1m0 1v13m0 10v16m1-98v1m0 1v19m0 2v7m0 17v3m0 26v9m0 4v1m1-90v3m0 18v4m0 32v10m0 17v3m0 10v1m0 9v2m1-67v20m0 16v7m0 5v3m1-96v1m0 5v4m0 10v2m0 12v3m0 54v9m0 5v3m0 2v2m0 1v1m0 1v1m1-116v1m0 29v1m0 1v1m0 14v15m0 6v7m0 11v4m0 6v5m0 4v3m0 2v1m1-104v4m0 4v9m0 15v1m0 5v4m0 7v35m0 19v2m1-94v5m0 10v3m0 34v19m1-42v10m0 20v17m0 13v3m0 2v3m1-96v11m0 1v8m0 6v15m0 32v3m0 6v3m0 1v7m1-112v6m0 1v1m0 4v6m0 13v3m0 39v12m0 10v4m0 7v3m0 5v2m1-95v5m0 4v15m0 3v8m0 8v8m0 23v3m0 3v3m0 5v1m0 2v3m1-99v3m0 10v4m0 2v4m0 44v4m0 9v5m1-101v1m0 1v3m0 1v5m0 13v12m0 11v1m0 1v23m0 1v24m0 8v2m0 7v2m1-77v7m0 17v6m0 2v23m0 5v2m0 4v5m0 2v1m1-99v2m0 6v3m0 11v3m0 19v6m0 7v5m0 2v8m0 1v1m0 2v11m0 9v2m1-97v3m0 18v3m0 9v8m0 1v2m0 13v10m0 5v10m0 13v1m1-111v9m0 37v1m0 1v4m0 12v3m0 10v5m0 1v14m1-97v15m0 5v1m0 1v6m0 11v8m0 11v16m0 1v5m1-80v17m0 1v2m0 1v1m0 1v9m0 8v10m0 14v5m0 10v3m0 23v5m0 2v1m1-113v24m0 10v5m0 28v11m1-49v9m0 32v17m1-42v3m0 20v9m0 24v1m0 8v2m1-87v9m0 5v5m0 1v17m0 5v1m0 12v5m0 20v7m1-98v2m0 23v2m0 2v5m0 15v9m0 8v9m0 6v5m0 10v2m1-97v4m0 15v1m0 1v38m0 14v13m0 4v3m0 4v4m1-110v12m0 1v1m0 3v5m0 5v10m0 14v5m0 7v9m0 27v2m0 3v2m1-112v14m0 25v2m0 2v2m0 2v10m0 8v13m0 4v7m0 7v4m0 10v2m1-100v5m0 1v1m0 1v1m0 1v5m0 9v3m0 1v13m0 9v22m0 12v2m0 7v7m1-85v11m0 7v5m0 10v3m0 44v1m0 2v2m1-57v4m0 4v12m0 12v6m0 17v2m1-85v3m0 2v1m0 1v1m0 26v24m0 12v4m0 9v2m0 1v3m1-90v7m0 1v1m0 1v1m0 6v18m0 24v16m1-80v7m0 12v11m0 4v12m0 38v5m0 2v4m1-110v8m0 10v9m0 4v2m0 5v2m0 20v7m0 14v6m0 17v2m0 2v2m1-99v5m0 25v4m0 8v8m0 29v5m0 4v1m0 4v2m1-112v4m0 1v1m0 21v1m0 4v7m0 24v1m0 1v4m0 9v9m0 6v8m1-101v1m0 1v9m0 13v4m0 14v2m0 1v3m0 10v5m0 35v3m1-97v11m0 14v6m0 10v25m0 13v9m0 1v8m0 9v2m1-74v1m0 6v1m0 4v18m0 16v17m1-101v2m0 43v1m0 10v4m0 4v14m0 13v3m0 16v1m0 1v2m1-67v3m0 3v10m0 35v3m0 9v2m0 3v1m1-85v3m0 15v5m0 10v14m0 7v6m0 24v1m1-77v5m0 1v2m0 6v48m0 11v3m1-64v3m0 1v1m0 2v5m0 16v5m0 9v4m0 13v1m0 1v3m1-110v4m0 16v1m0 1v12m0 17v20m0 12v13m0 4v1m0 4v1m1-96v2m0 13v6m0 10v4m0 1v12m0 1v7m0 17v13m1-86v6m0 16v7m0 1v1m0 17v35m0 8v1m0 3v2m1-107v4m0 2v1m0 1v13m0 15v7m0 23v4m0 5v15m0 15v2m1-112v18m0 14v9m0 14v7m0 2v1m0 2v18m0 14v2m0 10v1m1-112v3m0 46v4m0 14v19m0 8v2m0 5v1m0 4v4m0 2v4m1-116v8m0 22v7m0 13v12m0 2v1m0 1v9m0 1v2m0 3v1m0 3v1m0 1v5m0 2v1m0 1v2m0 7v5m0 2v1m1-110v6m0 19v6m0 6v15m0 1v1m0 1v3m0 10v4m0 10v3m0 7v6m1-85v3m0 6v4m0 34v25m0 12v1m1-62v14m0 2v15m0 13v4m0 6v1m0 1v6m1-91v2m0 11v10m0 10v4m0 1v1m0 2v1m0 1v1m0 30v4m0 6v5m0 3v2m1-59v2m0 7v3m0 9v5m0 5v4m0 14v7m0 4v3m0 1v1m0 3v3m1-112v4m0 21v7m0 74v2m1-112v11m0 10v7m0 3v1m0 1v5m0 4v3m0 22v4m0 2v8m0 16v4m0 9v2m1-112v5m0 15v2m0 15v2m0 6v3m0 4v3m0 37v7m1-83v1m0 20v1m0 23v5m0 9v22m0 4v1m0 6v2m0 2v4m1-116v1m0 31v10m0 1v2m0 11v4m0 6v5m0 4v13m0 22v2m1-112v10m0 7v3m0 12v3m0 13v10m0 1v1m0 10v1m0 25v5m0 11v4m1-104v11m0 16v23m0 1v11m0 5v6m0 5v11m0 13v2m1-115v1m0 21v3m0 9v3m0 1v1m0 1v4m0 5v11m0 7v6m0 8v17m0 11v2m1-108v5m0 2v2m0 1v12m0 1v1m0 1v7m0 6v13m0 5v5m0 27v5m0 13v6m1-115v5m0 12v2m0 33v9m0 5v10m0 1v1m0 1v10m0 1v9m0 5v6m0 3v2m1-116v1m0 8v1m0 1v3m0 31v3m0 10v23m0 7v7m0 1v1m0 1v3m0 4v5m1-95v4m0 19v1m0 4v12m0 20v9m0 26v1m1-111v4m0 7v2m0 1v1m0 1v1m0 8v8m0 6v1m0 2v1m0 2v4m0 19v5m0 6v4m0 1v10m0 2v5m0 9v2m0 1v3m1-100v1m0 1v15m0 12v23m0 2v10m0 5v6m1-72v3m0 2v6m0 7v2m0 66v5m0 2v3m1-5v2m1-110v3m0 7v2m0 96v2m0 1v3m1-83v1m1-34v7m0 20v1m1 12v8m0 26v3m0 9v3m1-55v5m2-31v4m0 1v4m1-8v1m0 8v5m0 1v1m0 5v4m0 68v1m0 3v2m0 2v2m2-32v10m1 11v1m0 6v4m1-11v2m0 55v3m0 7v5m1-150v3m0 1v4m0 110v1m0 30v2m1-146v6m0 101v1m0 25v3m1-143v2m0 105v1m0 24v1m1-154v11m0 14v2m0 2v1m0 2v5m0 55v1m0 48v2m1-143v5m0 24v1m0 1v1m0 1v4m0 86v1m0 5v3m0 10v7m0 19v2m1-155v4m0 10v3m0 1v6m0 60v2m0 19v5m0 8v1m0 29v1m1-141v5m0 1v2m0 98v1m0 28v2m1-35v1m0 25v2m1-149v1m0 1v5m0 24v4m0 82v1m0 22v3m1-139v1m0 2v1m0 15v3m0 3v1m0 1v4m0 81v1m0 4v7m1-94v1m0 5v3m1-12v12m0 1v4m0 22v1m1-73v7m0 31v17m0 19v10m1-70v1m0 12v3m0 37v1m0 2v1m1-68v1m0 24v2m0 3v4m0 55v7m1-67v3m0 1v1m2-37v8m0 18v3m0 1v1m0 1v3m0 35v14m1-85v2m0 9v4m1 14v1m0 33v4m0 14v1m0 1v6m1-77v2m0 1v1m0 1v4m0 17v8m0 2v25m0 3v9m0 12v3m1-78v4m0 12v1m0 23v14m0 7v8m1-91v12m0 9v3m1-24v1m0 31v6m1 24v6m0 26v6m1-80v12m0 13v3m0 14v4m0 7v27m1-101v14m0 1v4m0 1v5m0 1v13m0 21v9m0 10v4m0 1v5m0 20v2m1-51v2m0 1v1m0 16v8m1-25v9m0 18v4m1-94v2m0 26v7m0 1v1m1-37v7m0 64v8m0 1v6m1-40v5m0 11v7m0 14v8m0 6v4m1-101v6m0 1v2m0 2v4m0 5v4m0 7v3m0 1v2m0 47v3m0 7v2m1-27v7m0 5v3m1-83v5m0 12v1m0 1v3m0 43v11m0 33v2m1-112v9m0 2v8m0 5v13m0 42v15m0 15v1m0 2v1m1-83v8m0 32v5m0 1v5m0 10v5m0 13v1m0 2v1m1-113v7m0 23v4m0 1v2m0 19v9m0 20v13m1-87v3m0 13v12m0 15v6m0 15v6m1-81v3m0 9v1m0 24v2m0 40v7m0 23v1m0 2v1m1-102v9m0 36v5m0 48v1m0 2v1m0 62v3m1-165v4m0 17v2m0 1v1m0 1v3m0 2v1m0 22v12m0 3v6m0 4v4m0 14v2m0 48v1m0 19v3m1-162v7m0 8v3m0 50v3m0 4v4m0 40v1m0 28v1m1-159v3m0 1v1m0 24v3m0 15v16m0 7v4m0 6v10m0 25v1m1-126v3m0 10v19m0 11v8m0 32v6m0 1v10m0 20v1m0 38v1m1-157v2m0 1v5m0 73v10m0 24v1m1-120v5m0 12v1m0 12v6m0 3v1m0 13v1m0 2v2m0 2v1m0 24v5m0 8v3m0 17v1m0 34v1m1-152v3m0 7v27m0 39v4m0 36v1m0 31v1m1-151v20m0 99v1m0 26v1m1-131v1m0 5v1m0 2v1m0 1v1m0 72v1m0 19v1m0 22v1m1-144v17m0 6v8m0 3v3m0 86v1m1-124v7m0 7v15m0 1v3m0 6v1m0 42v9m0 35v1m0 4v2m1-106v6m0 3v15m0 1v7m0 1v17m0 7v17m2-74v12m0 3v3m1-37v6m0 1v7m0 1v1m0 4v7m0 39v12m0 4v8m1-87v3m0 8v3m0 11v3m0 34v6m1-73v5m0 11v4m0 13v9m1-48v6m0 24v9m0 22v11m1-72v4m0 23v12m0 32v7m1-63v1m0 18v1m0 1v3m0 43v7m0 1v1m0 1v7m1-99v5m0 4v7m0 1v2m0 6v1m0 1v12m0 10v1m0 34v3m1-54v6m0 24v5m0 12v2m0 10v7m1-97v7m0 1v7m0 11v5m0 6v3m0 14v1m0 1v7m0 12v6m1-83v13m0 30v8m0 1v1m0 27v10m1-85v1m0 1v12m0 10v3m0 9v2m0 41v17m1-101v6m0 8v4m0 17v4m1-14v2m0 1v1m0 2v1m0 1v6m0 22v1m0 1v8m0 16v3m1-86v14m0 1v1m0 13v6m0 14v17m0 16v9m0 3v1m0 1v1m1-101v1m0 9v2m0 33v2m0 1v1m0 12v7m1-68v4m0 2v1m0 1v3m0 12v4m0 12v2m0 32v9m0 3v11m1-88v1m0 1v7m0 1v1m0 1v17m0 10v8m0 7v13m0 18v8m1-81v19m0 2v21m0 15v14m0 1v6m1-85v10m0 32v3m0 9v4m0 6v13m0 7v4m0 2v2m0 2v1m0 3v1m1-109v6m0 9v9m0 18v5m0 8v4m0 5v15m1-82v4m0 20v15m0 18v12m0 16v8m1-49v2m0 1v3m0 1v6m0 26v7m0 9v2m1-101v5m0 16v10m0 1v5m0 1v1m0 12v1m0 16v4m0 7v4m0 5v8m1-96v3m0 6v3m0 28v4m0 8v6m0 7v12m0 21v1m1-98v11m0 3v12m0 12v12m0 5v32m0 1v1m0 3v10m1-103v13m0 7v1m0 1v5m0 6v6m0 42v10m1-91v3m0 28v1m0 1v6m0 19v2m0 9v4m0 9v15m1-80v2m0 16v4m0 6v3m0 29v12m1-83v4m0 8v14m0 10v6m0 3v7m0 1v11m0 1v1m0 1v2m0 6v9m1-51v1m0 17v8m0 10v12m1-87v9m0 1v1m0 1v5m0 15v8m0 15v18m0 12v5m1-90v1m0 4v17m0 40v13m0 6v3m1-72v1m0 1v1m0 1v2m0 11v3m0 1v1m0 10v7m0 14v6m0 12v18m1-100v2m0 37v9m0 11v11m0 1v21m1-90v4m0 9v6m0 24v10m0 15v26m1-83v25m0 43v19m1-47v10m0 14v8m1-81v4m0 1v2m0 1v1m0 1v9m0 14v5m0 66v3m1-112v7m0 7v4m0 18v3m0 9v6m0 3v16m0 5v10m0 1v1m1-79v7m0 1v1m0 4v7m0 7v4m0 35v2m0 1v3m1-83v5m0 1v5m0 18v5m0 9v3m0 11v6m0 31v2m1-96v1m0 11v21m0 1v8m0 6v5m0 1v1m0 10v19m1-83v5m0 1v1m0 51v9m0 40v3m1-111v2m0 6v3m0 13v2m0 72v3m1-58v2m0 1v1m1-44v2m0 1v1m0 3v7m0 17v2m0 1v2m1-38v9m0 1v4m0 23v1m0 43v9m1-83v5m0 1v1m0 20v3m0 20v8m1-60v1m0 7v6m0 1v4m0 7v7m0 43v1m1-81v5m0 13v2m1-15v7m0 16v13m0 13v10m1-66v7m0 16v17m0 12v5m0 7v12m0 19v1m1-84v2m0 7v1m0 6v1m0 1v2m0 2v4m0 43v4m0 41v6m0 4v1m0 1v8m1-146v17m0 9v8m0 27v18m0 42v1m1-122v2m0 2v13m0 1v5m0 11v5m0 5v8m0 17v1m0 1v4m0 64v1m1-129v1m0 1v8m0 3v1m0 1v4m0 21v3m0 8v2m0 19v4m0 32v2m0 12v2m1-113v3m0 9v5m0 24v1m0 58v2m0 2v3m1-129v3m0 5v4m0 18v9m0 9v11m0 22v3m0 2v1m0 1v3m0 1v8m1-61v3m0 27v9m1-44v3m0 3v2m1-31v2m0 8v3m0 25v12m0 14v6m0 1v7m1-89v1m0 14v7m0 1v1m0 1v5m0 33v5m0 5v7m0 5v6m1-91v6m0 15v12m0 5v1m0 20v1m0 2v8m0 4v4m1-72v5m0 12v5m0 3v1m0 3v4m9-16v2m0 10v2m4-6v2m1-22v7m1-7v12m0 1v1m0 4v4m1-30v16m0 50v3m0 8v3m1-45v1m0 35v8m1-69v5m0 14v2m0 1v4m1-39v10m0 7v3m1-5v3m0 11v1m0 1v2m1-31v2m0 13v2m0 7v2m0 5v2m0 28v1m0 2v5m0 8v3m0 8v5m1-78v10m0 58v8m2-84v2m0 1v3m0 34v18m1-60v3m0 1v1m0 15v1m0 1v4m1-18v3m0 5v3m1-17v3m0 7v7m0 13v1m1-9v4m0 1v1m0 11v1m1-45v2m0 1v1m0 2v1m0 15v2m1-8v4m4-14v1m1 10v3m1-11v1m0 10v15m2-19v1m2 18v5m0 8v3m0 6v4m0 1v5m0 112v1m1-161v3m0 2v9m0 142v3m0 7v3m1-148v4m1-48v6m0 2v1m0 4v1m0 1v4m0 76v5m1-88v2m0 9v2m1 39v3m1 13v3m2-82v2m0 7v2m0 49v4m0 2v4m2 3v7m1-69v1m0 4v3m1 74v5m1-99v2m1-1v1m0 2v4m0 6v5m0 2v1m0 1v10m0 1v5m0 6v9m0 14v6m2-72v2m0 21v2m0 9v13m1-16v2m0 25v5m1-29v5m0 8v7m1-56v4m0 16v1m0 9v9m1 0v3m2 43v10m1-65v6m1-36v9m1-6v6m0 75v10m1-93v2m0 46v3m0 7v1m0 1v1m0 1v3m0 2v1m1-61v2m0 8v2m0 13v3m0 1v1m0 6v8m0 2v4m1-53v3m0 10v3m0 5v1m0 1v2m0 55v1m1-83v2m0 6v3m0 12v3m0 1v1m0 2v2m2-21v2m0 1v5m1 2v2m0 5v1m1 77v2m1-96v1m0 9v2m0 1v1m0 1v2m0 2v1m1-4v5m1-29v3m0 9v3m1-14v2m0 17v1m2 155v2m1-163v7m0 24v4m0 10v4m0 9v6m0 85v2m0 14v1m1-188v2m0 1v1m0 2v3m0 14v3m0 141v2m1-169v3m0 36v1m0 126v11m1-167v2m0 1v4m0 20v2m1-35v2m0 1v1m0 3v2m0 8v2m0 8v4m1-18v3m0 1v1m0 1v4m1-9v3m0 8v1m1-17v8m1-13v1m0 1v1m0 26v1m2-31v4m0 4v1m0 1v1m0 16v2m1-36v2m0 8v9m0 4v4m0 8v3m2-30v2m0 1v3m0 22v3m1-39v3m0 23v2m0 8v2m2-26v2m0 4v2m1-18v2m1 23v5m0 1v4m1-35v5m0 2v2m0 2v1m0 13v4m0 1v4m1-31v7m0 1v2m0 11v6m1-23v1m0 10v2m3 3v3m0 6v2m1 24v7m1 19v5m1-90v4m1 73v5m1-29v8m0 15v4m0 105v1m1-181v8m0 6v6m0 7v3m0 3v1m0 128v2m0 41v6m1-62v3m0 28v1m1-141v7m0 39v5m0 49v3m0 35v1m1-47v3m0 39v1m1-181v4m0 1v1m0 1v1m0 1v1m0 6v6m0 3v1m0 1v3m0 22v2m0 19v8m0 4v7m0 48v3m0 34v1m1-126v10m0 81v5m0 24v4m1-176v4m0 1v1m0 73v7m0 71v5m0 2v3m1-147v2m1 66v7m1-95v1m0 1v1m1 4v3m0 6v2m0 2v2m0 7v3m0 7v1m0 1v4m0 21v9m2-69v1m0 1v3m0 9v5m0 14v6m0 3v16m0 10v7m1-74v1m0 13v2m0 20v4m1 33v13m1-88v5m0 24v5m0 13v14m1 6v7m1-12v22m0 16v1m2-100v3m0 18v1m0 1v1m0 25v5m1-60v4m0 14v1m0 1v2m0 2v5m1-22v6m0 10v6m1-26v2m0 21v1m0 21v4m1 9v4m1-63v4m0 1v1m1 35v3m0 3v3m0 42v1m1-84v6m0 15v5m0 6v9m0 43v6m1-98v2m0 1v1m0 7v1m1 24v18m0 52v2m1-61v5m0 32v11m1-98v1m0 1v1m0 1v2m2-2v1m0 8v5m0 10v11m0 36v9m2-77v3m1-6v18m0 2v11m1-32v5m0 13v1m0 1v4m0 1v8m0 1v3m0 1v3m1 8v15m0 1v1m0 1v9m2-1v8m0 1v1m2-84v2m0 6v2m0 19v6m0 8v4m3-38v7m0 13v1m4-14v3m0 3v3m1-17v1m2 2v2m0 6v1m0 1v5m4-23v16m0 9v3m1-23v1m0 1v1m1 3v2m0 1v1m0 2v2m5-24v7m0 10v1m0 8v1m3 114v1m0 3v1m1-10v2m1-5v1m0 5v2m1-8v2m1-6v6m6-132v6m23 15v2m1-12v2m2 3v5m1-2v1m3-25v2m1 35v2m1-10v4m0 1v2m0 1v2m6-15v5m0 4v2m1-13v3m2-8v4m0 3v1m0 3v3m1 2v4m5-26v1m0 1v3m0 1v5m0 1v7m0 1v1m3-31v6m1-7v4m0 2v3m18 22v5m3-22v2m0 1v3m0 1v1m0 12v3m3 115v4m0 16v2m1-31v3m0 20v2m1-168v3m0 5v3m0 18v2m0 101v3m0 24v1m1-129v5m0 93v1m0 24v2m1-132v3m0 99v1m0 24v2m1-30v1m0 22v1m1-27v1m0 20v2m1-24v1m0 14v2m1-20v1m0 15v2m1-25v2m0 1v1m0 12v5m1-101v3m0 1v2m1-8v5m0 60v5m0 7v1m0 8v1m1-97v1m0 8v2m0 9v2m0 19v5m0 30v4m0 16v1m1-22v7m0 9v1m0 4v1m0 39v1m1-107v3m0 1v3m0 33v2m0 9v2m0 8v1m0 4v1m0 24v2m0 7v2m1-63v2m0 12v2m0 27v4m0 3v4m1-55v2m0 13v2m1-31v2m0 5v1m0 6v1m0 15v1m0 6v1m1-23v2m0 13v1m0 6v1m1-84v1m0 59v1m0 16v1m0 11v1m1-98v1m0 1v1m0 1v1m0 15v2m0 45v1m0 17v1m0 5v1m0 4v1m1-82v1m0 1v2m0 35v1m0 1v1m0 11v2m0 14v2m0 5v1m0 4v1m1-57v1m0 11v2m0 5v8m0 19v1m0 4v1m0 4v1m1-31v1m0 19v1m1-50v2m0 22v3m0 22v1m0 4v1m0 4v1m1-31v1m0 19v1m0 5v4m1-29v2m0 17v1m0 5v4m1-106v2m0 74v1m0 18v1m0 7v3m1-30v1m0 18v1m1-88v1m0 1v2m0 64v2m0 17v1m1-19v2m0 16v1m1-19v2m0 16v1m1-18v3m0 13v1m1-16v2m0 13v1m1-39v3m0 19v1m0 16v1m1-16v1m0 13v1m1-78v13m0 53v4m0 5v3m1-14v2m0 10v1m1-14v2m0 11v1m0 3v1m1-15v9m0 1v4m1-101v1m0 88v6m0 92v2m1-186v9m0 176v1m1-56v1m0 44v1m1-182v6m0 75v11m0 11v1m1 12v1m0 54v1m1-4v1m1-134v4m0 125v1m1-52v1m1-93v3m0 2v1m0 1v2m0 82v1m1-1v1m1-2v1m1-85v4m0 1v1m0 3v3m0 73v1m0 38v1m1-40v1m0 35v1m1-128v2m0 4v3m0 27v4m0 23v1m0 1v6m0 20v1m0 33v1m1-65v6m0 24v1m0 31v1m1-144v4m0 25v7m0 58v1m0 17v1m1 0v1m1-1v1m1 0v1m1-57v1m0 56v1m0 16v1m1-18v1m0 12v1m1-6v2m1-6v1m1-107v9m0 12v3m2 0v1m1-22v2m0 15v2m0 68v1m0 183v1m0 188v8m0 5v2m1-491v3m1 17v1m0 436v2m2-160v6m0 154v3m0 5v3m0 1v1m0 4v2m0 15v4m1-163v2m0 6v6m1-10v2m0 16v3m0 110v3m0 6v7m1-486v7m0 69v1m0 267v2m0 23v2m0 87v6m0 5v3m0 11v3m1-463v2m0 322v2m0 22v2m0 112v2m0 3v2m1-204v1m0 62v1m0 26v2m1-20v2m0 17v2m1-93v1m0 77v2m0 13v1m0 87v7m1-100v6m0 91v3m0 3v6m1-197v1m4-266v5m0 1v4m1 255v1m0 193v9m0 1v2m0 2v1m2-472v8m2 0v4m0 251v1m1-268v1m0 266v1m0 182v4m0 11v2m0 5v3m1-495v10m0 467v4m1-15v2m0 11v7m1-19v1m0 25v4m1-475v5m0 9v2m0 426v2m0 12v1m0 1v5m1-486v2m0 18v2m0 7v5m0 443v2m0 9v5m0 1v1m2-207v1m0 180v5m0 15v1m0 1v1m0 1v5m1-24v3m0 8v4m0 7v2m1-35v3m0 9v3m0 9v5m1-34v7m0 1v6m0 5v5m1-472v4m0 2v1m0 5v6m0 260v1m0 188v5m1-24v10m0 11v3m0 1v4m1-166v4m0 50v5m0 96v7m1-195v1m0 31v3m0 62v2m1 88v9"/>
<path fill="none" stroke="#f0a000" d="M65.5 67v16m1 0v9m0 15v10m0 67v4m1-121v9m0 12v12m0 6v1m0 7v21m0 37v3m1-102v7m0 1v20m0 10v8m0 54v4m1-71v5m0 15v3m1 5v3m0 5v3m1-77v7m0 4v8m0 12v4m0 10v8m0 59v1m1-107v8m0 22v2m1 0v3m0 28v5m0 42v4m1-121v5m0 100v4m0 1v2m1-73v17m0 11v4m0 1v3m0 37v2m2-106v4m0 1v1m2 103v5m1-100v7m1-5v15m0 10v10m1 11v1m1-22v1m1-6v26m0 1v1m1 40v2m1-114v6m0 6v27m1-22v8m0 8v1m0 2v1m0 26v12m0 37v2m1-103v3m2-14v5m0 62v8m1-57v1m0 98v3m0 1v1m2-97v8m1-28v5m0 7v8m0 44v6m1-75v1m0 57v5m2-9v20m3-18v7m0 43v1m0 1v1m0 3v2m1-114v10m0 34v9m1-44v18m1-27v21m0 15v1m0 1v1m1-30v10m0 16v1m1 28v11m1-54v8m0 76v5m0 2v1m1-69v1m0 1v10m1 53v1m0 2v2m1-110v1m0 1v10m0 14v3m0 9v1m0 27v5m0 30v5m0 2v2m1-75v12m0 13v9m1-73v4m0 15v20m0 13v15m1 4v4m0 30v5m1-101v15m0 6v9m1 9v18m0 2v8m0 9v9m0 6v4m0 7v1m1-67v26m0 1v13m1-35v5m0 4v4m0 15v3m0 20v3m1-65v3m0 16v36m1-89v12m0 22v9m0 25v14m0 6v11m1-96v9m0 35v3m0 10v6m0 7v10m1-83v27m0 1v14m0 1v11m0 10v26m0 3v5m1-61v12m0 28v1m0 2v10m1-54v15m1-53v3m0 33v1m0 15v7m0 13v3m1-30v11m0 8v24m0 7v4m0 4v4m1-95v8m0 1v1m0 8v6m0 4v4m0 56v1m1-80v7m0 14v6m0 2v16m0 9v10m0 15v1m1-104v9m0 2v1m0 23v4m0 22v2m0 11v3m0 9v18m1-104v3m0 14v14m1-31v4m0 6v15m1-25v6m0 2v1m0 2v9m0 4v9m0 5v1m0 17v5m0 7v3m1-66v8m0 2v1m0 1v6m0 14v2m0 2v7m0 27v4m0 7v9m0 16v1m1-107v10m0 11v5m1-31v2m0 31v1m0 36v5m1-75v4m0 5v1m0 4v5m0 29v6m0 2v11m0 30v4m1-101v11m0 26v2m0 46v8m0 15v1m1-109v2m0 15v1m0 21v3m0 13v1m0 1v5m0 28v5m0 14v1m0 2v3m1-115v1m0 1v1m0 11v1m0 10v3m0 28v28m1-81v1m0 2v8m0 1v1m0 1v4m0 2v3m0 3v7m0 74v2m1-110v5m0 19v4m0 11v9m0 3v1m0 51v3m0 2v2m1-111v10m0 9v2m0 40v2m1-64v2m0 2v1m0 1v15m0 17v1m0 22v1m1-62v1m0 12v15m0 5v1m0 1v4m0 60v1m1-95v2m0 1v1m0 7v2m0 21v1m0 13v11m0 21v2m0 7v7m0 9v2m1-112v1m0 1v12m1-14v3m0 5v1m0 1v10m0 1v1m0 4v11m1-7v2m0 24v1m1-30v12m1-37v9m0 47v1m0 24v3m0 2v11m1-99v1m0 1v1m0 4v1m0 1v9m0 1v6m0 9v2m0 74v1m1-47v4m0 11v2m1-81v1m0 38v14m0 1v3m0 15v9m0 28v1m1-78v4m0 1v2m0 20v6m0 46v1m1-107v1m0 12v5m1-10v6m0 1v1m0 1v10m0 1v1m0 52v9m1-91v9m0 16v4m1-25v8m0 41v2m1-36v13m0 1v2m0 42v1m0 28v2m1-103v14m0 13v3m0 16v3m0 6v5m0 7v11m0 20v3m0 2v2m1-105v6m0 95v2m1-107v20m0 7v7m1-30v1m0 3v2m0 62v5m0 30v2m0 1v1m1-116v1m0 9v1m0 1v6m0 1v6m0 50v12m0 11v3m1-101v25m0 3v1m0 1v9m0 40v15m0 11v5m0 2v4m1-116v4m0 71v2m0 10v3m0 20v1m1-108v1m0 26v6m0 56v2m0 12v4m0 2v4m1-114v1m0 4v6m0 3v11m0 2v5m0 76v2m1-104v3m0 9v4m0 42v2m0 1v1m0 13v14m0 1v1m1-84v4m0 5v6m0 1v7m1-38v4m0 5v1m0 1v8m0 12v2m0 12v1m0 11v3m0 1v1m1-38v2m0 7v6m1-39v3m0 25v2m0 8v1m0 31v17m0 3v10m1-12v5m1-83v5m0 1v4m0 17v2m1-38v5m0 8v16m0 1v1m0 1v4m0 38v11m1-86v7m0 17v7m0 18v7m1-33v10m0 72v5m0 2v4m1-87v10m0 55v7m0 9v2m0 3v1m1-109v1m0 1v1m0 4v5m0 11v1m0 64v2m1-91v1m0 1v4m0 22v3m0 48v10m0 14v1m0 2v2m1-114v1m0 1v1m0 1v1m0 3v13m0 24v3m0 50v3m0 9v2m1-112v16m0 3v10m0 58v9m1-95v1m0 3v1m0 5v3m0 6v4m0 12v3m0 68v3m0 2v2m1-96v1m0 14v6m0 30v2m0 39v2m1-106v1m0 1v6m0 11v4m0 3v4m0 28v7m1-53v3m0 9v6m1-27v30m0 28v10m1-62v5m0 1v1m0 6v5m0 41v1m1-58v1m0 2v1m0 1v1m0 9v6m0 31v5m0 1v4m0 31v2m0 1v3m1-11v5m0 5v1m1-101v14m0 9v1m0 66v5m0 2v4m1-109v6m0 35v3m0 15v2m0 9v2m0 8v14m1-101v17m0 1v7m0 37v5m0 1v12m0 5v4m0 9v3m1-101v5m0 1v8m0 27v2m0 46v6m1-76v3m0 9v3m0 1v1m0 38v14m0 20v2m1-110v6m0 12v1m0 1v3m0 20v14m1-16v2m0 2v2m0 10v8m0 13v4m0 7v7m1-79v1m0 1v1m0 1v1m0 62v5m0 4v3m1-77v8m0 11v1m0 24v26m0 2v10m1-101v3m0 31v5m0 20v4m0 12v12m1-87v3m0 22v2m0 58v4m0 3v5m1-97v5m0 16v5m0 35v15m0 1v1m0 1v6m1-85v11m0 6v4m0 7v3m0 36v16m0 16v2m0 9v2m1-111v5m0 8v10m0 9v4m0 9v20m0 7v14m1-79v1m0 1v7m0 5v4m0 25v8m0 8v4m0 12v2m0 7v4m1-27v9m1-67v13m0 4v11m0 24v28m0 3v4m1-97v3m0 11v6m0 2v6m0 6v4m0 31v13m1-82v1m0 1v2m0 13v11m0 5v4m0 30v5m0 7v4m1-82v2m0 15v12m0 29v4m0 14v13m0 20v1m0 2v2m1-110v14m0 30v3m0 10v9m0 21v5m1-64v5m0 39v7m0 20v2m0 5v3m1-115v8m0 19v12m0 71v2m1-112v7m0 19v2m0 10v1m0 15v1m0 1v2m0 26v9m0 18v1m0 3v1m1-116v5m0 71v12m1-71v3m0 6v4m0 20v1m0 12v1m0 7v6m0 8v3m1-77v4m1-12v2m0 21v4m0 6v5m0 34v5m2-77v3m0 22v1m0 9v1m0 14v14m0 29v5m0 9v2m1-75v2m0 23v2m0 1v1m0 44v2m0 1v3m1-116v3m0 6v6m0 1v1m0 7v4m0 6v6m0 21v3m0 1v6m0 4v10m1-72v3m0 13v26m0 1v7m0 25v4m0 6v2m1-100v6m0 15v8m0 9v1m0 31v13m0 4v6m0 1v1m1-83v2m0 1v2m0 1v5m0 24v1m0 1v2m0 1v1m0 1v6m0 1v23m0 15v2m1-82v9m0 7v1m0 1v2m0 8v7m0 17v5m0 32v1m0 3v1m1-105v6m0 12v3m0 7v3m1-28v10m0 7v3m0 1v1m0 12v14m0 3v5m0 14v16m1-75v3m0 9v3m0 11v4m0 53v5m0 2v4m1-105v5m0 1v20m0 1v1m0 27v9m0 22v4m0 9v2m1-111v2m0 27v2m0 10v1m0 2v11m0 15v4m1-55v4m0 6v2m0 7v9m0 57v5m1-25v5m1-90v1m0 1v8m0 11v2m0 15v1m0 6v5m0 11v7m0 6v8m1-73v2m0 2v1m0 12v1m0 1v1m0 26v5m0 37v4m1-101v1m0 19v2m0 15v2m0 23v5m0 23v1m0 20v1m1-98v4m0 1v1m0 4v11m0 60v1m0 1v1m0 12v6m1-116v1m0 11v3m1-11v7m0 2v1m0 1v1m0 1v8m0 8v6m0 44v1m0 10v2m1-90v10m0 1v1m0 15v5m0 42v5m1-55v7m0 73v2m2-107v7m3 65v9m3-74v1m1-6v2m0 92v1m0 6v2m3-8v1m1 58v2m0 1v4m1-142v1m0 115v1m0 27v2m1-36v1m0 22v2m1-138v2m0 10v1m0 1v2m0 90v1m0 20v3m1-126v2m0 1v2m0 93v1m0 12v3m1-104v2m0 86v4m0 20v3m0 14v2m1-149v10m0 3v1m0 101v1m0 26v2m1-135v1m0 2v4m0 2v2m0 91v1m0 24v3m1-32v1m0 21v3m1-151v1m0 1v2m0 1v1m0 116v1m0 18v3m1-114v3m0 1v1m0 86v4m4-108v12m1 3v3m4-32v1m0 7v1m1 56v14m0 1v1m1-69v1m0 1v1m1-18v2m0 18v3m0 54v7m0 8v9m1-101v1m0 24v2m0 1v1m0 7v3m1-39v1m0 1v7m0 21v3m1-33v4m0 1v6m0 20v8m1-31v2m0 1v10m0 12v4m0 30v7m1-60v1m0 4v1m0 5v1m0 57v1m2-84v2m0 1v1m0 3v5m0 1v2m0 6v12m1-31v26m0 7v1m0 1v2m2-39v11m1-5v1m0 2v2m0 13v7m0 3v1m0 2v2m0 48v7m2-88v12m0 1v1m0 3v15m1-19v5m0 13v2m0 71v2m1-37v1m0 34v2m1-3v1m0 2v1m1-99v5m0 2v6m0 82v1m0 2v1m1-110v9m0 1v7m0 13v4m0 73v2m1-2v2m0 66v3m1-181v5m0 2v6m0 75v4m0 69v1m0 15v3m1-152v8m0 56v4m0 45v1m0 26v1m1-162v4m0 116v1m0 35v1m1-164v1m0 32v4m0 53v1m0 31v1m1-122v3m0 8v3m0 7v5m0 10v2m0 117v1m1-121v3m0 51v8m1-98v2m0 117v1m1 0v2m1-1v2m1-106v6m0 101v1m0 13v1m1-132v7m0 15v1m0 97v4m1-131v11m0 12v4m3-13v1m1-1v8m1-11v11m3-22v6m0 2v7m0 1v18m0 1v1m1-20v1m0 2v6m0 1v1m1-27v9m0 1v12m0 7v4m0 49v4m0 1v5m1-83v1m0 7v11m0 55v6m0 5v7m2-101v5m0 1v1m0 12v10m1-23v8m1-14v10m0 6v9m0 2v1m0 1v2m0 1v1m0 57v3m0 6v2m1-101v4m1 8v2m0 7v9m0 4v1m0 1v2m1-27v3m0 3v6m1 14v2m1 59v3m1-95v7m0 10v3m0 12v1m0 19v9m0 34v1m0 3v2m0 1v3m1-49v5m1-63v20m1-22v4m1-1v3m0 9v4m0 10v1m0 5v1m0 34v7m1-76v6m1 79v1m0 1v3m2-20v9m0 15v4m2-91v8m0 30v3m0 19v1m0 1v1m0 2v6m1-81v18m1-9v1m0 1v1m0 61v4m0 4v4m1-63v7m1 42v12m1-83v1m0 2v7m0 1v1m0 2v25m1-39v3m0 19v3m0 31v15m0 26v4m1-93v6m2-5v1m0 2v1m0 1v1m0 9v14m1-31v7m1-14v11m0 20v7m1-33v1m0 28v9m1-42v11m0 21v1m0 8v6m1-48v1m1 1v6m0 18v4m1 7v2m1-22v17m0 2v1m1-37v1m0 14v5m0 13v5m2-18v1m1-14v13m1-20v7m1 50v7m1 68v4m0 1v1m1-16v1m0 19v1m1-120v11m0 86v1m0 16v2m1-139v11m0 1v1m0 17v5m0 19v8m0 59v3m0 4v5m1-108v9m0 90v2m1-123v5m2-8v7m0 24v3m1-24v1m0 13v15m0 42v1m1-81v7m0 2v5m0 15v5m0 1v3m0 29v5m1-3v4m1-63v12m0 5v3m0 1v3m9-10v10m4-2v6m2-6v6m1-39v3m0 69v8m2-72v5m1-3v7m1 1v11m0 1v1m0 2v6m1-35v3m0 8v2m0 11v5m0 49v8m4-80v1m0 1v15m0 1v1m0 4v6m1-21v5m1-11v7m2 9v3m11 34v1m0 118v3m1-5v7m2-183v2m0 1v4m0 1v1m1-1v1m0 6v2m4-20v2m0 4v1m0 55v2m3-54v4m3 2v2m0 1v1m0 10v1m2-34v2m0 25v3m0 2v4m3-15v9m7-30v1m1 9v2m0 4v2m0 18v1m0 1v1m0 13v2m1-52v3m0 16v5m0 1v1m1-28v3m0 11v2m0 2v1m0 4v3m0 9v2m2-25v2m0 2v1m1 9v5m1 74v1m2-70v3m1-38v1m0 1v4m0 15v1m0 12v4m1-36v5m2 177v2m1-130v10m0 106v2m1-173v1m0 1v2m0 20v5m0 1v7m0 130v2m0 12v1m2-172v1m1-13v4m0 9v8m0 14v3m1-18v1m0 1v1m1-2v5m0 1v2m4-18v4m0 1v1m0 1v7m0 1v1m0 2v1m0 2v2m1-32v8m0 17v3m0 3v2m3-7v8m2-22v4m1-18v2m1 30v1m0 4v2m1-38v1m0 12v3m0 7v3m0 9v2m2-30v1m0 13v1m0 11v5m3-11v1m0 4v1m5 153v1m0 5v8m1-175v7m0 137v3m0 18v20m1-53v1m1-10v2m0 32v1m1-43v3m0 35v1m1-158v3m0 1v1m0 3v6m0 107v3m0 30v1m1-29v7m0 13v4m1-10v2m1-155v11m3-10v6m0 2v2m0 2v7m0 11v1m2-30v3m0 2v1m0 1v2m0 25v3m1-40v2m0 10v1m6-20v5m1 16v2m2-19v3m0 5v1m0 1v5m0 2v4m2-26v2m1 44v3m1-41v3m0 6v2m0 10v3m0 5v2m1-34v1m0 1v1m0 1v1m0 2v2m1 91v1m4-101v8m4-13v3m0 24v1m1 39v1m0 1v1m4-64v1m0 1v4m3-12v3m0 5v5m0 21v1m4-12v3m3-9v6m0 1v1m4-21v3m2 13v1m0 1v2m5-4v2m0 4v2m3 116v3m1-7v1m0 3v1m1-9v1m0 3v1m8-141v5m32 28v1m0 2v1m6-8v4m3-12v3m0 1v3m1 9v2m5-17v1m4-19v2m21 31v2m3 117v4m0 9v3m1-26v2m0 16v2m1-163v5m0 23v2m0 102v2m0 21v1m1-29v1m0 22v1m1-27v1m0 21v2m1-27v1m0 19v2m1-25v1m0 17v2m1-21v1m0 10v3m1-17v1m0 11v3m1-21v1m0 4v9m1-93v1m1 75v1m0 3v1m1-95v2m0 4v2m0 82v1m1 0v4m1-63v1m0 38v3m0 4v2m0 11v4m0 27v2m0 3v2m1-59v12m0 8v1m0 4v1m0 19v3m1-49v13m0 8v1m0 4v1m1-41v5m0 8v2m0 12v1m0 8v1m0 3v1m1-26v3m0 8v2m0 8v1m0 3v1m1-88v3m0 7v3m0 47v2m0 13v1m0 6v1m0 4v1m1-29v3m0 13v1m0 7v1m0 2v1m1-77v3m0 48v2m0 10v2m0 8v1m0 2v1m1-55v2m0 7v2m0 15v3m0 14v2m0 6v4m1-29v1m0 17v1m0 5v1m0 4v1m1-33v4m0 17v1m0 6v4m1-29v2m0 16v1m1-17v3m0 13v1m1-19v2m0 15v1m1-18v2m0 15v1m1-17v2m0 13v2m1-16v4m0 11v1m1-16v4m0 10v2m1-14v4m0 6v3m1-13v2m0 10v1m1-15v3m0 11v2m1-14v3m0 7v3m1-7v5m1-9v10m1-11v3m0 6v2m2 92v1m0 15v7m0 16v8m1-74v1m0 24v1m1-11v1m1-63v1m0 56v1m2-62v1m1-1v1m1 46v1m1-138v2m0 1v1m0 85v1m1-1v1m0 41v1m1-44v1m0 40v1m1-123v1m0 1v3m0 77v1m1-1v1m1-91v4m0 86v1m1-1v1m1 0v1m1 0v1m1-1v1m0 21v1m1-3v1m1-19v1m0 14v1m1-16v1m0 9v2m1-11v1m0 3v2m1-5v1m1-82v1m3-20v2m0 10v3m0 439v4m0 15v2m1-494v1m2 287v1m1 174v5m0 11v2m0 9v4m1-157v6m1-2v2m0 11v3m0 110v3m1-124v2m0 18v3m0 95v5m0 3v4m0 4v3m1-458v3m0 7v4m0 310v2m0 18v2m0 111v3m0 7v1m1-141v1m0 24v1m1-16v2m0 14v1m1-11v13m1 81v11m5-445v1m1 462v1m0 2v2m0 1v1m5-40v13m0 17v5m1-11v4m0 1v1m0 6v1m0 1v2m1-36v5m0 20v3m2-462v5m0 1v3m0 421v7m0 21v3m0 8v1m1-496v6m0 10v2m0 14v5m0 440v3m0 2v4m2-14v3m0 8v4m0 1v1m0 1v1m1-21v2m0 15v7m1-38v5m0 15v9m0 5v3m1-23v5m0 5v16m1-484v2m0 1v5m0 452v3m0 5v2m1-2v1m1-158v7m0 36v7m1-52v8m0 52v2"/>
<path fill="none" stroke="#f08000" d="M64.5 70v12m0 20v4m0 4v12m0 15v5m1-59v6m0 12v5m0 18v7m0 18v5m0 18v5m0 2v2m1-106v8m0 9v15m0 10v6m0 4v15m0 30v1m1-97v12m0 12v6m0 1v7m0 21v7m0 33v2m0 2v2m1-114v6m0 7v1m0 20v10m0 8v6m0 3v1m0 34v7m0 2v1m0 4v4m1-103v20m0 13v15m0 3v13m0 4v17m0 1v1m0 7v5m0 2v2m1-86v31m0 1v7m0 11v5m0 8v11m0 3v6m0 1v2m1-114v1m0 19v12m0 7v7m0 8v6m0 10v5m0 30v5m0 2v1m1-112v6m0 8v8m0 8v6m0 24v5m0 39v5m0 2v2m1-102v19m0 11v20m0 3v5m0 5v4m0 26v2m1-102v38m0 5v27m0 16v6m1-97v13m0 7v9m0 27v11m0 8v1m0 21v5m0 3v7m1-79v6m0 34v2m0 30v5m0 2v2m1-114v8m0 4v1m0 1v33m0 9v19m0 30v5m0 2v2m1-114v39m0 6v13m0 16v1m0 30v5m0 2v2m1-114v2m0 13v16m0 8v16m0 13v2m1-70v22m0 7v10m0 1v35m0 30v5m0 2v2m1-114v24m0 15v10m0 10v16m0 13v8m0 9v5m0 2v2m1-114v44m0 11v15m0 1v4m0 30v5m0 2v2m1-99v5m0 15v1m0 1v12m0 1v25m0 33v2m0 2v2m1-114v44m0 26v1m0 1v3m0 4v5m0 16v4m0 1v5m1-102v31m0 2v21m0 4v5m0 37v2m0 1v1m1-73v1m0 2v11m0 6v12m0 34v5m0 2v2m1-112v15m0 8v8m0 1v2m0 1v11m0 7v8m0 12v12m0 18v5m0 1v1m1-107v6m0 3v20m1-23v3m0 1v1m0 13v4m0 1v1m0 4v9m0 2v9m0 14v2m0 6v8m0 16v5m0 2v2m1-109v28m0 6v3m0 11v1m0 7v6m0 8v2m0 28v5m0 3v1m1-114v18m0 1v10m0 1v2m0 2v1m0 1v1m0 1v12m0 17v8m0 30v5m0 2v1m2-113v25m0 8v6m0 3v33m0 30v5m0 2v2m1-114v5m0 5v7m0 8v27m0 8v9m0 6v7m0 7v9m0 14v2m1-113v6m0 13v25m0 9v4m0 5v12m0 30v5m0 2v2m1-88v3m0 16v4m0 6v16m0 2v2m0 30v5m0 2v2m1-83v11m0 9v3m0 20v1m0 30v5m0 2v2m1-112v14m0 11v7m0 1v1m0 2v32m0 29v5m0 1v5m0 2v2m1-96v2m0 19v7m0 18v5m0 24v11m0 1v5m0 2v2m1-97v39m0 7v7m0 2v2m0 7v11m0 6v6m0 1v1m0 1v1m0 1v3m1-102v18m0 8v8m0 9v18m0 34v5m0 2v2m1-114v9m0 18v48m0 30v3m1-62v11m0 48v4m0 3v2m1-114v9m0 10v16m0 1v34m0 42v2m1-114v18m0 6v1m0 1v1m0 1v2m0 1v10m0 11v1m0 1v10m0 11v3m1-78v8m0 2v11m0 8v36m0 45v2m0 1v1m1-102v32m0 1v1m0 10v19m0 32v3m0 2v2m1-114v20m0 1v1m0 15v38m0 30v4m0 1v2m1-112v4m0 1v1m0 10v14m0 3v5m0 1v3m0 1v7m0 15v5m0 5v4m0 31v2m1-106v18m0 27v13m0 9v2m0 13v11m0 6v5m0 2v2m1-110v15m0 20v13m0 15v8m0 9v4m0 17v5m0 2v2m1-95v6m0 15v1m0 1v5m0 8v16m0 4v14m0 21v4m1-111v6m0 15v6m0 9v13m0 53v5m0 2v2m1-104v13m0 16v9m0 28v9m1-81v1m0 1v1m1 0v10m0 8v25m0 31v20m1-92v22m0 7v1m1-39v5m0 12v15m0 6v1m0 9v25m0 14v6m1-89v4m0 9v18m0 4v13m0 19v7m1-78v5m0 42v1m0 11v10m0 34v1m1-84v19m1-39v4m0 12v1m1-17v3m0 3v33m0 39v6m0 1v1m0 2v16m1-77v21m0 11v8m0 24v7m0 12v2m1-112v15m0 8v1m0 1v8m1-22v13m0 7v5m0 15v2m1-44v2m0 1v23m0 4v22m0 2v11m1-43v8m1-35v6m1-4v2m0 1v2m0 50v7m1-68v5m0 8v2m0 1v1m0 62v7m2-84v15m0 10v6m0 1v5m1-20v4m0 31v2m1-45v26m0 73v2m1-2v2m1-84v11m1-39v3m0 1v2m0 8v1m0 1v1m0 4v2m0 3v3m1-29v2m0 28v3m0 3v3m1-28v9m1-18v2m0 1v1m1-5v12m0 15v5m0 1v1m1-17v5m0 1v6m0 57v7m1-93v1m1 1v5m0 1v1m0 10v1m0 1v4m0 11v2m1-39v13m0 10v7m3-29v1m0 1v4m0 1v1m0 9v1m0 17v2m1-18v4m0 10v1m0 1v3m1 14v1m0 51v4m0 1v2m1-76v1m1-37v5m0 1v12m2 15v5m2-38v6m0 7v10m0 13v1m1-36v8m0 60v7m0 11v5m0 9v3m0 6v2m1-112v9m1-9v5m0 20v7m1 73v7m1-111v9m0 1v1m0 13v13m0 49v11m1 12v2m2-2v2m1-99v3m0 11v2m1-25v4m0 16v10m1-34v2m0 9v4m0 15v1m0 7v1m1-35v5m0 1v1m0 22v2m2-5v8m2-23v1m1-10v8m0 23v2m1-8v8m1 71v2m1-94v1m0 6v4m1-29v7m0 1v1m0 1v4m0 83v4m1-64v2m0 71v2m1-111v1m0 1v1m0 1v3m2 6v6m0 90v2m1-112v3m0 6v9m0 1v14m1-33v6m0 1v1m0 21v3m1-11v9m2 3v6m1-1v1m0 35v1m1 35v5m1-115v5m0 5v5m0 95v2m1-112v7m0 6v7m0 3v1m0 2v13m0 12v3m0 8v4m0 13v8m1-70v1m0 71v5m0 1v3m1-93v1m1 16v9m0 79v2m3-23v4m1-93v19m0 70v2m1-88v19m0 2v1m0 2v7m1-31v11m0 8v3m0 64v3m1-87v16m0 55v1m0 1v1m1-68v6m0 14v3m0 49v5m0 8v3m1-99v1m1-1v8m0 1v1m0 16v13m0 32v12m0 2v7m2-1v3m1-94v1m0 20v2m1-23v1m0 1v1m0 2v13m0 11v5m0 39v7m1-76v4m0 8v3m0 12v8m1-39v6m0 14v6m0 6v7m0 33v14m0 1v6m1 14v5m1-104v19m1-20v19m0 2v10m2-18v6m0 51v8m1-82v8m1-11v3m0 27v6m2-30v3m0 13v6m0 1v9m2-23v1m0 1v7m0 40v1m1-65v13m0 42v1m0 36v6m1-92v15m0 8v9m1-24v1m0 2v1m0 42v1m1-61v9m0 7v3m0 9v7m0 1v1m0 73v2m1-98v12m1 33v3m1-37v9m0 76v2m1-112v3m0 2v6m1-8v3m0 10v4m0 8v2m1-6v6m0 80v2m2-102v11m2 1v15m1-19v1m0 1v4m0 11v4m1-38v11m2-11v5m0 32v1m10-39v2m0 1v1m0 1v2m4 156v1m1 3v3m1-33v1m0 19v2m1-134v10m0 1v1m0 93v1m0 14v5m1-24v1m0 9v2m1-14v1m0 27v4m0 8v2m1-31v1m0 23v2m1-126v2m0 94v1m0 19v4m1-28v1m0 18v2m1-147v1m0 121v1m0 13v4m10-137v2m0 1v4m3-9v5m0 9v4m1 7v1m0 1v7m1-27v21m1-26v1m0 6v4m0 8v1m0 1v6m1-31v8m0 2v1m0 26v2m3-37v1m0 1v3m0 5v1m0 2v6m0 12v6m3-28v11m0 12v5m3-1v1m3 71v2m1-93v2m0 89v2m1-92v13m1 148v3m1-179v2m0 155v1m0 12v2m1-35v1m0 24v1m1-168v7m1 30v2m0 84v1m0 35v1m1-160v1m0 14v7m0 5v10m0 83v1m1-2v1m0 32v1m1-33v1m0 28v1m1-28v1m0 22v1m1-23v1m0 18v1m1-18v2m0 9v2m2-127v12m8-17v2m2 1v1m0 12v7m0 57v1m1 2v5m4-84v6m0 77v6m2-85v7m0 9v4m0 1v1m0 2v1m1-25v3m3-17v6m0 20v12m0 64v1m3-103v2m0 4v24m1-22v9m7 1v7m0 2v2m0 1v2m0 1v6m1 38v4m1-52v10m2-29v1m0 1v2m1 11v5m0 1v8m1-39v8m1-7v9m0 3v26m7-9v6m0 2v1m1-39v37m2-17v13m7 90v1m0 17v1m1-21v1m0 12v3m1-102v4m0 85v4m4-121v24m1-31v3m0 3v4m1-2v2m0 25v1m20-36v3m0 1v4m3-1v4m0 1v3m8 16v8m11 148v6m4-178v2m0 1v3m4-16v4m8 21v2m11-20v4m1-16v2m1 14v2m0 1v4m0 14v2m2-39v1m0 8v3m5-12v1m0 1v1m0 20v12m1-35v3m2 184v1m0 22v11m1-46v2m0 9v1m1-156v1m0 139v1m0 9v2m3-145v1m2-13v1m4-2v1m0 1v2m0 1v2m1-2v3m8-33v1m0 16v7m0 14v1m2-33v2m0 15v4m0 3v4m3-5v4m5 155v5m0 8v19m1-47v4m0 11v3m1-32v2m0 23v2m1-35v3m0 28v1m1-39v3m0 30v2m1-143v3m0 107v4m0 24v2m1-21v13m2-162v3m5 5v2m0 1v1m1-8v2m0 2v6m6-20v1m3 7v5m0 1v1m0 5v2m4-18v4m0 11v2m0 1v1m0 4v2m1-21v1m0 1v2m14-5v1m3-5v5m0 27v2m3-13v10m8-33v3m5-4v6m2 16v4m4 115v3m1-7v3m83 20v2m0 4v3m1-21v3m0 11v2m1-131v6m0 98v3m0 16v2m1-27v1m0 19v2m1-25v1m0 18v2m1-24v1m0 16v2m1-22v1m0 13v3m1-18v1m0 6v3m1-13v1m0 7v3m3-20v3m1-92v4m0 85v4m2-21v4m0 46v3m1-36v4m1-4v4m1-25v4m0 5v3m0 10v3m1-22v8m0 11v3m1-84v7m0 52v3m0 7v3m0 8v1m0 2v1m1-25v5m0 5v3m0 9v2m1-23v10m0 11v2m1-52v7m0 20v14m1-16v3m0 11v3m0 7v4m1-28v2m0 12v3m1-16v2m0 12v2m1-13v7m0 4v2m1-16v4m0 8v3m1-15v3m0 9v3m1-14v13m1-10v11m1-11v10m1-8v6m1-8v10m1-11v11m1-9v7m3-6v6m2 95v15m0 7v16m1-65v1m0 21v2m1-53v2m0 39v2m2-10v1m1-56v1m0 51v1m1-5v1m1-50v1m1 42v1m1-44v1m1-2v1m1 0v1m0 35v1m1-37v1m1-1v1m0 30v1m1-32v1m0 28v1m1-29v1m0 25v1m1-3v1m1-24v1m1-1v1m1 14v1m1-6v1m1-8v3m5-101v10m0 440v2m0 21v2m4-15v1m0 6v2m2-147v2m0 3v6m0 110v3m1-119v2m0 13v3m0 110v4m1-452v7m0 316v3m0 12v3m0 111v2m0 11v2m1-142v2m0 20v2m1-13v2m0 10v2m2 80v4m2 34v2m5-30v7m0 18v1m0 1v3m5-12v1m0 1v6m0 1v1m1-38v4m0 28v8m2-465v1m0 455v8m1-489v10m0 464v2m2-7v8m1-27v14m1 23v3m2-27v3m0 10v3m2-155v13m0 15v8m1-37v6m0 43v3"/>
<path fill="none" stroke="#f06000" d="M64.5 67v3m0 12v20m0 4v4m0 12v15m0 5v7m0 23v9m1-92v12m0 5v18m0 7v18m0 5v10m0 6v1m0 6v2m1-112v8m0 48v4m0 15v29m0 2v8m1-39v29m0 6v2m1-54v3m0 1v34m0 7v1m1-104v11m0 20v8m0 36v4m0 17v1m0 1v6m0 6v2m1-112v28m0 31v1m0 23v8m0 11v2m0 7v1m1-52v10m0 5v29m0 6v2m1-112v1m0 22v8m0 8v22m0 5v9m0 8v21m0 6v2m1-112v12m0 19v8m0 23v3m0 14v25m0 3v7m1-71v5m0 27v16m0 6v7m1-91v7m0 9v10m0 37v21m0 5v2m1-104v33m0 6v34m0 2v19m0 16v2m1-65v9m0 19v11m0 11v7m0 6v2m1-73v6m0 13v16m0 1v12m0 14v3m0 6v2m1-110v13m0 16v8m0 16v13m0 2v20m0 9v5m0 1v5m0 1v3m1-75v1m0 35v29m0 6v2m1-37v13m0 8v8m0 6v2m1-68v11m0 20v29m0 6v2m1-112v15m0 5v15m0 1v1m0 38v9m0 9v11m0 1v3m0 2v2m1-37v4m0 5v16m0 10v4m1-114v8m0 31v2m0 21v4m0 5v33m0 1v3m0 2v1m1-71v2m0 11v6m0 12v4m0 3v8m0 1v17m0 6v2m1-112v2m0 46v7m0 32v17m0 6v1m1-111v5m0 29v54m0 6v10m0 1v6m0 1v2m1-114v11m0 3v1m0 1v13m0 4v1m0 1v4m0 9v2m0 9v14m0 2v6m0 8v15m0 6v2m1-79v6m0 3v11m0 1v7m0 16v9m0 3v15m0 6v3m1-84v1m0 2v2m0 1v1m0 1v1m0 12v17m0 8v17m0 1v1m0 6v4m0 6v2m0 1v1m2-75v3m0 33v29m0 6v2m0 77v1m0 4v1m0 24v1m0 9v1m0 4v1m1-183v8m0 22v7m0 9v6m0 1v7m1-105v13m0 25v9m0 21v29m0 6v2m1-112v26m0 3v16m0 4v6m0 16v2m0 2v21m0 14v2m1-112v31m0 11v9m0 24v29m0 6v2m1-112v2m0 14v11m0 7v1m0 1v2m0 32v6m0 1v22m0 11v2m1-112v18m0 2v19m0 7v18m0 5v6m0 13v5m0 17v2m1-112v17m0 53v2m0 2v7m0 11v6m1-70v8m0 35v33m0 6v2m1-37v29m0 4v6m1-75v7m0 11v18m0 3v26m0 5v3m1-42v5m0 4v25m0 1v7m1-94v6m0 1v1m0 1v1m0 2v1m0 10v11m0 1v1m0 24v26m0 1v9m1-106v2m0 55v10m0 4v25m1-104v12m0 63v10m0 17v2m0 1v2m0 3v2m1-92v1m0 1v15m0 38v29m1-66v1m0 11v15m0 14v25m1-104v6m0 18v15m0 36v13m0 11v5m0 6v2m1-37v9m0 4v16m0 6v2m1-112v19m0 6v15m0 1v1m0 5v8m0 34v15m1-104v3m0 49v50m0 8v2m1-112v10m0 13v16m1-39v4m0 1v1m0 1v25m0 6v1m1-39v7m0 10v8m1-25v9m0 22v7m1-6v6m1-38v4m0 31v4m2-39v6m0 1v13m1-16v12m0 1v22m1 45v1m0 1v2m1-88v27m2-27v11m0 25v3m7-22v10m1-4v16m5-6v3m4-13v1m0 6v9m3-26v10m3 15v1m1-27v8m0 4v10m0 1v1m5 2v1m2-33v7m1-13v1m0 91v9m4-63v1m5-39v4m0 30v5m1-37v9m1 24v4m8-39v18m0 1v6m6-22v6m7-4v5m1 10v3m0 1v2m0 28v8m1 32v1m7-73v2m0 1v2m1-13v8m2 12v5m0 49v8m7-88v8m1 10v6m0 54v1m6-87v3m3 6v13m6-13v7m4-13v2m1 1v10m0 4v8m9-28v1m10 1v1m0 1v1m5 138v2m0 19v3m1-29v1m0 14v4m1-26v2m0 9v3m1-12v3m1 20v8m1-28v2m0 17v4m1-27v2m0 13v4m1-23v1m0 11v6m1-22v1m0 4v8m10-131v1m3 0v9m3-1v8m0 1v1m7-3v12m9 150v4m0 39v23m1-87v1m0 9v2m1-32v2m0 21v1m1-39v2m0 31v2m1-39v1m0 33v1m1-38v1m0 33v1m1-36v2m0 29v1m1-31v1m0 26v1m1-26v2m0 19v1m1-21v2m0 15v1m1-15v9m26-106v7m8-12v2m0 2v1m0 2v1m5-3v1m2-31v1m0 9v3m7 23v2m10 86v4m0 11v2m1-19v3m0 4v5m6-131v3m21-3v1m3 7v1m19 181v4m0 13v2m0 20v18m4-233v1m27-17v8m8 179v1m0 3v18m1-33v2m0 5v2m1-14v9m20-181v1m0 2v3m0 21v3m8 190v19m1-62v4m0 5v2m1-27v3m0 19v1m1-30v3m0 23v2m1-35v5m0 22v3m1-27v7m0 8v9m3-174v6m6 6v2m13-14v4m0 17v1m0 1v4m18 10v2m3-38v4m0 14v5m13-18v30m90 126v4m1-15v3m0 5v3m1-22v3m0 11v2m1-24v3m0 14v2m1-22v2m0 13v3m1-21v2m0 10v4m1-19v1m0 8v4m1-14v1m0 2v3m1-9v7m9-34v5m2-6v7m0 12v2m1-19v5m3-10v11m1-12v12m1-11v12m1-4v4m1-10v8m1-9v9m13 69v2m0 16v3m1-49v1m0 37v1m1-59v1m0 53v2m1-58v1m0 51v1m1-4v1m1-52v1m1-1v1m0 44v1m1-47v2m0 40v1m1-42v1m0 38v1m1-41v2m0 36v1m1-38v1m0 33v1m1-35v1m0 31v1m1-33v1m0 28v1m1-30v1m1 0v1m0 23v1m1-25v1m0 21v1m1-22v1m0 18v1m1-20v1m0 15v2m1-17v1m0 8v4m1-13v1m0 3v4m6 332v4m0 1v2m0 1v5m0 25v2m4-16v6m2-143v3m0 110v6m1-114v2m0 5v6m1-9v5m0 4v3m0 95v9m0 6v4m0 15v3m1-143v4m0 13v3m1-9v10m4 110v10m5-32v4m0 7v7m0 1v10m0 1v1m15-37v2m0 3v8m0 16v6m0 4v1m2-153v15m1-23v43"/>
<path fill="none" stroke="#f04000" d="M64.5 149v22m1-7v6m7-28v8m4 11v10m1-18v11m1-10v14m1-11v9m0 11v1m4-27v9m3-18v3m0 8v1m2 1v6m0 17v1m2-26v3m1 3v1m0 1v6m5-4v8m2-28v1m1-2v13m4-13v3m1-3v4m2-4v4m1 6v17m6 0v2m2-72v6m6-32v1m29-7v12m104 133v5m0 9v5m1-25v2m0 7v5m1-20v2m0 1v6m1-15v1m0 1v4m2 5v4m0 7v6m1-21v1m0 4v8m1-18v11m1-15v4m32 59v27m1-51v3m0 2v4m1-28v3m0 16v2m1-36v2m0 28v1m1-36v1m0 31v1m1-36v2m0 29v2m1-33v2m0 25v2m1-29v3m0 21v2m1-23v3m0 14v2m1-18v4m0 9v2m27-104v2m32 89v11m1-14v4m49 68v13m0 2v20m39-43v3m1-13v5m21-183v2m9 178v5m1-22v8m0 7v4m1-26v3m0 16v4m1-28v10m0 3v9m1-17v8m43-160v14m104 135v5m1-16v5m0 1v5m1-19v5m0 4v5m1-18v3m0 2v8m1-16v1m0 3v6m1-14v8m1-9v2m34 44v4m0 9v3m1-45v3m0 32v2m1-57v3m0 48v2m1-55v1m0 48v2m1-53v1m0 47v2m1-50v1m0 44v2m1-5v2m1-44v1m0 37v2m1-40v1m0 35v2m1-38v1m0 33v2m1-36v1m0 31v1m1-33v1m0 28v2m1-31v2m0 24v2m1-28v2m0 23v2m1-26v1m0 19v3m1-23v2m0 17v2m1-20v1m0 15v2m1-18v15m1-14v8m1-8v3m6 340v1m0 2v1m7-114v5m1 2v4m0 95v3m0 9v6m1-117v9m0 1v3m5 86v28m5-28v6m0 18v1m15-23v3m0 30v4"/>
<path fill="none" stroke="#f02000" d="M93.5 266v1m0 9v1m0 34v1m161-95v9m1-18v7m1-13v1m1-8v1m2 13v7m1-14v4m35 28v2m1-21v4m0 9v3m1-32v3m0 22v3m1-34v2m0 26v3m1-33v2m0 25v2m1-29v3m0 19v3m1-24v3m0 15v3m1-18v14m1-12v9m180 33v7m1-19v16m1-14v3m149-17v1m1-9v4m1-10v2m1-7v3m36 41v9m1-39v5m0 24v3m1-52v4m0 40v4m1-8v4m1-50v1m0 43v3m1-6v3m1-45v2m0 38v2m1-41v1m0 33v3m1-37v1m0 31v3m1-35v1m0 29v3m1-33v1m0 26v4m1-31v2m0 23v3m1-27v1m0 19v4m1-24v1m0 18v4m1-23v3m0 9v7m1-18v5m0 7v5m1-17v15m18 234v1"/>
<path fill="none" stroke="#f00000" d="M296.5 219v9m1-26v3m0 15v4m1-29v3m0 19v4m1-28v6m0 14v5m1-24v7m0 6v6m1-18v15m373 5v12m0 5v7m1-45v6m0 28v6m1-48v5m0 34v5m1-45v1m0 37v5m1-44v2m0 34v5m1-40v2m0 30v6m1-38v6m0 22v5m1-33v5m0 19v7m1-31v6m0 16v7m1-29v8m0 10v8m1-25v11m0 5v7m1-23v19m1-19v18m1-16v9m1-6v7"/>
<path fill="none" stroke="#c00000" d="M297.5 205v6m0 5v4m1-22v4m0 8v7m1-18v5m0 3v6m1-12v6m374 20v5m1-32v8m0 15v5m1-37v4m0 24v6m1-39v5m0 26v6m1-37v5m0 22v7m1-33v7m0 15v8m1-26v7m0 7v8m1-23v10m0 1v8m1-18v16m1-14v10m1-6v5"/>
<path fill="none" stroke="#900000" d="M297.5 211v5m1-14v8m1-6v3m376 1v6m0 3v6m1-28v3m0 16v5m1-28v5m0 13v8m1-26v7m0 5v10m1-19v15m1-11v7m1-5v1"/>
<path fill="none" stroke="#600000" d="M675.5 214v3m1-19v16m1-18v13m1-11v5"/>
<rect x="63" y="66" width="675" height="1" fill="#000"/>
<rect x="63" y="565" width="675" height="1" fill="#000"/>
<rect x="63" y="316" width="675" height="1" fill="#000"/>
<rect x="63" y="66" width="1" height="500" fill="#000"/>
<rect x="737" y="66" width="1" height="500" fill="#000"/>
<rect x="57" y="66" width="6" height="1" fill="#000"/>
<text x="53.7" y="69" font-size="10" text-anchor="end">2.5kHz</text>
<rect x="57" y="106" width="6" height="1" fill="#000"/>
<text x="53.7" y="109" font-size="10" text-anchor="end">10kHz</text>
<rect x="57" y="171" width="6" height="1" fill="#000"/>
<text x="53.7" y="174" font-size="10" text-anchor="end">100kHz</text>
<rect x="57" y="237" width="6" height="1" fill="#000"/>
<text x="53.7" y="240" font-size="10" text-anchor="end">1MHz</text>
<rect x="57" y="302" width="6" height="1" fill="#000"/>
<text x="53.7" y="305" font-size="10" text-anchor="end">10MHz</text>
<rect x="57" y="315" width="6" height="1" fill="#000"/>
<text x="53.7" y="318" font-size="10" text-anchor="end">16MHz</text>
<rect x="57" y="329" width="6" height="1" fill="#000"/>
<text x="53.7" y="332" font-size="10" text-anchor="end">10MHz</text>
<rect x="57" y="395" width="6" height="1" fill="#000"/>
<text x="53.7" y="398" font-size="10" text-anchor="end">1MHz</text>
<rect x="57" y="460" width="6" height="1" fill="#000"/>
<text x="53.7" y="463" font-size="10" text-anchor="end">100kHz</text>
<rect x="57" y="526" width="6" height="1" fill="#000"/>
<text x="53.7" y="529" font-size="10" text-anchor="end">10kHz</text>
<rect x="57" y="565" width="6" height="1" fill="#000"/>
<text x="53.7" y="568" font-size="10" text-anchor="end">2.5kHz</text>
<rect x="738" y="67" width="3" height="1" fill="#000"/>
<text x="741.8" y="71" font-size="10" textLength="14" lengthAdjust="spacingAndGlyphs">0.1</text>
<rect x="738" y="100" width="3" height="1" fill="#000"/>
<text x="741.8" y="104" font-size="10" textLength="14.3" lengthAdjust="spacingAndGlyphs">1.0</text>
<rect x="738" y="132" width="3" height="1" fill="#000"/>
<text x="741.8" y="136" font-size="10" textLength="20.2" lengthAdjust="spacingAndGlyphs">10.0</text>
<rect x="738" y="165" width="3" height="1" fill="#000"/>
<text x="741.8" y="169" font-size="10" textLength="26" lengthAdjust="spacingAndGlyphs">100.0</text>
<rect x="738" y="460" width="3" height="1" fill="#000"/>
<text x="741.8" y="464" font-size="10" textLength="26" lengthAdjust="spacingAndGlyphs">100.0</text>
<rect x="738" y="493" width="3" height="1" fill="#000"/>
<text x="741.8" y="497" font-size="10" textLength="20.2" lengthAdjust="spacingAndGlyphs">10.0</text>
<rect x="738" y="526" width="3" height="1" fill="#000"/>
<text x="741.8" y="530" font-size="10" textLength="14.3" lengthAdjust="spacingAndGlyphs">1.0</text>
<rect x="738" y="558" width="3" height="1" fill="#000"/>
<text x="741.8" y="562" font-size="10" textLength="14" lengthAdjust="spacingAndGlyphs">0.1</text>
<rect x="64" y="566" width="1" height="3" fill="#000"/>
<text x="63.4" y="579" font-size="10" text-anchor="middle" textLength="25" lengthAdjust="spacingAndGlyphs">00:00</text>
<rect x="64" y="314" width="1" height="2" fill="#000"/>
<rect x="92" y="566" width="1" height="2" fill="#000"/>
<rect x="92" y="315" width="1" height="1" fill="#000"/>
<rect x="120" y="566" width="1" height="2" fill="#000"/>
<rect x="120" y="315" width="1" height="1" fill="#000"/>
<rect x="148" y="566" width="1" height="3" fill="#000"/>
<text x="147.4" y="579" font-size="10" text-anchor="middle" textLength="25" lengthAdjust="spacingAndGlyphs">03:00</text>
<rect x="148" y="314" width="1" height="2" fill="#000"/>
<rect x="176" y="566" width="1" height="2" fill="#000"/>
<rect x="176" y="315" width="1" height="1" fill="#000"/>
<rect x="204" y="566" width="1" height="2" fill="#000"/>
<rect x="204" y="315" width="1" height="1" fill="#000"/>
<rect x="232" y="566" width="1" height="3" fill="#000"/>
<text x="231.4" y="579" font-size="10" text-anchor="middle" textLength="25" lengthAdjust="spacingAndGlyphs">06:00</text>
<rect x="232" y="314" width="1" height="2" fill="#000"/>
<rect x="260" y="566" width="1" height="2" fill="#000"/>
<rect x="260" y="315" width="1" height="1" fill="#000"/>
<rect x="288" y="566" width="1" height="2" fill="#000"/>
<rect x="288" y="315" width="1" height="1" fill="#000"/>
<rect x="316" y="566" width="1" height="3" fill="#000"/>
<text x="315.4" y="579" font-size="10" text-anchor="middle" textLength="25" lengthAdjust="spacingAndGlyphs">09:00</text>
<rect x="316" y="314" width="1" height="2" fill="#000"/>
<rect x="344" y="566" width="1" height="2" fill="#000"/>
<rect x="344" y="315" width="1" height="1" fill="#000"/>
<rect x="372" y="566" width="1" height="2" fill="#000"/>
<rect x="372" y="315" width="1" height="1" fill="#000"/>
<rect x="400" y="566" width="1" height="3" fill="#000"/>
<text x="399.4" y="579" font-size="10" text-anchor="middle" textLength="25" lengthAdjust="spacingAndGlyphs">12:00</text>
<rect x="400" y="314" width="1" height="2" fill="#000"/>
<rect x="428" y="566" width="1" height="2" fill="#000"/>
<rect x="428" y="315" width="1" height="1" fill="#000"/>
<rect x="456" y="566" width="1" height="2" fill="#000"/>
<rect x="456" y="315" width="1" height="1" fill="#000"/>
<rect x="484" y="566" width="1" height="3" fill="#000"/>
<text x="483.4" y="579" font-size="10" text-anchor="middle" textLength="25" lengthAdjust="spacingAndGlyphs">15:00</text>
<rect x="484" y="314" width="1" height="2" fill="#000"/>
<rect x="512" y="566" width="1" height="2" fill="#000"/>
<rect x="512" y="315" width="1" height="1" fill="#000"/>
<rect x="540" y="566" width="1" height="2" fill="#000"/>
<rect x="540" y="315" width="1" height="1" fill="#000"/>
<rect x="568" y="566" width="1" height="3" fill="#000"/>
<text x="567.4" y="579" font-size="10" text-anchor="middle" textLength="25" lengthAdjust="spacingAndGlyphs">18:00</text>
<rect x="568" y="314" width="1" height="2" fill="#000"/>
<rect x="596" y="566" width="1" height="2" fill="#000"/>
<rect x="596" y="315" width="1" height="1" fill="#000"/>
<rect x="624" y="566" width="1" height="2" fill="#000"/>
<rect x="624" y="315" width="1" height="1" fill="#000"/>
<rect x="652" y="566" width="1" height="3" fill="#000"/>
<text x="651.4" y="579" font-size="10" text-anchor="middle" textLength="25" lengthAdjust="spacingAndGlyphs">21:00</text>
<rect x="652" y="314" width="1" height="2" fill="#000"/>
<rect x="680" y="566" width="1" height="2" fill="#000"/>
<rect x="680" y="315" width="1" height="1" fill="#000"/>
<rect x="708" y="566" width="1" height="2" fill="#000"/>
<rect x="708" y="315" width="1" height="1" fill="#000"/>
<rect x="737" y="566" width="1" height="3" fill="#000"/>
<text x="736.4" y="579" font-size="10" text-anchor="middle" textLength="25" lengthAdjust="spacingAndGlyphs">24:00</text>
<rect x="737" y="314" width="1" height="2" fill="#000"/>
<rect x="90" y="60" width="4" height="1" fill="#000"/>
<rect x="91" y="61" width="2" height="2" fill="#000"/>
<text x="259.9" y="10" font-size="10" textLength="272.5" lengthAdjust="spacingAndGlyphs">STEREO/WAVES Daily Summary - 12-Nov-2013 (DOY 316)</text>
<text x="7.8" y="29" font-size="10" textLength="273.4" lengthAdjust="spacingAndGlyphs">Ahead source file = swaves_ahead_2013_316_1_05.fin</text>
<text x="7.6" y="609" font-size="10" textLength="279" lengthAdjust="spacingAndGlyphs">Behind source file = swaves_behind_2013_316_1_05.fin</text>
<text x="552.7" y="609" font-size="10" textLength="231" lengthAdjust="spacingAndGlyphs">2014-01-30 10:58:31, TMlib V943, Dynspec 20e</text>
<text x="372" y="595" font-size="10" textLength="50.4" lengthAdjust="spacingAndGlyphs">Time (UTC)</text>
<text x="0" y="0" font-size="10" style="fill:#fff;stroke:#fff" transform="translate(10.5,201) rotate(-90)" textLength="34" lengthAdjust="spacingAndGlyphs">Ahead</text>
<text x="0" y="0" font-size="10" style="fill:#fff;stroke:#fff" transform="translate(10.5,478) rotate(-90)" textLength="38" lengthAdjust="spacingAndGlyphs">Behind</text>
<rect x="761" y="245" width="15" height="4.5" fill="#880088"/>
<rect x="761" y="249.5" width="15" height="9" fill="#480050"/>
<rect x="761" y="258.5" width="15" height="9.5" fill="#400000"/>
<rect x="761" y="268" width="15" height="9.5" fill="#6c0000"/>
<rect x="761" y="277.5" width="15" height="9.5" fill="#900000"/>
<rect x="761" y="287" width="15" height="10" fill="#b80000"/>
<rect x="761" y="297" width="15" height="9" fill="#e00000"/>
<rect x="761" y="306" width="15" height="14" fill="#ff0000"/>
<rect x="761" y="320" width="15" height="7" fill="#f81800"/>
<rect x="761" y="327" width="15" height="6" fill="#f02c00"/>
<rect x="761" y="333" width="15" height="6" fill="#f04000"/>
<rect x="761" y="339" width="15" height="5" fill="#f05000"/>
<rect x="761" y="344" width="15" height="4" fill="#f06000"/>
<rect x="761" y="348" width="15" height="3" fill="#f07000"/>
<rect x="761" y="351" width="15" height="3" fill="#f08800"/>
<rect x="761" y="354" width="15" height="2" fill="#f0a000"/>
<rect x="761" y="356" width="15" height="3" fill="#f0d800"/>
<rect x="761" y="359" width="15" height="2" fill="#d0f000"/>
<rect x="761" y="361" width="15" height="2" fill="#80f000"/>
<rect x="761" y="363" width="15" height="1.5" fill="#00e040"/>
<rect x="761" y="364.5" width="15" height="1" fill="#00c0ff"/>
<rect x="761" y="365.5" width="15" height="0.5" fill="#1000f0"/>
<rect x="760.5" y="244.5" width="16" height="122" fill="none" stroke="#000" stroke-width="1"/>
<text x="759.5" y="246.5" font-size="10" text-anchor="end">24</text>
<text x="759.5" y="279.5" font-size="10" text-anchor="end">18</text>
<text x="759.5" y="307.5" font-size="10" text-anchor="end">13</text>
<text x="759.5" y="340.5" font-size="10" text-anchor="end">7</text>
<text x="759.5" y="367.5" font-size="10" text-anchor="end">2</text>
<text x="760" y="376.5" font-size="10">dB</text>
</svg>
</body></html>
